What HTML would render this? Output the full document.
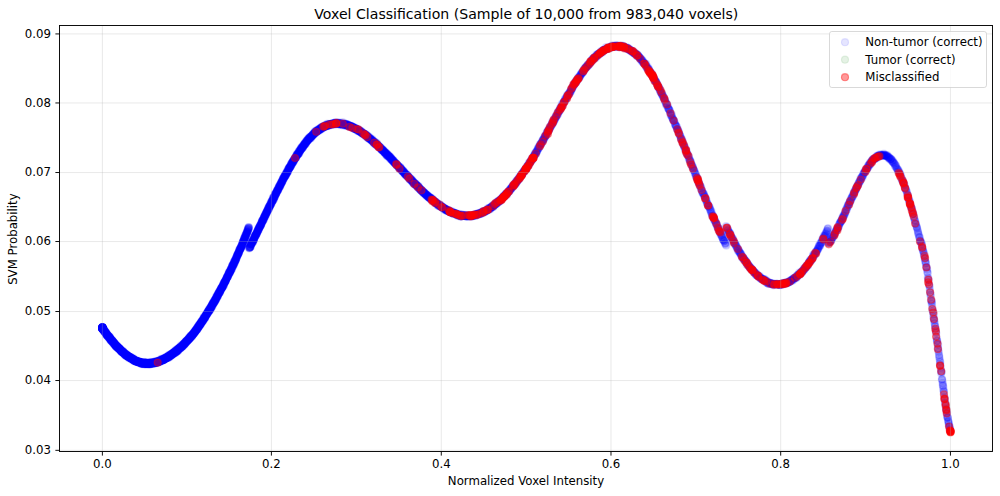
<!DOCTYPE html>
<html><head><meta charset="utf-8"><title>Voxel Classification</title><style>html,body{margin:0;padding:0;background:#fff}svg{display:block}</style></head><body>
<svg width="1000" height="496" viewBox="0 0 1000 496" font-family="'DejaVu Sans', 'Liberation Sans', sans-serif">
<rect width="1000" height="496" fill="#fff"/>
<defs><circle id="c" r="3.525"/></defs>
<g fill="#0000ff" fill-opacity="0.1" stroke="#0000ff" stroke-opacity="0.1" stroke-width="1.175"><use href="#c" x="350.9" y="126.4"/><use href="#c" x="940.3" y="365.6"/><use href="#c" x="353.1" y="127.7"/><use href="#c" x="858.8" y="183.3"/><use href="#c" x="223.6" y="284.7"/><use href="#c" x="680.5" y="136.4"/><use href="#c" x="107.2" y="335.5"/><use href="#c" x="581.9" y="73.3"/><use href="#c" x="173.1" y="353.2"/><use href="#c" x="706.4" y="200.0"/><use href="#c" x="189.3" y="337.6"/><use href="#c" x="268.2" y="208.3"/><use href="#c" x="114.0" y="342.3"/><use href="#c" x="779.5" y="285.0"/><use href="#c" x="714.8" y="220.7"/><use href="#c" x="388.5" y="156.0"/><use href="#c" x="614.1" y="46.1"/><use href="#c" x="693.2" y="168.8"/><use href="#c" x="883.1" y="155.0"/><use href="#c" x="151.1" y="363.5"/><use href="#c" x="561.3" y="107.5"/><use href="#c" x="252.2" y="242.6"/><use href="#c" x="136.3" y="361.8"/><use href="#c" x="102.4" y="328.1"/><use href="#c" x="328.8" y="125.5"/><use href="#c" x="102.4" y="328.0"/><use href="#c" x="757.3" y="275.6"/><use href="#c" x="457.9" y="214.5"/><use href="#c" x="258.8" y="228.5"/><use href="#c" x="472.8" y="215.4"/><use href="#c" x="749.3" y="266.9"/><use href="#c" x="416.0" y="183.9"/><use href="#c" x="168.3" y="355.3"/><use href="#c" x="186.7" y="341.3"/><use href="#c" x="308.4" y="139.7"/><use href="#c" x="817.7" y="249.6"/><use href="#c" x="856.7" y="186.5"/><use href="#c" x="749.8" y="267.8"/><use href="#c" x="402.2" y="171.2"/><use href="#c" x="210.2" y="308.8"/><use href="#c" x="220.2" y="290.4"/><use href="#c" x="265.7" y="214.4"/><use href="#c" x="471.5" y="216.5"/><use href="#c" x="287.2" y="170.5"/><use href="#c" x="700.5" y="186.6"/><use href="#c" x="146.3" y="364.0"/><use href="#c" x="708.3" y="205.5"/><use href="#c" x="933.0" y="312.5"/><use href="#c" x="476.1" y="214.5"/><use href="#c" x="629.6" y="50.0"/><use href="#c" x="110.8" y="339.9"/><use href="#c" x="386.6" y="155.0"/><use href="#c" x="924.6" y="258.8"/><use href="#c" x="104.9" y="331.8"/><use href="#c" x="163.5" y="359.2"/><use href="#c" x="128.9" y="358.2"/><use href="#c" x="199.2" y="324.7"/><use href="#c" x="146.5" y="363.7"/><use href="#c" x="191.3" y="336.1"/><use href="#c" x="284.7" y="176.7"/><use href="#c" x="508.6" y="191.0"/><use href="#c" x="434.1" y="201.2"/><use href="#c" x="117.8" y="347.4"/><use href="#c" x="794.5" y="278.0"/><use href="#c" x="763.4" y="279.2"/><use href="#c" x="467.9" y="216.6"/><use href="#c" x="593.9" y="58.3"/><use href="#c" x="557.8" y="112.7"/><use href="#c" x="803.2" y="270.0"/><use href="#c" x="164.7" y="359.3"/><use href="#c" x="278.4" y="189.8"/><use href="#c" x="307.6" y="141.0"/><use href="#c" x="934.4" y="321.0"/><use href="#c" x="486.1" y="210.8"/><use href="#c" x="179.6" y="348.0"/><use href="#c" x="161.4" y="359.6"/><use href="#c" x="340.9" y="123.1"/><use href="#c" x="300.6" y="149.9"/><use href="#c" x="407.2" y="175.8"/><use href="#c" x="878.4" y="157.4"/><use href="#c" x="518.3" y="179.2"/><use href="#c" x="888.3" y="158.2"/><use href="#c" x="892.7" y="162.0"/><use href="#c" x="573.2" y="85.8"/><use href="#c" x="155.3" y="362.2"/><use href="#c" x="176.6" y="350.0"/><use href="#c" x="786.6" y="282.9"/><use href="#c" x="438.8" y="205.1"/><use href="#c" x="862.5" y="177.8"/><use href="#c" x="254.3" y="237.4"/><use href="#c" x="481.3" y="212.8"/><use href="#c" x="285.0" y="175.6"/><use href="#c" x="307.3" y="140.3"/><use href="#c" x="319.6" y="130.6"/><use href="#c" x="102.4" y="327.8"/><use href="#c" x="479.0" y="213.3"/><use href="#c" x="114.5" y="343.4"/><use href="#c" x="356.1" y="129.4"/><use href="#c" x="337.3" y="123.1"/><use href="#c" x="230.5" y="271.2"/><use href="#c" x="190.4" y="337.1"/><use href="#c" x="193.4" y="333.9"/><use href="#c" x="140.5" y="362.3"/><use href="#c" x="128.3" y="357.6"/><use href="#c" x="316.7" y="131.9"/><use href="#c" x="161.6" y="358.8"/><use href="#c" x="193.8" y="333.7"/><use href="#c" x="936.1" y="332.9"/><use href="#c" x="239.4" y="250.7"/><use href="#c" x="783.1" y="282.8"/><use href="#c" x="266.9" y="211.7"/><use href="#c" x="277.7" y="190.6"/><use href="#c" x="397.9" y="166.1"/><use href="#c" x="282.3" y="181.0"/><use href="#c" x="194.2" y="332.8"/><use href="#c" x="570.9" y="89.7"/><use href="#c" x="787.7" y="283.0"/><use href="#c" x="287.8" y="171.3"/><use href="#c" x="135.6" y="361.3"/><use href="#c" x="571.2" y="89.6"/><use href="#c" x="825.5" y="235.8"/><use href="#c" x="873.7" y="159.0"/><use href="#c" x="367.9" y="137.2"/><use href="#c" x="252.0" y="242.4"/><use href="#c" x="336.2" y="123.2"/><use href="#c" x="196.4" y="329.5"/><use href="#c" x="310.3" y="138.7"/><use href="#c" x="270.5" y="204.2"/><use href="#c" x="717.6" y="227.5"/><use href="#c" x="302.5" y="147.3"/><use href="#c" x="280.7" y="184.4"/><use href="#c" x="896.3" y="166.7"/><use href="#c" x="519.0" y="178.6"/><use href="#c" x="238.2" y="253.8"/><use href="#c" x="520.3" y="176.6"/><use href="#c" x="213.7" y="303.6"/><use href="#c" x="153.1" y="363.0"/><use href="#c" x="102.4" y="327.1"/><use href="#c" x="210.7" y="307.2"/><use href="#c" x="669.2" y="109.5"/><use href="#c" x="200.5" y="324.6"/><use href="#c" x="414.5" y="183.2"/><use href="#c" x="194.7" y="331.9"/><use href="#c" x="395.7" y="164.1"/><use href="#c" x="163.6" y="359.4"/><use href="#c" x="728.3" y="230.9"/><use href="#c" x="308.5" y="139.1"/><use href="#c" x="301.4" y="149.0"/><use href="#c" x="416.1" y="184.4"/><use href="#c" x="783.8" y="283.6"/><use href="#c" x="338.5" y="124.3"/><use href="#c" x="128.5" y="356.6"/><use href="#c" x="190.4" y="336.5"/><use href="#c" x="362.9" y="133.3"/><use href="#c" x="365.2" y="134.0"/><use href="#c" x="677.7" y="130.0"/><use href="#c" x="564.5" y="101.7"/><use href="#c" x="694.7" y="173.4"/><use href="#c" x="357.1" y="129.3"/><use href="#c" x="930.5" y="294.7"/><use href="#c" x="404.0" y="172.3"/><use href="#c" x="427.4" y="196.2"/><use href="#c" x="247.2" y="232.3"/><use href="#c" x="175.5" y="352.5"/><use href="#c" x="751.6" y="269.6"/><use href="#c" x="221.5" y="287.8"/><use href="#c" x="272.1" y="201.8"/><use href="#c" x="102.6" y="327.9"/><use href="#c" x="848.1" y="204.9"/><use href="#c" x="113.3" y="341.7"/><use href="#c" x="115.6" y="345.2"/><use href="#c" x="849.7" y="202.5"/><use href="#c" x="147.2" y="364.1"/><use href="#c" x="550.1" y="128.0"/><use href="#c" x="132.3" y="359.6"/><use href="#c" x="102.4" y="327.6"/><use href="#c" x="465.3" y="215.9"/><use href="#c" x="920.8" y="242.4"/><use href="#c" x="871.5" y="161.1"/><use href="#c" x="805.4" y="267.9"/><use href="#c" x="619.7" y="46.5"/><use href="#c" x="569.4" y="92.6"/><use href="#c" x="250.8" y="244.4"/><use href="#c" x="224.0" y="284.4"/><use href="#c" x="357.4" y="129.3"/><use href="#c" x="348.5" y="125.7"/><use href="#c" x="272.6" y="200.6"/><use href="#c" x="123.2" y="352.6"/><use href="#c" x="303.3" y="146.1"/><use href="#c" x="837.0" y="229.0"/><use href="#c" x="256.2" y="233.6"/><use href="#c" x="539.6" y="146.6"/><use href="#c" x="466.8" y="215.9"/><use href="#c" x="285.3" y="176.2"/><use href="#c" x="348.8" y="125.9"/><use href="#c" x="150.4" y="363.3"/><use href="#c" x="877.8" y="156.6"/><use href="#c" x="431.7" y="199.4"/><use href="#c" x="370.6" y="139.5"/><use href="#c" x="471.7" y="215.7"/><use href="#c" x="350.0" y="126.9"/><use href="#c" x="107.8" y="335.0"/><use href="#c" x="163.1" y="360.5"/><use href="#c" x="281.8" y="181.1"/><use href="#c" x="222.0" y="288.0"/><use href="#c" x="753.7" y="272.6"/><use href="#c" x="234.0" y="262.9"/><use href="#c" x="897.3" y="169.6"/><use href="#c" x="174.5" y="352.4"/><use href="#c" x="580.8" y="74.6"/><use href="#c" x="239.0" y="251.4"/><use href="#c" x="149.2" y="363.2"/><use href="#c" x="213.0" y="303.4"/><use href="#c" x="339.7" y="123.5"/><use href="#c" x="390.5" y="157.5"/><use href="#c" x="231.4" y="269.9"/><use href="#c" x="328.3" y="124.4"/><use href="#c" x="201.8" y="321.3"/><use href="#c" x="367.3" y="136.0"/><use href="#c" x="276.9" y="191.6"/><use href="#c" x="424.2" y="193.1"/><use href="#c" x="907.9" y="195.8"/><use href="#c" x="241.2" y="247.2"/><use href="#c" x="261.4" y="222.7"/><use href="#c" x="229.8" y="272.8"/><use href="#c" x="250.7" y="247.2"/><use href="#c" x="202.3" y="321.7"/><use href="#c" x="796.9" y="275.3"/><use href="#c" x="297.9" y="153.7"/><use href="#c" x="721.5" y="234.6"/><use href="#c" x="240.0" y="249.5"/><use href="#c" x="209.3" y="309.2"/><use href="#c" x="222.9" y="285.4"/><use href="#c" x="124.0" y="353.2"/><use href="#c" x="199.4" y="326.3"/><use href="#c" x="116.1" y="345.4"/><use href="#c" x="563.7" y="102.1"/><use href="#c" x="175.0" y="351.9"/><use href="#c" x="167.4" y="357.7"/><use href="#c" x="377.3" y="145.3"/><use href="#c" x="491.2" y="208.0"/><use href="#c" x="347.2" y="125.3"/><use href="#c" x="281.5" y="182.1"/><use href="#c" x="301.9" y="147.1"/><use href="#c" x="273.7" y="197.3"/><use href="#c" x="329.5" y="124.6"/><use href="#c" x="295.6" y="157.7"/><use href="#c" x="284.0" y="178.6"/><use href="#c" x="463.4" y="215.5"/><use href="#c" x="757.9" y="275.6"/><use href="#c" x="274.3" y="197.2"/><use href="#c" x="359.4" y="131.0"/><use href="#c" x="269.0" y="207.1"/><use href="#c" x="140.9" y="363.7"/><use href="#c" x="490.9" y="208.0"/><use href="#c" x="942.3" y="380.7"/><use href="#c" x="738.4" y="251.3"/><use href="#c" x="116.6" y="346.5"/><use href="#c" x="646.9" y="68.3"/><use href="#c" x="265.9" y="214.8"/><use href="#c" x="801.2" y="272.4"/><use href="#c" x="915.9" y="224.1"/><use href="#c" x="463.2" y="215.9"/><use href="#c" x="682.4" y="140.4"/><use href="#c" x="169.0" y="357.4"/><use href="#c" x="210.8" y="307.2"/><use href="#c" x="520.4" y="176.6"/><use href="#c" x="418.7" y="187.9"/><use href="#c" x="218.9" y="292.9"/><use href="#c" x="161.8" y="359.8"/><use href="#c" x="371.8" y="140.5"/><use href="#c" x="138.3" y="361.4"/><use href="#c" x="401.2" y="168.4"/><use href="#c" x="339.1" y="123.5"/><use href="#c" x="137.6" y="361.8"/><use href="#c" x="834.6" y="233.8"/><use href="#c" x="268.7" y="209.0"/><use href="#c" x="242.0" y="244.9"/><use href="#c" x="115.5" y="345.2"/><use href="#c" x="176.6" y="351.5"/><use href="#c" x="329.2" y="124.6"/><use href="#c" x="470.9" y="216.2"/><use href="#c" x="416.6" y="185.4"/><use href="#c" x="178.3" y="350.4"/><use href="#c" x="499.2" y="201.1"/><use href="#c" x="834.1" y="235.3"/><use href="#c" x="232.1" y="266.7"/><use href="#c" x="948.9" y="423.9"/><use href="#c" x="237.9" y="253.9"/><use href="#c" x="257.6" y="231.7"/><use href="#c" x="376.4" y="144.8"/><use href="#c" x="641.4" y="59.7"/><use href="#c" x="828.8" y="243.3"/><use href="#c" x="622.0" y="47.3"/><use href="#c" x="240.5" y="248.9"/><use href="#c" x="262.4" y="220.3"/><use href="#c" x="112.5" y="341.2"/><use href="#c" x="290.4" y="166.8"/><use href="#c" x="881.0" y="154.8"/><use href="#c" x="132.1" y="358.5"/><use href="#c" x="630.3" y="50.1"/><use href="#c" x="380.5" y="147.7"/><use href="#c" x="337.4" y="122.5"/><use href="#c" x="866.8" y="168.2"/><use href="#c" x="330.5" y="124.4"/><use href="#c" x="890.3" y="158.6"/><use href="#c" x="162.3" y="359.3"/><use href="#c" x="489.0" y="209.1"/><use href="#c" x="565.1" y="98.7"/><use href="#c" x="173.3" y="353.2"/><use href="#c" x="251.5" y="242.7"/><use href="#c" x="157.5" y="362.6"/><use href="#c" x="159.8" y="361.2"/><use href="#c" x="505.0" y="196.3"/><use href="#c" x="374.8" y="143.3"/><use href="#c" x="527.6" y="165.5"/><use href="#c" x="485.3" y="211.0"/><use href="#c" x="731.4" y="237.4"/><use href="#c" x="187.2" y="341.5"/><use href="#c" x="838.3" y="227.2"/><use href="#c" x="469.1" y="216.1"/><use href="#c" x="804.9" y="268.1"/><use href="#c" x="428.9" y="196.3"/><use href="#c" x="185.6" y="342.8"/><use href="#c" x="242.2" y="245.2"/><use href="#c" x="948.5" y="422.2"/><use href="#c" x="932.8" y="311.4"/><use href="#c" x="102.4" y="328.0"/><use href="#c" x="608.7" y="47.6"/><use href="#c" x="102.7" y="328.3"/><use href="#c" x="187.9" y="340.5"/><use href="#c" x="418.2" y="186.8"/><use href="#c" x="263.0" y="219.5"/><use href="#c" x="277.2" y="190.0"/><use href="#c" x="250.5" y="246.5"/><use href="#c" x="287.5" y="171.2"/><use href="#c" x="451.0" y="212.2"/><use href="#c" x="880.0" y="155.4"/><use href="#c" x="350.5" y="126.1"/><use href="#c" x="294.6" y="159.4"/><use href="#c" x="249.7" y="247.5"/><use href="#c" x="438.6" y="206.0"/><use href="#c" x="501.4" y="199.8"/><use href="#c" x="691.1" y="162.5"/><use href="#c" x="642.4" y="60.6"/><use href="#c" x="203.7" y="319.0"/><use href="#c" x="211.8" y="305.0"/><use href="#c" x="578.1" y="77.4"/><use href="#c" x="298.4" y="152.2"/><use href="#c" x="436.1" y="202.9"/><use href="#c" x="131.5" y="358.8"/><use href="#c" x="875.4" y="159.0"/><use href="#c" x="291.5" y="163.8"/><use href="#c" x="513.0" y="186.1"/><use href="#c" x="360.6" y="131.2"/><use href="#c" x="807.0" y="265.7"/><use href="#c" x="140.5" y="362.3"/><use href="#c" x="666.2" y="105.3"/><use href="#c" x="512.3" y="186.9"/><use href="#c" x="252.9" y="240.5"/><use href="#c" x="365.4" y="134.8"/><use href="#c" x="198.1" y="326.2"/><use href="#c" x="534.8" y="155.0"/><use href="#c" x="129.9" y="356.9"/><use href="#c" x="298.3" y="154.0"/><use href="#c" x="398.6" y="166.0"/><use href="#c" x="195.9" y="330.4"/><use href="#c" x="490.0" y="207.8"/><use href="#c" x="431.0" y="197.6"/><use href="#c" x="707.6" y="203.5"/><use href="#c" x="628.3" y="49.5"/><use href="#c" x="447.7" y="209.8"/><use href="#c" x="113.3" y="342.4"/><use href="#c" x="479.3" y="213.0"/><use href="#c" x="445.5" y="209.2"/><use href="#c" x="936.6" y="338.6"/><use href="#c" x="162.5" y="360.5"/><use href="#c" x="626.8" y="48.1"/><use href="#c" x="423.9" y="192.9"/><use href="#c" x="234.5" y="263.5"/><use href="#c" x="786.9" y="283.2"/><use href="#c" x="286.2" y="173.8"/><use href="#c" x="102.4" y="328.1"/><use href="#c" x="553.3" y="122.7"/><use href="#c" x="712.4" y="216.7"/><use href="#c" x="190.5" y="337.9"/><use href="#c" x="928.3" y="278.0"/><use href="#c" x="606.1" y="49.3"/><use href="#c" x="507.9" y="192.4"/><use href="#c" x="915.3" y="221.7"/><use href="#c" x="870.2" y="163.2"/><use href="#c" x="480.7" y="213.4"/><use href="#c" x="920.0" y="240.1"/><use href="#c" x="165.5" y="358.2"/><use href="#c" x="242.9" y="242.1"/><use href="#c" x="155.7" y="363.2"/><use href="#c" x="267.8" y="209.8"/><use href="#c" x="945.8" y="407.4"/><use href="#c" x="346.9" y="124.0"/><use href="#c" x="131.9" y="358.3"/><use href="#c" x="117.3" y="346.4"/><use href="#c" x="103.3" y="330.9"/><use href="#c" x="644.4" y="63.8"/><use href="#c" x="106.1" y="333.6"/><use href="#c" x="143.8" y="363.9"/><use href="#c" x="692.1" y="165.5"/><use href="#c" x="293.4" y="160.6"/><use href="#c" x="639.5" y="57.1"/><use href="#c" x="537.6" y="149.8"/><use href="#c" x="387.7" y="155.1"/><use href="#c" x="356.7" y="129.3"/><use href="#c" x="195.4" y="331.3"/><use href="#c" x="207.2" y="314.0"/><use href="#c" x="195.0" y="332.0"/><use href="#c" x="567.9" y="95.6"/><use href="#c" x="223.5" y="285.5"/><use href="#c" x="280.5" y="185.8"/><use href="#c" x="248.5" y="227.4"/><use href="#c" x="367.1" y="136.0"/><use href="#c" x="909.2" y="201.3"/><use href="#c" x="144.6" y="363.4"/><use href="#c" x="557.5" y="113.0"/><use href="#c" x="536.8" y="151.9"/><use href="#c" x="579.5" y="76.8"/><use href="#c" x="431.1" y="199.2"/><use href="#c" x="194.7" y="331.2"/><use href="#c" x="565.2" y="100.7"/><use href="#c" x="213.1" y="302.7"/><use href="#c" x="573.3" y="86.2"/><use href="#c" x="216.0" y="297.3"/><use href="#c" x="180.4" y="348.8"/><use href="#c" x="343.7" y="123.9"/><use href="#c" x="304.5" y="144.2"/><use href="#c" x="636.2" y="54.5"/><use href="#c" x="145.4" y="363.6"/><use href="#c" x="373.0" y="142.3"/><use href="#c" x="134.0" y="360.7"/><use href="#c" x="408.2" y="175.6"/><use href="#c" x="102.4" y="327.7"/><use href="#c" x="320.8" y="128.9"/><use href="#c" x="198.4" y="326.9"/><use href="#c" x="199.0" y="326.4"/><use href="#c" x="304.4" y="144.7"/><use href="#c" x="268.5" y="209.8"/><use href="#c" x="604.8" y="49.3"/><use href="#c" x="102.4" y="327.4"/><use href="#c" x="867.3" y="169.1"/><use href="#c" x="343.2" y="124.0"/><use href="#c" x="796.5" y="276.9"/><use href="#c" x="729.3" y="234.0"/><use href="#c" x="558.4" y="111.8"/><use href="#c" x="823.8" y="235.7"/><use href="#c" x="717.8" y="227.9"/><use href="#c" x="110.9" y="339.3"/><use href="#c" x="354.2" y="129.1"/><use href="#c" x="526.9" y="168.2"/><use href="#c" x="170.1" y="357.1"/><use href="#c" x="940.7" y="368.0"/><use href="#c" x="376.6" y="144.0"/><use href="#c" x="152.5" y="363.4"/><use href="#c" x="414.4" y="183.7"/><use href="#c" x="902.9" y="181.6"/><use href="#c" x="739.7" y="252.4"/><use href="#c" x="192.7" y="334.3"/><use href="#c" x="180.8" y="346.7"/><use href="#c" x="366.7" y="135.8"/><use href="#c" x="264.1" y="217.4"/><use href="#c" x="907.0" y="192.4"/><use href="#c" x="878.6" y="155.9"/><use href="#c" x="102.4" y="328.6"/><use href="#c" x="547.3" y="132.9"/><use href="#c" x="243.3" y="241.8"/><use href="#c" x="846.9" y="209.7"/><use href="#c" x="404.6" y="173.3"/><use href="#c" x="517.8" y="180.4"/><use href="#c" x="746.8" y="262.9"/><use href="#c" x="118.7" y="348.3"/><use href="#c" x="740.0" y="252.3"/><use href="#c" x="137.9" y="362.6"/><use href="#c" x="313.6" y="134.4"/><use href="#c" x="275.1" y="196.2"/><use href="#c" x="750.9" y="267.9"/><use href="#c" x="205.8" y="315.4"/><use href="#c" x="433.3" y="200.8"/><use href="#c" x="332.1" y="124.3"/><use href="#c" x="146.0" y="362.7"/><use href="#c" x="164.9" y="359.3"/><use href="#c" x="130.8" y="358.2"/><use href="#c" x="430.1" y="198.7"/><use href="#c" x="824.8" y="235.6"/><use href="#c" x="896.4" y="168.0"/><use href="#c" x="437.1" y="203.8"/><use href="#c" x="104.8" y="331.9"/><use href="#c" x="391.6" y="159.8"/><use href="#c" x="119.2" y="347.9"/><use href="#c" x="227.6" y="276.7"/><use href="#c" x="231.0" y="269.1"/><use href="#c" x="417.4" y="186.3"/><use href="#c" x="808.6" y="262.7"/><use href="#c" x="204.9" y="318.5"/><use href="#c" x="250.2" y="246.6"/><use href="#c" x="809.9" y="261.7"/><use href="#c" x="375.3" y="143.4"/><use href="#c" x="861.5" y="177.5"/><use href="#c" x="187.9" y="340.1"/><use href="#c" x="855.7" y="189.5"/><use href="#c" x="638.6" y="56.7"/><use href="#c" x="569.1" y="94.2"/><use href="#c" x="267.4" y="210.4"/><use href="#c" x="943.8" y="391.6"/><use href="#c" x="186.6" y="341.5"/><use href="#c" x="227.9" y="276.7"/><use href="#c" x="130.9" y="358.2"/><use href="#c" x="157.3" y="362.0"/><use href="#c" x="347.6" y="124.9"/><use href="#c" x="197.8" y="327.9"/><use href="#c" x="267.3" y="211.1"/><use href="#c" x="818.9" y="246.1"/><use href="#c" x="800.0" y="273.5"/><use href="#c" x="162.8" y="360.2"/><use href="#c" x="160.3" y="360.7"/><use href="#c" x="909.2" y="200.8"/><use href="#c" x="147.5" y="364.3"/><use href="#c" x="752.0" y="270.2"/><use href="#c" x="227.1" y="277.2"/><use href="#c" x="787.4" y="283.2"/><use href="#c" x="230.4" y="269.7"/><use href="#c" x="264.5" y="217.2"/><use href="#c" x="841.5" y="220.7"/><use href="#c" x="290.7" y="166.0"/><use href="#c" x="555.1" y="117.9"/><use href="#c" x="106.5" y="334.7"/><use href="#c" x="225.9" y="280.9"/><use href="#c" x="931.4" y="300.9"/><use href="#c" x="457.0" y="215.2"/><use href="#c" x="456.4" y="213.9"/><use href="#c" x="114.3" y="343.1"/><use href="#c" x="380.8" y="148.8"/><use href="#c" x="472.5" y="216.3"/><use href="#c" x="119.7" y="348.8"/><use href="#c" x="232.4" y="266.8"/><use href="#c" x="816.2" y="252.4"/><use href="#c" x="118.3" y="348.4"/><use href="#c" x="508.4" y="191.9"/><use href="#c" x="112.9" y="341.4"/><use href="#c" x="739.0" y="250.5"/><use href="#c" x="106.7" y="333.0"/><use href="#c" x="212.9" y="303.7"/><use href="#c" x="287.7" y="171.2"/><use href="#c" x="174.1" y="352.0"/><use href="#c" x="147.0" y="363.9"/><use href="#c" x="341.5" y="124.0"/><use href="#c" x="430.6" y="197.9"/><use href="#c" x="561.7" y="103.9"/><use href="#c" x="789.5" y="281.5"/><use href="#c" x="678.7" y="132.4"/><use href="#c" x="102.4" y="328.0"/><use href="#c" x="369.0" y="137.8"/><use href="#c" x="166.2" y="357.3"/><use href="#c" x="211.6" y="306.4"/><use href="#c" x="658.1" y="86.6"/><use href="#c" x="940.3" y="361.7"/><use href="#c" x="762.0" y="279.6"/><use href="#c" x="225.0" y="281.9"/><use href="#c" x="413.9" y="184.1"/><use href="#c" x="398.4" y="165.8"/><use href="#c" x="180.7" y="347.7"/><use href="#c" x="484.7" y="210.9"/><use href="#c" x="116.2" y="346.3"/><use href="#c" x="219.9" y="290.7"/><use href="#c" x="503.0" y="197.4"/><use href="#c" x="517.4" y="180.7"/><use href="#c" x="113.1" y="343.7"/><use href="#c" x="736.6" y="247.4"/><use href="#c" x="680.6" y="138.0"/><use href="#c" x="215.9" y="298.3"/><use href="#c" x="102.4" y="328.6"/><use href="#c" x="725.6" y="243.2"/><use href="#c" x="512.7" y="186.2"/><use href="#c" x="245.7" y="234.8"/><use href="#c" x="761.4" y="278.6"/><use href="#c" x="614.4" y="46.9"/><use href="#c" x="258.6" y="228.8"/><use href="#c" x="286.8" y="172.3"/><use href="#c" x="916.7" y="227.1"/><use href="#c" x="166.8" y="358.0"/><use href="#c" x="403.3" y="171.0"/><use href="#c" x="199.3" y="325.0"/><use href="#c" x="370.5" y="138.7"/><use href="#c" x="114.4" y="343.8"/><use href="#c" x="667.0" y="104.6"/><use href="#c" x="510.2" y="189.0"/><use href="#c" x="270.6" y="204.6"/><use href="#c" x="386.9" y="154.2"/><use href="#c" x="186.5" y="341.2"/><use href="#c" x="248.3" y="229.2"/><use href="#c" x="673.4" y="119.8"/><use href="#c" x="140.1" y="361.6"/><use href="#c" x="377.6" y="145.1"/><use href="#c" x="218.9" y="292.9"/><use href="#c" x="367.4" y="135.6"/><use href="#c" x="785.9" y="283.4"/><use href="#c" x="784.3" y="283.5"/><use href="#c" x="530.2" y="162.7"/><use href="#c" x="388.7" y="156.0"/><use href="#c" x="144.0" y="362.9"/><use href="#c" x="235.0" y="260.0"/><use href="#c" x="317.7" y="130.9"/><use href="#c" x="459.7" y="213.8"/><use href="#c" x="301.4" y="149.6"/><use href="#c" x="103.6" y="329.4"/><use href="#c" x="813.4" y="256.3"/><use href="#c" x="659.5" y="89.7"/><use href="#c" x="440.3" y="204.9"/><use href="#c" x="559.4" y="110.8"/><use href="#c" x="193.8" y="332.8"/><use href="#c" x="772.8" y="283.7"/><use href="#c" x="935.7" y="328.5"/><use href="#c" x="252.3" y="241.3"/><use href="#c" x="619.4" y="47.4"/><use href="#c" x="623.4" y="46.6"/><use href="#c" x="152.6" y="363.1"/><use href="#c" x="766.8" y="280.6"/><use href="#c" x="158.5" y="362.6"/><use href="#c" x="199.1" y="326.1"/><use href="#c" x="714.3" y="220.4"/><use href="#c" x="643.6" y="63.0"/><use href="#c" x="228.8" y="274.0"/><use href="#c" x="328.4" y="125.5"/><use href="#c" x="158.8" y="360.8"/><use href="#c" x="125.6" y="355.2"/><use href="#c" x="370.2" y="138.6"/><use href="#c" x="737.8" y="248.6"/><use href="#c" x="162.2" y="360.5"/><use href="#c" x="215.8" y="300.6"/><use href="#c" x="271.8" y="200.8"/><use href="#c" x="422.8" y="191.2"/><use href="#c" x="209.3" y="310.9"/><use href="#c" x="336.3" y="123.6"/><use href="#c" x="468.8" y="215.9"/><use href="#c" x="301.6" y="148.7"/><use href="#c" x="343.1" y="124.0"/><use href="#c" x="465.0" y="216.2"/><use href="#c" x="482.2" y="213.6"/><use href="#c" x="141.7" y="362.9"/><use href="#c" x="938.7" y="352.6"/><use href="#c" x="200.7" y="323.4"/><use href="#c" x="276.3" y="193.6"/><use href="#c" x="143.3" y="363.7"/><use href="#c" x="354.7" y="128.8"/><use href="#c" x="437.5" y="203.4"/><use href="#c" x="679.9" y="135.3"/><use href="#c" x="125.3" y="355.0"/><use href="#c" x="502.2" y="198.7"/><use href="#c" x="109.7" y="338.1"/><use href="#c" x="555.6" y="117.9"/><use href="#c" x="227.4" y="277.1"/><use href="#c" x="104.6" y="331.5"/><use href="#c" x="296.3" y="156.7"/><use href="#c" x="488.6" y="208.2"/><use href="#c" x="699.1" y="183.3"/><use href="#c" x="396.0" y="164.3"/><use href="#c" x="296.9" y="154.6"/><use href="#c" x="684.4" y="146.6"/><use href="#c" x="359.9" y="131.6"/><use href="#c" x="204.0" y="318.8"/><use href="#c" x="201.9" y="322.1"/><use href="#c" x="828.4" y="242.8"/><use href="#c" x="209.6" y="308.9"/><use href="#c" x="364.1" y="133.6"/><use href="#c" x="443.1" y="208.3"/><use href="#c" x="240.3" y="248.9"/><use href="#c" x="109.8" y="339.2"/><use href="#c" x="881.4" y="154.9"/><use href="#c" x="170.3" y="355.9"/><use href="#c" x="384.7" y="152.4"/><use href="#c" x="562.0" y="106.5"/><use href="#c" x="699.4" y="184.2"/><use href="#c" x="108.0" y="335.4"/><use href="#c" x="534.3" y="154.7"/><use href="#c" x="342.7" y="122.1"/><use href="#c" x="707.1" y="203.2"/><use href="#c" x="606.4" y="49.0"/><use href="#c" x="850.9" y="199.2"/><use href="#c" x="307.2" y="140.5"/><use href="#c" x="211.1" y="308.5"/><use href="#c" x="830.4" y="241.6"/><use href="#c" x="517.6" y="179.8"/><use href="#c" x="429.5" y="197.8"/><use href="#c" x="861.2" y="178.2"/><use href="#c" x="181.0" y="347.0"/><use href="#c" x="917.7" y="230.5"/><use href="#c" x="146.1" y="362.8"/><use href="#c" x="382.4" y="149.5"/><use href="#c" x="106.2" y="333.1"/><use href="#c" x="753.0" y="270.9"/><use href="#c" x="255.4" y="235.3"/><use href="#c" x="175.2" y="351.7"/><use href="#c" x="258.4" y="229.9"/><use href="#c" x="799.3" y="274.3"/><use href="#c" x="365.9" y="134.6"/><use href="#c" x="178.8" y="349.2"/><use href="#c" x="220.6" y="290.3"/><use href="#c" x="778.7" y="284.9"/><use href="#c" x="232.8" y="265.3"/><use href="#c" x="106.3" y="333.9"/><use href="#c" x="157.2" y="361.4"/><use href="#c" x="108.0" y="336.4"/><use href="#c" x="228.3" y="275.5"/><use href="#c" x="148.3" y="363.2"/><use href="#c" x="164.5" y="358.8"/><use href="#c" x="218.6" y="292.8"/><use href="#c" x="240.8" y="248.5"/><use href="#c" x="636.1" y="54.9"/><use href="#c" x="459.3" y="214.8"/><use href="#c" x="593.5" y="58.1"/><use href="#c" x="212.7" y="303.0"/><use href="#c" x="723.0" y="240.0"/><use href="#c" x="398.9" y="167.0"/><use href="#c" x="497.4" y="201.5"/><use href="#c" x="239.2" y="251.2"/><use href="#c" x="415.6" y="184.6"/><use href="#c" x="259.5" y="227.5"/><use href="#c" x="433.1" y="201.1"/><use href="#c" x="237.6" y="255.2"/><use href="#c" x="461.3" y="215.6"/><use href="#c" x="158.5" y="361.3"/><use href="#c" x="472.3" y="215.5"/><use href="#c" x="319.3" y="128.9"/><use href="#c" x="222.4" y="287.1"/><use href="#c" x="189.0" y="339.3"/><use href="#c" x="309.9" y="137.9"/><use href="#c" x="123.2" y="352.1"/><use href="#c" x="110.7" y="339.7"/><use href="#c" x="136.7" y="361.1"/><use href="#c" x="419.6" y="188.8"/><use href="#c" x="750.1" y="266.8"/><use href="#c" x="209.7" y="310.7"/><use href="#c" x="371.2" y="140.5"/><use href="#c" x="941.6" y="372.0"/><use href="#c" x="530.4" y="161.6"/><use href="#c" x="171.5" y="355.3"/><use href="#c" x="921.4" y="242.4"/><use href="#c" x="284.8" y="175.7"/><use href="#c" x="230.0" y="271.9"/><use href="#c" x="612.7" y="47.0"/><use href="#c" x="625.4" y="47.7"/><use href="#c" x="665.3" y="101.5"/><use href="#c" x="233.0" y="264.9"/><use href="#c" x="132.8" y="358.9"/><use href="#c" x="737.2" y="248.0"/><use href="#c" x="741.2" y="254.5"/><use href="#c" x="858.5" y="183.0"/><use href="#c" x="239.7" y="250.4"/><use href="#c" x="447.4" y="210.7"/><use href="#c" x="321.1" y="128.6"/><use href="#c" x="487.5" y="208.7"/><use href="#c" x="193.0" y="335.1"/><use href="#c" x="161.0" y="360.8"/><use href="#c" x="434.5" y="201.6"/><use href="#c" x="343.3" y="123.6"/><use href="#c" x="127.1" y="355.6"/><use href="#c" x="311.7" y="135.8"/><use href="#c" x="270.2" y="205.4"/><use href="#c" x="708.0" y="205.1"/><use href="#c" x="541.0" y="143.5"/><use href="#c" x="110.8" y="340.3"/><use href="#c" x="139.6" y="361.9"/><use href="#c" x="153.9" y="363.0"/><use href="#c" x="372.6" y="140.5"/><use href="#c" x="327.7" y="124.9"/><use href="#c" x="222.2" y="287.6"/><use href="#c" x="102.4" y="328.3"/><use href="#c" x="112.8" y="342.1"/><use href="#c" x="887.1" y="156.2"/><use href="#c" x="143.6" y="362.7"/><use href="#c" x="608.3" y="48.1"/><use href="#c" x="904.6" y="185.4"/><use href="#c" x="302.7" y="146.6"/><use href="#c" x="936.9" y="341.4"/><use href="#c" x="320.2" y="129.9"/><use href="#c" x="299.2" y="153.4"/><use href="#c" x="666.5" y="103.6"/><use href="#c" x="648.4" y="69.9"/><use href="#c" x="266.7" y="212.6"/><use href="#c" x="306.6" y="141.7"/><use href="#c" x="747.7" y="264.6"/><use href="#c" x="335.9" y="122.6"/><use href="#c" x="105.9" y="332.1"/><use href="#c" x="344.8" y="124.9"/><use href="#c" x="102.4" y="327.9"/><use href="#c" x="139.4" y="362.2"/><use href="#c" x="102.4" y="328.4"/><use href="#c" x="352.3" y="126.5"/><use href="#c" x="209.9" y="309.1"/><use href="#c" x="296.0" y="156.9"/><use href="#c" x="697.7" y="179.4"/><use href="#c" x="653.7" y="78.7"/><use href="#c" x="135.9" y="361.7"/><use href="#c" x="823.0" y="238.0"/><use href="#c" x="746.6" y="264.7"/><use href="#c" x="404.2" y="172.0"/><use href="#c" x="395.9" y="164.0"/><use href="#c" x="261.9" y="222.6"/><use href="#c" x="924.8" y="257.8"/><use href="#c" x="511.1" y="188.7"/><use href="#c" x="203.2" y="319.9"/><use href="#c" x="610.8" y="47.3"/><use href="#c" x="455.1" y="213.7"/><use href="#c" x="760.0" y="277.4"/><use href="#c" x="582.8" y="72.6"/><use href="#c" x="709.8" y="207.4"/><use href="#c" x="330.7" y="123.8"/><use href="#c" x="370.7" y="139.5"/><use href="#c" x="399.3" y="168.8"/><use href="#c" x="206.1" y="314.0"/><use href="#c" x="147.2" y="363.9"/><use href="#c" x="151.8" y="363.1"/><use href="#c" x="129.8" y="357.6"/><use href="#c" x="292.6" y="162.2"/><use href="#c" x="273.7" y="198.2"/><use href="#c" x="191.4" y="336.8"/><use href="#c" x="198.2" y="326.9"/><use href="#c" x="510.8" y="188.5"/><use href="#c" x="450.3" y="212.3"/><use href="#c" x="424.3" y="193.3"/><use href="#c" x="631.6" y="52.1"/><use href="#c" x="151.1" y="363.9"/><use href="#c" x="484.3" y="211.5"/><use href="#c" x="148.3" y="363.2"/><use href="#c" x="132.6" y="358.8"/><use href="#c" x="342.5" y="123.9"/><use href="#c" x="482.8" y="212.3"/><use href="#c" x="198.9" y="325.3"/><use href="#c" x="258.0" y="230.4"/><use href="#c" x="165.0" y="358.3"/><use href="#c" x="493.6" y="206.4"/><use href="#c" x="831.6" y="238.9"/><use href="#c" x="536.6" y="151.8"/><use href="#c" x="289.5" y="167.9"/><use href="#c" x="271.8" y="201.7"/><use href="#c" x="144.5" y="363.3"/><use href="#c" x="170.3" y="356.0"/><use href="#c" x="331.3" y="124.6"/><use href="#c" x="279.3" y="187.4"/><use href="#c" x="493.7" y="205.4"/><use href="#c" x="654.7" y="80.1"/><use href="#c" x="150.3" y="363.0"/><use href="#c" x="718.9" y="228.5"/><use href="#c" x="687.7" y="154.0"/><use href="#c" x="154.9" y="362.4"/><use href="#c" x="793.7" y="278.7"/><use href="#c" x="782.7" y="284.2"/><use href="#c" x="102.4" y="327.8"/><use href="#c" x="112.0" y="340.7"/><use href="#c" x="525.2" y="169.6"/><use href="#c" x="776.2" y="283.7"/><use href="#c" x="860.0" y="181.3"/><use href="#c" x="618.7" y="46.3"/><use href="#c" x="183.8" y="343.8"/><use href="#c" x="109.1" y="336.9"/><use href="#c" x="329.3" y="125.1"/><use href="#c" x="257.9" y="230.1"/><use href="#c" x="102.4" y="328.5"/><use href="#c" x="762.4" y="279.3"/><use href="#c" x="482.0" y="212.3"/><use href="#c" x="318.3" y="129.8"/><use href="#c" x="936.3" y="333.0"/><use href="#c" x="831.8" y="238.0"/><use href="#c" x="102.4" y="327.2"/><use href="#c" x="352.0" y="127.0"/><use href="#c" x="702.1" y="191.2"/><use href="#c" x="576.4" y="80.7"/><use href="#c" x="181.5" y="346.9"/><use href="#c" x="279.4" y="187.2"/><use href="#c" x="295.0" y="158.6"/><use href="#c" x="164.8" y="358.6"/><use href="#c" x="294.1" y="160.3"/><use href="#c" x="823.4" y="238.3"/><use href="#c" x="368.6" y="138.1"/><use href="#c" x="189.5" y="338.1"/><use href="#c" x="433.7" y="201.8"/><use href="#c" x="357.7" y="131.1"/><use href="#c" x="238.4" y="253.3"/><use href="#c" x="318.8" y="129.8"/><use href="#c" x="151.4" y="362.8"/><use href="#c" x="795.8" y="278.1"/><use href="#c" x="723.1" y="239.4"/><use href="#c" x="682.9" y="142.9"/><use href="#c" x="115.0" y="344.8"/><use href="#c" x="139.1" y="362.1"/><use href="#c" x="528.6" y="165.6"/><use href="#c" x="102.4" y="328.3"/><use href="#c" x="201.6" y="321.0"/><use href="#c" x="201.5" y="322.6"/><use href="#c" x="549.7" y="128.7"/><use href="#c" x="701.1" y="188.4"/><use href="#c" x="327.0" y="125.2"/><use href="#c" x="102.4" y="327.5"/><use href="#c" x="496.7" y="203.4"/><use href="#c" x="336.8" y="123.5"/><use href="#c" x="860.8" y="180.1"/><use href="#c" x="203.3" y="318.9"/><use href="#c" x="267.3" y="211.1"/><use href="#c" x="105.2" y="332.6"/><use href="#c" x="206.6" y="314.2"/><use href="#c" x="944.5" y="399.7"/><use href="#c" x="917.0" y="227.9"/><use href="#c" x="126.1" y="355.4"/><use href="#c" x="102.4" y="328.0"/><use href="#c" x="220.6" y="290.3"/><use href="#c" x="117.6" y="347.5"/><use href="#c" x="428.9" y="197.3"/><use href="#c" x="868.3" y="165.6"/><use href="#c" x="235.7" y="260.2"/><use href="#c" x="941.8" y="379.5"/><use href="#c" x="604.6" y="49.8"/><use href="#c" x="149.3" y="363.1"/><use href="#c" x="360.1" y="131.8"/><use href="#c" x="237.2" y="256.1"/><use href="#c" x="102.4" y="329.1"/><use href="#c" x="402.0" y="169.8"/><use href="#c" x="644.1" y="63.1"/><use href="#c" x="429.2" y="197.7"/><use href="#c" x="826.1" y="233.4"/><use href="#c" x="942.8" y="383.7"/><use href="#c" x="592.6" y="58.8"/><use href="#c" x="473.6" y="215.1"/><use href="#c" x="394.7" y="162.3"/><use href="#c" x="623.9" y="46.6"/><use href="#c" x="647.5" y="68.2"/><use href="#c" x="821.6" y="242.3"/><use href="#c" x="931.2" y="301.2"/><use href="#c" x="828.6" y="243.5"/><use href="#c" x="521.6" y="174.2"/><use href="#c" x="405.4" y="173.3"/><use href="#c" x="663.1" y="96.3"/><use href="#c" x="880.7" y="155.8"/><use href="#c" x="287.0" y="173.1"/><use href="#c" x="788.5" y="282.5"/><use href="#c" x="254.8" y="236.4"/><use href="#c" x="347.2" y="124.5"/><use href="#c" x="176.9" y="350.8"/><use href="#c" x="227.3" y="276.9"/><use href="#c" x="314.8" y="131.8"/><use href="#c" x="223.7" y="283.4"/><use href="#c" x="943.1" y="389.4"/><use href="#c" x="635.1" y="53.9"/><use href="#c" x="840.3" y="222.0"/><use href="#c" x="339.6" y="123.6"/><use href="#c" x="121.3" y="351.1"/><use href="#c" x="205.0" y="317.4"/><use href="#c" x="341.0" y="123.5"/><use href="#c" x="267.5" y="210.7"/><use href="#c" x="684.6" y="146.4"/><use href="#c" x="336.0" y="123.2"/><use href="#c" x="198.3" y="327.2"/><use href="#c" x="661.8" y="93.7"/><use href="#c" x="226.4" y="278.8"/><use href="#c" x="720.3" y="234.2"/><use href="#c" x="323.4" y="127.2"/><use href="#c" x="809.6" y="261.6"/><use href="#c" x="621.9" y="47.0"/><use href="#c" x="102.4" y="329.0"/><use href="#c" x="363.8" y="133.3"/><use href="#c" x="448.7" y="211.6"/><use href="#c" x="102.4" y="328.7"/><use href="#c" x="276.2" y="193.4"/><use href="#c" x="665.0" y="100.6"/><use href="#c" x="152.8" y="363.3"/><use href="#c" x="752.6" y="270.0"/><use href="#c" x="460.1" y="215.5"/><use href="#c" x="849.4" y="202.6"/><use href="#c" x="185.0" y="342.7"/><use href="#c" x="821.2" y="242.9"/><use href="#c" x="174.1" y="352.6"/><use href="#c" x="257.1" y="231.6"/><use href="#c" x="324.9" y="126.8"/><use href="#c" x="348.0" y="125.8"/><use href="#c" x="395.3" y="162.8"/><use href="#c" x="692.7" y="167.2"/><use href="#c" x="500.0" y="201.1"/><use href="#c" x="845.5" y="211.6"/><use href="#c" x="258.3" y="229.5"/><use href="#c" x="397.7" y="165.3"/><use href="#c" x="685.8" y="150.6"/><use href="#c" x="478.8" y="213.4"/><use href="#c" x="616.8" y="45.3"/><use href="#c" x="852.8" y="196.0"/><use href="#c" x="627.3" y="48.2"/><use href="#c" x="278.4" y="189.4"/><use href="#c" x="140.1" y="362.7"/><use href="#c" x="372.0" y="140.9"/><use href="#c" x="263.3" y="219.0"/><use href="#c" x="830.0" y="241.6"/><use href="#c" x="213.3" y="304.0"/><use href="#c" x="397.1" y="164.2"/><use href="#c" x="424.7" y="193.0"/><use href="#c" x="867.6" y="167.9"/><use href="#c" x="742.0" y="257.8"/><use href="#c" x="152.3" y="363.1"/><use href="#c" x="315.4" y="132.7"/><use href="#c" x="652.8" y="77.2"/><use href="#c" x="162.4" y="360.0"/><use href="#c" x="338.6" y="122.5"/><use href="#c" x="311.1" y="136.6"/><use href="#c" x="442.7" y="207.3"/><use href="#c" x="228.2" y="274.3"/><use href="#c" x="796.1" y="277.2"/><use href="#c" x="354.8" y="128.1"/><use href="#c" x="515.7" y="182.7"/><use href="#c" x="855.0" y="190.8"/><use href="#c" x="215.3" y="299.6"/><use href="#c" x="401.7" y="170.0"/><use href="#c" x="189.2" y="337.9"/><use href="#c" x="345.2" y="124.2"/><use href="#c" x="575.0" y="82.1"/><use href="#c" x="842.5" y="218.4"/><use href="#c" x="814.9" y="253.8"/><use href="#c" x="942.6" y="382.7"/><use href="#c" x="818.3" y="249.2"/><use href="#c" x="833.4" y="235.2"/><use href="#c" x="406.1" y="174.3"/><use href="#c" x="358.3" y="129.9"/><use href="#c" x="948.1" y="420.2"/><use href="#c" x="105.4" y="333.5"/><use href="#c" x="770.2" y="282.8"/><use href="#c" x="800.9" y="272.9"/><use href="#c" x="879.5" y="155.8"/><use href="#c" x="730.8" y="234.7"/><use href="#c" x="574.0" y="83.7"/><use href="#c" x="223.3" y="286.3"/><use href="#c" x="541.8" y="142.9"/><use href="#c" x="159.5" y="361.0"/><use href="#c" x="146.8" y="363.3"/><use href="#c" x="881.5" y="155.8"/><use href="#c" x="482.6" y="212.1"/><use href="#c" x="158.6" y="361.7"/><use href="#c" x="667.3" y="104.9"/><use href="#c" x="677.0" y="129.0"/><use href="#c" x="188.8" y="338.7"/><use href="#c" x="732.7" y="238.3"/><use href="#c" x="119.6" y="348.7"/><use href="#c" x="146.9" y="363.4"/><use href="#c" x="810.6" y="259.3"/><use href="#c" x="263.5" y="219.5"/><use href="#c" x="215.0" y="301.4"/><use href="#c" x="656.2" y="82.1"/><use href="#c" x="420.3" y="189.5"/><use href="#c" x="274.5" y="197.4"/><use href="#c" x="929.3" y="285.1"/><use href="#c" x="537.4" y="150.7"/><use href="#c" x="102.4" y="328.4"/><use href="#c" x="160.7" y="360.2"/><use href="#c" x="701.6" y="190.1"/><use href="#c" x="833.0" y="237.2"/><use href="#c" x="177.7" y="349.9"/><use href="#c" x="652.4" y="75.3"/><use href="#c" x="280.5" y="184.1"/><use href="#c" x="689.3" y="159.5"/><use href="#c" x="408.0" y="176.0"/><use href="#c" x="718.6" y="229.1"/><use href="#c" x="624.5" y="47.4"/><use href="#c" x="329.8" y="124.0"/><use href="#c" x="529.6" y="163.0"/><use href="#c" x="917.0" y="227.6"/><use href="#c" x="297.7" y="154.7"/><use href="#c" x="161.4" y="360.5"/><use href="#c" x="120.4" y="349.2"/><use href="#c" x="245.0" y="239.1"/><use href="#c" x="498.4" y="201.2"/><use href="#c" x="795.3" y="277.7"/><use href="#c" x="684.0" y="146.6"/><use href="#c" x="552.2" y="124.8"/><use href="#c" x="503.9" y="196.5"/><use href="#c" x="453.0" y="213.0"/><use href="#c" x="548.0" y="130.7"/><use href="#c" x="140.7" y="363.5"/><use href="#c" x="132.2" y="358.9"/><use href="#c" x="745.7" y="261.9"/><use href="#c" x="277.9" y="189.7"/><use href="#c" x="576.9" y="80.5"/><use href="#c" x="180.7" y="346.2"/><use href="#c" x="300.3" y="149.6"/><use href="#c" x="826.4" y="232.0"/><use href="#c" x="107.4" y="335.0"/><use href="#c" x="207.9" y="311.8"/><use href="#c" x="673.0" y="119.3"/><use href="#c" x="196.1" y="329.4"/><use href="#c" x="149.2" y="364.4"/><use href="#c" x="509.7" y="190.6"/><use href="#c" x="773.5" y="283.6"/><use href="#c" x="753.2" y="270.6"/><use href="#c" x="140.3" y="363.1"/><use href="#c" x="596.6" y="55.8"/><use href="#c" x="169.7" y="356.1"/><use href="#c" x="252.1" y="241.7"/><use href="#c" x="533.0" y="157.7"/><use href="#c" x="254.6" y="236.8"/><use href="#c" x="140.6" y="362.6"/><use href="#c" x="784.9" y="283.3"/><use href="#c" x="403.5" y="172.6"/><use href="#c" x="160.8" y="360.3"/><use href="#c" x="421.5" y="189.7"/><use href="#c" x="279.9" y="185.6"/><use href="#c" x="266.0" y="213.5"/><use href="#c" x="883.2" y="154.7"/><use href="#c" x="313.2" y="134.2"/><use href="#c" x="711.1" y="212.7"/><use href="#c" x="407.4" y="176.1"/><use href="#c" x="457.7" y="214.6"/><use href="#c" x="421.9" y="190.6"/><use href="#c" x="802.5" y="270.8"/><use href="#c" x="807.9" y="264.7"/><use href="#c" x="103.0" y="329.0"/><use href="#c" x="926.8" y="267.6"/><use href="#c" x="360.4" y="131.0"/><use href="#c" x="637.5" y="56.4"/><use href="#c" x="203.9" y="320.0"/><use href="#c" x="307.8" y="140.5"/><use href="#c" x="231.9" y="266.3"/><use href="#c" x="730.6" y="235.9"/><use href="#c" x="704.4" y="196.0"/><use href="#c" x="904.4" y="184.8"/><use href="#c" x="110.0" y="336.9"/><use href="#c" x="102.4" y="327.7"/><use href="#c" x="147.9" y="363.6"/><use href="#c" x="423.4" y="193.3"/><use href="#c" x="189.8" y="338.4"/><use href="#c" x="583.7" y="70.0"/><use href="#c" x="267.7" y="209.8"/><use href="#c" x="247.6" y="231.1"/><use href="#c" x="745.9" y="261.4"/><use href="#c" x="239.4" y="249.1"/><use href="#c" x="298.5" y="154.0"/><use href="#c" x="197.3" y="327.3"/><use href="#c" x="402.8" y="170.8"/><use href="#c" x="233.8" y="262.3"/><use href="#c" x="691.3" y="164.0"/><use href="#c" x="837.7" y="228.4"/><use href="#c" x="102.6" y="328.1"/><use href="#c" x="207.4" y="313.3"/><use href="#c" x="477.1" y="213.6"/><use href="#c" x="564.9" y="99.4"/><use href="#c" x="384.1" y="152.3"/><use href="#c" x="866.2" y="169.7"/><use href="#c" x="102.4" y="328.3"/><use href="#c" x="848.5" y="204.2"/><use href="#c" x="942.1" y="379.0"/><use href="#c" x="380.4" y="147.7"/><use href="#c" x="117.9" y="347.6"/><use href="#c" x="948.6" y="424.4"/><use href="#c" x="274.7" y="196.8"/><use href="#c" x="217.2" y="296.5"/><use href="#c" x="191.3" y="336.1"/><use href="#c" x="191.8" y="335.7"/><use href="#c" x="762.2" y="278.3"/><use href="#c" x="829.4" y="242.6"/><use href="#c" x="613.4" y="46.9"/><use href="#c" x="339.5" y="123.4"/><use href="#c" x="233.5" y="264.5"/><use href="#c" x="360.9" y="132.4"/><use href="#c" x="386.7" y="153.6"/><use href="#c" x="893.4" y="162.8"/><use href="#c" x="241.0" y="247.3"/><use href="#c" x="446.0" y="209.2"/><use href="#c" x="430.3" y="198.1"/><use href="#c" x="172.3" y="354.5"/><use href="#c" x="884.3" y="154.8"/><use href="#c" x="391.9" y="159.8"/><use href="#c" x="124.5" y="353.9"/><use href="#c" x="234.9" y="261.3"/><use href="#c" x="163.3" y="358.6"/><use href="#c" x="835.1" y="233.0"/><use href="#c" x="522.0" y="173.5"/><use href="#c" x="168.4" y="356.5"/><use href="#c" x="191.2" y="335.5"/><use href="#c" x="851.2" y="198.3"/><use href="#c" x="185.2" y="343.1"/><use href="#c" x="113.5" y="342.2"/><use href="#c" x="507.2" y="193.1"/><use href="#c" x="150.6" y="361.9"/><use href="#c" x="400.7" y="168.3"/><use href="#c" x="167.8" y="356.9"/><use href="#c" x="441.6" y="207.5"/><use href="#c" x="197.4" y="327.9"/><use href="#c" x="661.4" y="93.7"/><use href="#c" x="416.9" y="185.9"/><use href="#c" x="748.9" y="265.5"/><use href="#c" x="475.1" y="215.3"/><use href="#c" x="929.3" y="285.6"/><use href="#c" x="752.5" y="270.3"/><use href="#c" x="552.6" y="122.8"/><use href="#c" x="409.7" y="177.8"/><use href="#c" x="566.3" y="97.5"/><use href="#c" x="361.3" y="131.4"/><use href="#c" x="609.8" y="48.5"/><use href="#c" x="108.8" y="338.0"/><use href="#c" x="178.3" y="350.0"/><use href="#c" x="426.2" y="195.2"/><use href="#c" x="250.0" y="245.5"/><use href="#c" x="154.5" y="363.0"/><use href="#c" x="392.3" y="160.0"/><use href="#c" x="340.5" y="125.0"/><use href="#c" x="787.0" y="282.3"/><use href="#c" x="221.2" y="288.4"/><use href="#c" x="179.5" y="348.8"/><use href="#c" x="102.4" y="327.7"/><use href="#c" x="392.5" y="160.8"/><use href="#c" x="111.6" y="341.2"/><use href="#c" x="900.4" y="174.6"/><use href="#c" x="427.2" y="195.0"/><use href="#c" x="172.5" y="354.0"/><use href="#c" x="639.7" y="57.6"/><use href="#c" x="294.4" y="159.7"/><use href="#c" x="175.1" y="352.9"/><use href="#c" x="438.1" y="204.4"/><use href="#c" x="942.7" y="385.4"/><use href="#c" x="632.8" y="51.5"/><use href="#c" x="807.7" y="264.9"/><use href="#c" x="118.9" y="348.1"/><use href="#c" x="551.0" y="126.6"/><use href="#c" x="395.5" y="164.0"/><use href="#c" x="497.0" y="202.8"/><use href="#c" x="327.8" y="124.5"/><use href="#c" x="738.9" y="251.1"/><use href="#c" x="128.2" y="356.2"/><use href="#c" x="539.3" y="146.7"/><use href="#c" x="364.0" y="134.1"/><use href="#c" x="170.7" y="354.4"/><use href="#c" x="180.5" y="348.0"/><use href="#c" x="492.1" y="206.1"/><use href="#c" x="714.5" y="219.3"/><use href="#c" x="299.3" y="152.1"/><use href="#c" x="110.4" y="338.1"/><use href="#c" x="242.5" y="244.5"/><use href="#c" x="145.6" y="364.3"/><use href="#c" x="360.2" y="131.9"/><use href="#c" x="509.4" y="190.5"/><use href="#c" x="863.9" y="172.8"/><use href="#c" x="283.6" y="179.1"/><use href="#c" x="238.1" y="254.0"/><use href="#c" x="820.6" y="242.6"/><use href="#c" x="459.0" y="215.2"/><use href="#c" x="264.0" y="219.3"/><use href="#c" x="664.9" y="100.1"/><use href="#c" x="877.0" y="156.4"/><use href="#c" x="495.6" y="203.4"/><use href="#c" x="311.9" y="136.0"/><use href="#c" x="388.1" y="154.9"/><use href="#c" x="330.8" y="124.9"/><use href="#c" x="919.4" y="237.8"/><use href="#c" x="237.6" y="255.7"/><use href="#c" x="496.2" y="203.7"/><use href="#c" x="469.9" y="216.2"/><use href="#c" x="340.6" y="124.7"/><use href="#c" x="932.9" y="310.8"/><use href="#c" x="290.3" y="166.7"/><use href="#c" x="142.9" y="363.6"/><use href="#c" x="220.5" y="290.7"/><use href="#c" x="940.1" y="362.3"/><use href="#c" x="215.3" y="300.3"/><use href="#c" x="399.5" y="168.4"/><use href="#c" x="264.6" y="216.6"/><use href="#c" x="641.1" y="58.7"/><use href="#c" x="671.1" y="114.5"/><use href="#c" x="194.4" y="332.5"/><use href="#c" x="548.7" y="130.2"/><use href="#c" x="553.5" y="120.4"/><use href="#c" x="165.1" y="358.8"/><use href="#c" x="102.4" y="328.6"/><use href="#c" x="508.8" y="191.0"/><use href="#c" x="330.1" y="124.2"/><use href="#c" x="564.1" y="102.1"/><use href="#c" x="170.2" y="355.7"/><use href="#c" x="151.7" y="363.4"/><use href="#c" x="729.9" y="232.8"/><use href="#c" x="339.2" y="122.6"/><use href="#c" x="781.5" y="283.3"/><use href="#c" x="735.1" y="244.7"/><use href="#c" x="817.2" y="250.5"/><use href="#c" x="501.8" y="198.8"/><use href="#c" x="458.2" y="216.1"/><use href="#c" x="193.6" y="332.8"/><use href="#c" x="141.2" y="362.4"/><use href="#c" x="124.8" y="353.9"/><use href="#c" x="157.8" y="362.4"/><use href="#c" x="246.8" y="231.5"/><use href="#c" x="945.1" y="402.8"/><use href="#c" x="102.4" y="328.0"/><use href="#c" x="166.7" y="358.3"/><use href="#c" x="130.6" y="357.2"/><use href="#c" x="228.1" y="275.8"/><use href="#c" x="775.9" y="284.4"/><use href="#c" x="390.4" y="156.9"/><use href="#c" x="475.9" y="214.6"/><use href="#c" x="309.2" y="138.5"/><use href="#c" x="231.5" y="269.6"/><use href="#c" x="250.1" y="246.9"/><use href="#c" x="435.0" y="201.6"/><use href="#c" x="137.2" y="360.8"/><use href="#c" x="310.7" y="137.5"/><use href="#c" x="350.4" y="125.8"/><use href="#c" x="267.2" y="210.4"/><use href="#c" x="433.8" y="201.6"/><use href="#c" x="912.8" y="214.0"/><use href="#c" x="143.0" y="363.4"/><use href="#c" x="554.6" y="120.6"/><use href="#c" x="212.1" y="305.0"/><use href="#c" x="482.4" y="211.5"/><use href="#c" x="232.2" y="267.5"/><use href="#c" x="693.1" y="168.3"/><use href="#c" x="577.3" y="79.7"/><use href="#c" x="253.5" y="240.0"/><use href="#c" x="876.0" y="157.4"/><use href="#c" x="925.5" y="263.2"/><use href="#c" x="233.3" y="264.7"/><use href="#c" x="193.2" y="334.2"/><use href="#c" x="368.2" y="137.0"/><use href="#c" x="402.2" y="170.3"/><use href="#c" x="842.0" y="219.3"/><use href="#c" x="760.9" y="278.9"/><use href="#c" x="207.7" y="311.7"/><use href="#c" x="116.7" y="346.7"/><use href="#c" x="224.7" y="282.5"/><use href="#c" x="283.2" y="178.8"/><use href="#c" x="834.0" y="234.9"/><use href="#c" x="397.4" y="165.6"/><use href="#c" x="866.6" y="169.4"/><use href="#c" x="412.3" y="180.7"/><use href="#c" x="406.0" y="174.8"/><use href="#c" x="384.6" y="152.6"/><use href="#c" x="253.9" y="240.0"/><use href="#c" x="222.4" y="286.0"/><use href="#c" x="905.8" y="189.2"/><use href="#c" x="249.0" y="228.0"/><use href="#c" x="442.5" y="207.5"/><use href="#c" x="335.2" y="123.8"/><use href="#c" x="549.3" y="128.2"/><use href="#c" x="180.5" y="347.1"/><use href="#c" x="127.6" y="356.4"/><use href="#c" x="253.0" y="241.2"/><use href="#c" x="357.8" y="129.2"/><use href="#c" x="134.7" y="360.6"/><use href="#c" x="472.5" y="216.4"/><use href="#c" x="245.3" y="237.8"/><use href="#c" x="267.9" y="210.1"/><use href="#c" x="548.6" y="131.1"/><use href="#c" x="261.8" y="223.2"/><use href="#c" x="240.9" y="248.0"/><use href="#c" x="893.9" y="162.3"/><use href="#c" x="104.2" y="330.7"/><use href="#c" x="394.1" y="162.5"/><use href="#c" x="495.9" y="204.3"/><use href="#c" x="102.4" y="327.7"/><use href="#c" x="166.1" y="358.2"/><use href="#c" x="600.3" y="53.0"/><use href="#c" x="716.2" y="223.6"/><use href="#c" x="221.6" y="287.9"/><use href="#c" x="271.4" y="201.4"/><use href="#c" x="227.0" y="277.4"/><use href="#c" x="410.3" y="178.8"/><use href="#c" x="295.8" y="156.0"/><use href="#c" x="626.5" y="48.8"/><use href="#c" x="181.3" y="346.9"/><use href="#c" x="431.5" y="198.6"/><use href="#c" x="322.5" y="128.5"/><use href="#c" x="155.0" y="362.8"/><use href="#c" x="104.1" y="331.3"/><use href="#c" x="405.3" y="174.6"/><use href="#c" x="428.0" y="196.9"/><use href="#c" x="834.9" y="234.2"/><use href="#c" x="544.2" y="137.4"/><use href="#c" x="364.3" y="134.1"/><use href="#c" x="225.3" y="280.7"/><use href="#c" x="340.0" y="123.3"/><use href="#c" x="278.1" y="190.3"/><use href="#c" x="377.9" y="145.2"/><use href="#c" x="616.5" y="46.6"/><use href="#c" x="107.6" y="335.1"/><use href="#c" x="284.1" y="176.5"/><use href="#c" x="220.4" y="290.7"/><use href="#c" x="313.6" y="134.8"/><use href="#c" x="352.1" y="126.3"/><use href="#c" x="305.0" y="143.5"/><use href="#c" x="640.7" y="59.9"/><use href="#c" x="865.6" y="170.4"/><use href="#c" x="572.0" y="88.6"/><use href="#c" x="110.5" y="338.6"/><use href="#c" x="102.4" y="327.6"/><use href="#c" x="154.6" y="362.2"/><use href="#c" x="574.4" y="84.3"/><use href="#c" x="309.2" y="139.1"/><use href="#c" x="781.0" y="283.9"/><use href="#c" x="208.8" y="311.2"/><use href="#c" x="275.4" y="194.8"/><use href="#c" x="601.7" y="51.7"/><use href="#c" x="353.3" y="126.8"/><use href="#c" x="156.4" y="361.9"/><use href="#c" x="262.6" y="220.3"/><use href="#c" x="555.4" y="117.8"/><use href="#c" x="363.2" y="133.7"/><use href="#c" x="142.7" y="363.2"/><use href="#c" x="283.0" y="179.7"/><use href="#c" x="468.5" y="215.6"/><use href="#c" x="111.2" y="340.5"/><use href="#c" x="121.7" y="351.3"/><use href="#c" x="522.5" y="174.2"/><use href="#c" x="221.1" y="289.4"/><use href="#c" x="229.7" y="272.2"/><use href="#c" x="127.9" y="356.5"/><use href="#c" x="774.6" y="284.3"/><use href="#c" x="382.7" y="150.6"/><use href="#c" x="105.5" y="332.5"/><use href="#c" x="323.2" y="127.0"/><use href="#c" x="585.5" y="68.2"/><use href="#c" x="654.0" y="78.3"/><use href="#c" x="652.6" y="76.6"/><use href="#c" x="135.0" y="361.1"/><use href="#c" x="193.0" y="334.1"/><use href="#c" x="263.7" y="218.1"/><use href="#c" x="744.4" y="259.6"/><use href="#c" x="434.6" y="201.6"/><use href="#c" x="734.3" y="242.8"/><use href="#c" x="250.4" y="244.7"/><use href="#c" x="117.1" y="346.2"/><use href="#c" x="330.4" y="124.2"/><use href="#c" x="718.0" y="228.4"/><use href="#c" x="265.4" y="214.8"/><use href="#c" x="919.3" y="236.6"/><use href="#c" x="443.8" y="208.2"/><use href="#c" x="691.6" y="164.6"/><use href="#c" x="163.9" y="359.9"/><use href="#c" x="251.5" y="243.8"/><use href="#c" x="270.8" y="203.1"/><use href="#c" x="102.4" y="328.9"/><use href="#c" x="121.8" y="351.4"/><use href="#c" x="486.4" y="211.0"/><use href="#c" x="470.0" y="215.9"/><use href="#c" x="452.1" y="211.9"/><use href="#c" x="884.1" y="155.7"/><use href="#c" x="145.9" y="364.3"/><use href="#c" x="106.6" y="333.8"/><use href="#c" x="172.8" y="353.6"/><use href="#c" x="651.3" y="73.4"/><use href="#c" x="457.6" y="215.5"/><use href="#c" x="578.5" y="78.8"/><use href="#c" x="245.3" y="236.5"/><use href="#c" x="789.9" y="281.5"/><use href="#c" x="864.3" y="171.9"/><use href="#c" x="454.9" y="213.0"/><use href="#c" x="294.7" y="158.7"/><use href="#c" x="369.3" y="138.5"/><use href="#c" x="267.1" y="212.8"/><use href="#c" x="386.5" y="154.8"/><use href="#c" x="468.2" y="215.2"/><use href="#c" x="114.5" y="343.2"/><use href="#c" x="228.4" y="274.5"/><use href="#c" x="654.4" y="80.4"/><use href="#c" x="331.1" y="124.0"/><use href="#c" x="448.9" y="210.3"/><use href="#c" x="771.4" y="284.1"/><use href="#c" x="596.1" y="56.0"/><use href="#c" x="253.4" y="239.3"/><use href="#c" x="159.6" y="361.6"/><use href="#c" x="345.5" y="123.9"/><use href="#c" x="426.5" y="195.8"/><use href="#c" x="455.4" y="213.8"/><use href="#c" x="163.8" y="359.1"/><use href="#c" x="174.0" y="353.3"/><use href="#c" x="368.8" y="137.6"/><use href="#c" x="772.0" y="283.9"/><use href="#c" x="274.3" y="197.7"/><use href="#c" x="859.7" y="181.1"/><use href="#c" x="389.7" y="158.5"/><use href="#c" x="204.4" y="317.9"/><use href="#c" x="676.8" y="126.7"/><use href="#c" x="711.6" y="211.4"/><use href="#c" x="612.8" y="46.5"/><use href="#c" x="617.9" y="45.6"/><use href="#c" x="150.2" y="363.8"/><use href="#c" x="889.4" y="157.6"/><use href="#c" x="685.1" y="147.6"/><use href="#c" x="915.5" y="223.3"/><use href="#c" x="147.4" y="363.9"/><use href="#c" x="234.6" y="262.8"/><use href="#c" x="801.7" y="273.1"/><use href="#c" x="258.0" y="229.8"/><use href="#c" x="169.3" y="356.4"/><use href="#c" x="533.8" y="156.5"/><use href="#c" x="250.5" y="246.7"/><use href="#c" x="326.2" y="124.7"/><use href="#c" x="446.5" y="209.8"/><use href="#c" x="262.1" y="221.7"/><use href="#c" x="267.0" y="212.0"/><use href="#c" x="864.5" y="172.3"/><use href="#c" x="182.6" y="345.6"/><use href="#c" x="374.0" y="142.9"/><use href="#c" x="559.3" y="110.9"/><use href="#c" x="296.1" y="155.7"/><use href="#c" x="469.8" y="215.9"/><use href="#c" x="527.1" y="166.6"/><use href="#c" x="505.3" y="194.8"/><use href="#c" x="273.5" y="197.3"/><use href="#c" x="837.9" y="228.7"/><use href="#c" x="349.6" y="125.9"/><use href="#c" x="753.4" y="271.0"/><use href="#c" x="728.0" y="229.0"/><use href="#c" x="684.2" y="147.1"/><use href="#c" x="105.3" y="332.6"/><use href="#c" x="926.3" y="267.3"/><use href="#c" x="145.5" y="363.2"/><use href="#c" x="226.2" y="279.3"/><use href="#c" x="847.4" y="206.9"/><use href="#c" x="841.3" y="220.9"/><use href="#c" x="605.5" y="49.1"/><use href="#c" x="789.1" y="282.2"/><use href="#c" x="153.7" y="361.9"/><use href="#c" x="163.3" y="360.1"/><use href="#c" x="279.6" y="185.2"/><use href="#c" x="716.8" y="225.1"/><use href="#c" x="177.6" y="349.8"/><use href="#c" x="102.4" y="328.5"/><use href="#c" x="346.2" y="123.9"/><use href="#c" x="368.2" y="137.1"/><use href="#c" x="136.2" y="362.0"/><use href="#c" x="634.5" y="53.8"/><use href="#c" x="454.7" y="213.1"/><use href="#c" x="624.0" y="47.1"/><use href="#c" x="357.0" y="129.5"/><use href="#c" x="310.9" y="136.7"/><use href="#c" x="297.1" y="154.7"/><use href="#c" x="450.6" y="211.7"/><use href="#c" x="270.4" y="205.1"/><use href="#c" x="609.3" y="47.8"/><use href="#c" x="345.9" y="124.5"/><use href="#c" x="385.2" y="152.6"/><use href="#c" x="610.0" y="47.4"/><use href="#c" x="220.1" y="292.5"/><use href="#c" x="201.5" y="321.9"/><use href="#c" x="362.4" y="133.1"/><use href="#c" x="135.8" y="360.8"/><use href="#c" x="546.2" y="135.2"/><use href="#c" x="245.8" y="235.4"/><use href="#c" x="133.1" y="359.6"/><use href="#c" x="316.2" y="130.9"/><use href="#c" x="449.7" y="210.8"/><use href="#c" x="348.3" y="125.1"/><use href="#c" x="120.3" y="350.1"/><use href="#c" x="844.7" y="214.8"/><use href="#c" x="405.9" y="174.2"/><use href="#c" x="167.3" y="358.1"/><use href="#c" x="471.9" y="216.2"/><use href="#c" x="548.1" y="130.6"/><use href="#c" x="347.0" y="125.5"/><use href="#c" x="214.7" y="300.3"/><use href="#c" x="323.0" y="127.5"/><use href="#c" x="119.0" y="349.2"/><use href="#c" x="389.3" y="156.5"/><use href="#c" x="286.8" y="172.3"/><use href="#c" x="208.4" y="310.8"/><use href="#c" x="744.2" y="259.4"/><use href="#c" x="671.7" y="115.6"/><use href="#c" x="239.6" y="249.5"/><use href="#c" x="189.6" y="338.6"/><use href="#c" x="136.8" y="361.4"/><use href="#c" x="467.4" y="216.0"/><use href="#c" x="130.1" y="357.9"/><use href="#c" x="947.5" y="417.3"/><use href="#c" x="499.6" y="200.7"/><use href="#c" x="127.6" y="355.7"/><use href="#c" x="168.2" y="355.6"/><use href="#c" x="181.7" y="347.6"/><use href="#c" x="655.4" y="80.8"/><use href="#c" x="486.0" y="210.1"/><use href="#c" x="233.6" y="263.8"/><use href="#c" x="665.8" y="103.7"/><use href="#c" x="363.4" y="133.8"/><use href="#c" x="173.0" y="353.2"/><use href="#c" x="594.7" y="57.4"/><use href="#c" x="466.2" y="216.3"/><use href="#c" x="713.7" y="219.2"/><use href="#c" x="242.7" y="244.1"/><use href="#c" x="601.4" y="50.9"/><use href="#c" x="102.4" y="327.5"/><use href="#c" x="509.1" y="191.2"/><use href="#c" x="819.0" y="246.7"/><use href="#c" x="857.6" y="185.6"/><use href="#c" x="746.3" y="261.3"/><use href="#c" x="432.6" y="198.9"/><use href="#c" x="555.3" y="117.9"/><use href="#c" x="412.9" y="181.4"/><use href="#c" x="127.2" y="356.0"/><use href="#c" x="346.6" y="125.2"/><use href="#c" x="238.8" y="252.6"/><use href="#c" x="946.8" y="413.3"/><use href="#c" x="208.2" y="312.1"/><use href="#c" x="510.7" y="189.4"/><use href="#c" x="175.0" y="350.9"/><use href="#c" x="369.7" y="138.8"/><use href="#c" x="512.1" y="187.1"/><use href="#c" x="275.0" y="195.7"/><use href="#c" x="165.9" y="357.3"/><use href="#c" x="604.1" y="50.3"/><use href="#c" x="183.3" y="344.3"/><use href="#c" x="620.6" y="45.7"/><use href="#c" x="257.8" y="231.0"/><use href="#c" x="926.0" y="263.6"/><use href="#c" x="197.1" y="329.5"/><use href="#c" x="389.0" y="156.6"/><use href="#c" x="293.6" y="161.9"/><use href="#c" x="203.4" y="318.1"/><use href="#c" x="803.1" y="270.3"/><use href="#c" x="147.3" y="363.6"/><use href="#c" x="281.7" y="181.2"/><use href="#c" x="511.5" y="188.6"/><use href="#c" x="560.9" y="108.1"/><use href="#c" x="541.1" y="144.2"/><use href="#c" x="796.6" y="278.0"/><use href="#c" x="166.5" y="357.3"/><use href="#c" x="456.0" y="213.6"/><use href="#c" x="167.1" y="357.5"/><use href="#c" x="483.8" y="212.7"/><use href="#c" x="126.7" y="355.1"/><use href="#c" x="935.0" y="326.0"/><use href="#c" x="331.8" y="123.6"/><use href="#c" x="594.5" y="57.0"/><use href="#c" x="116.0" y="345.2"/><use href="#c" x="852.6" y="195.6"/><use href="#c" x="522.3" y="174.2"/><use href="#c" x="704.9" y="196.8"/><use href="#c" x="402.1" y="170.8"/><use href="#c" x="135.3" y="360.0"/><use href="#c" x="357.9" y="128.9"/><use href="#c" x="126.3" y="354.6"/><use href="#c" x="775.8" y="284.6"/><use href="#c" x="172.2" y="354.0"/><use href="#c" x="281.3" y="182.7"/><use href="#c" x="686.5" y="153.2"/><use href="#c" x="322.2" y="127.5"/><use href="#c" x="599.8" y="54.2"/><use href="#c" x="123.8" y="353.0"/><use href="#c" x="366.5" y="135.6"/><use href="#c" x="873.4" y="159.7"/><use href="#c" x="255.2" y="235.4"/><use href="#c" x="237.9" y="254.4"/><use href="#c" x="585.4" y="68.7"/><use href="#c" x="647.1" y="67.6"/><use href="#c" x="127.4" y="356.1"/><use href="#c" x="724.3" y="240.4"/><use href="#c" x="642.1" y="62.0"/><use href="#c" x="264.6" y="217.5"/><use href="#c" x="131.4" y="358.6"/><use href="#c" x="515.8" y="182.4"/><use href="#c" x="130.5" y="357.9"/><use href="#c" x="134.9" y="360.7"/><use href="#c" x="458.3" y="214.6"/><use href="#c" x="572.8" y="87.0"/><use href="#c" x="160.5" y="361.4"/><use href="#c" x="236.5" y="257.5"/><use href="#c" x="417.3" y="185.8"/><use href="#c" x="403.9" y="172.2"/><use href="#c" x="644.9" y="64.7"/><use href="#c" x="675.5" y="125.6"/><use href="#c" x="285.6" y="175.5"/><use href="#c" x="315.8" y="132.9"/><use href="#c" x="370.8" y="139.5"/><use href="#c" x="112.3" y="340.3"/><use href="#c" x="901.3" y="178.9"/><use href="#c" x="178.5" y="349.6"/><use href="#c" x="889.6" y="158.7"/><use href="#c" x="113.8" y="342.4"/><use href="#c" x="141.6" y="362.9"/><use href="#c" x="690.6" y="161.9"/><use href="#c" x="880.1" y="154.2"/><use href="#c" x="277.4" y="190.5"/><use href="#c" x="102.4" y="327.1"/><use href="#c" x="840.5" y="222.1"/><use href="#c" x="424.9" y="194.0"/><use href="#c" x="657.7" y="84.9"/><use href="#c" x="591.7" y="60.3"/><use href="#c" x="310.9" y="136.5"/><use href="#c" x="481.6" y="212.7"/><use href="#c" x="702.6" y="193.5"/><use href="#c" x="512.0" y="187.3"/><use href="#c" x="312.0" y="136.1"/><use href="#c" x="475.7" y="215.1"/><use href="#c" x="885.7" y="155.9"/><use href="#c" x="371.5" y="140.2"/><use href="#c" x="180.9" y="346.8"/><use href="#c" x="943.2" y="386.2"/><use href="#c" x="408.3" y="176.5"/><use href="#c" x="302.2" y="147.9"/><use href="#c" x="116.8" y="346.1"/><use href="#c" x="462.4" y="216.0"/><use href="#c" x="926.1" y="266.5"/><use href="#c" x="331.6" y="124.4"/><use href="#c" x="383.1" y="150.3"/><use href="#c" x="781.9" y="283.5"/><use href="#c" x="133.9" y="360.2"/><use href="#c" x="591.4" y="60.7"/><use href="#c" x="158.2" y="361.2"/><use href="#c" x="943.7" y="391.4"/><use href="#c" x="810.1" y="260.4"/><use href="#c" x="145.2" y="363.6"/><use href="#c" x="179.4" y="347.8"/><use href="#c" x="883.3" y="155.4"/><use href="#c" x="250.7" y="244.4"/><use href="#c" x="320.5" y="128.4"/><use href="#c" x="758.0" y="275.9"/><use href="#c" x="157.8" y="361.5"/><use href="#c" x="658.3" y="87.0"/><use href="#c" x="621.5" y="46.3"/><use href="#c" x="112.2" y="341.8"/><use href="#c" x="410.8" y="180.0"/><use href="#c" x="102.4" y="327.3"/><use href="#c" x="148.7" y="364.2"/><use href="#c" x="670.0" y="112.1"/><use href="#c" x="102.4" y="328.1"/><use href="#c" x="304.9" y="144.3"/><use href="#c" x="352.7" y="127.2"/><use href="#c" x="659.9" y="89.3"/><use href="#c" x="331.9" y="123.9"/><use href="#c" x="731.7" y="237.8"/><use href="#c" x="211.9" y="305.9"/><use href="#c" x="256.7" y="234.2"/><use href="#c" x="299.1" y="151.2"/><use href="#c" x="818.0" y="248.5"/><use href="#c" x="510.3" y="188.8"/><use href="#c" x="113.4" y="342.3"/><use href="#c" x="220.7" y="289.6"/><use href="#c" x="129.3" y="357.3"/><use href="#c" x="595.7" y="58.3"/><use href="#c" x="120.0" y="349.0"/><use href="#c" x="236.2" y="258.9"/><use href="#c" x="227.8" y="277.1"/><use href="#c" x="711.1" y="211.9"/><use href="#c" x="706.2" y="199.9"/><use href="#c" x="107.6" y="335.0"/><use href="#c" x="210.4" y="307.3"/><use href="#c" x="322.2" y="127.0"/><use href="#c" x="122.7" y="352.5"/><use href="#c" x="133.8" y="359.4"/><use href="#c" x="261.0" y="224.9"/><use href="#c" x="283.9" y="178.3"/><use href="#c" x="827.8" y="228.8"/><use href="#c" x="316.6" y="131.4"/><use href="#c" x="584.7" y="68.7"/><use href="#c" x="243.6" y="241.7"/><use href="#c" x="346.0" y="124.1"/><use href="#c" x="598.4" y="53.6"/><use href="#c" x="167.6" y="357.0"/><use href="#c" x="162.6" y="360.3"/><use href="#c" x="818.8" y="247.7"/><use href="#c" x="102.4" y="328.5"/><use href="#c" x="317.6" y="130.2"/><use href="#c" x="239.8" y="250.0"/><use href="#c" x="425.9" y="194.7"/><use href="#c" x="626.9" y="47.7"/><use href="#c" x="342.2" y="124.6"/><use href="#c" x="768.4" y="283.8"/><use href="#c" x="288.0" y="171.1"/><use href="#c" x="293.9" y="159.3"/><use href="#c" x="129.5" y="356.9"/><use href="#c" x="132.0" y="359.3"/><use href="#c" x="412.6" y="182.5"/><use href="#c" x="466.6" y="215.4"/><use href="#c" x="272.7" y="200.4"/><use href="#c" x="550.7" y="126.0"/><use href="#c" x="380.8" y="148.5"/><use href="#c" x="178.9" y="348.6"/><use href="#c" x="813.2" y="255.8"/><use href="#c" x="237.4" y="256.0"/><use href="#c" x="907.6" y="194.6"/><use href="#c" x="176.1" y="352.1"/><use href="#c" x="435.4" y="202.0"/><use href="#c" x="213.6" y="302.9"/><use href="#c" x="186.7" y="341.0"/><use href="#c" x="227.2" y="277.2"/><use href="#c" x="660.6" y="91.1"/><use href="#c" x="256.8" y="233.6"/><use href="#c" x="937.5" y="343.2"/><use href="#c" x="279.9" y="185.1"/><use href="#c" x="107.0" y="335.5"/><use href="#c" x="303.0" y="145.8"/><use href="#c" x="121.0" y="350.6"/><use href="#c" x="122.7" y="351.4"/><use href="#c" x="322.0" y="128.4"/><use href="#c" x="921.9" y="247.4"/><use href="#c" x="689.6" y="160.7"/><use href="#c" x="155.4" y="363.4"/><use href="#c" x="337.1" y="123.7"/><use href="#c" x="449.4" y="211.7"/><use href="#c" x="451.1" y="212.0"/><use href="#c" x="682.9" y="144.0"/><use href="#c" x="129.0" y="357.0"/><use href="#c" x="865.0" y="170.6"/><use href="#c" x="308.9" y="138.4"/><use href="#c" x="479.5" y="214.0"/><use href="#c" x="755.6" y="274.2"/><use href="#c" x="485.0" y="211.9"/><use href="#c" x="404.9" y="173.9"/><use href="#c" x="263.1" y="220.2"/><use href="#c" x="146.7" y="363.5"/><use href="#c" x="442.6" y="207.0"/><use href="#c" x="519.3" y="178.9"/><use href="#c" x="640.2" y="58.4"/><use href="#c" x="634.7" y="53.8"/><use href="#c" x="102.4" y="328.4"/><use href="#c" x="444.9" y="208.6"/><use href="#c" x="825.1" y="235.2"/><use href="#c" x="618.4" y="46.6"/><use href="#c" x="242.1" y="245.1"/><use href="#c" x="879.3" y="155.3"/><use href="#c" x="493.3" y="204.7"/><use href="#c" x="187.7" y="340.4"/><use href="#c" x="105.2" y="332.7"/><use href="#c" x="411.0" y="180.0"/><use href="#c" x="234.7" y="262.0"/><use href="#c" x="393.3" y="160.3"/><use href="#c" x="448.4" y="210.6"/><use href="#c" x="580.7" y="74.9"/><use href="#c" x="356.1" y="129.2"/><use href="#c" x="428.8" y="197.7"/><use href="#c" x="291.0" y="164.1"/><use href="#c" x="173.5" y="353.0"/><use href="#c" x="195.5" y="330.9"/><use href="#c" x="326.3" y="126.1"/><use href="#c" x="559.7" y="110.4"/><use href="#c" x="322.8" y="126.7"/><use href="#c" x="310.6" y="137.2"/><use href="#c" x="193.4" y="334.0"/><use href="#c" x="225.1" y="281.5"/><use href="#c" x="248.4" y="228.6"/><use href="#c" x="529.0" y="164.4"/><use href="#c" x="139.6" y="361.7"/><use href="#c" x="403.7" y="172.0"/><use href="#c" x="389.6" y="157.3"/><use href="#c" x="901.7" y="178.2"/><use href="#c" x="373.7" y="142.1"/><use href="#c" x="730.3" y="233.6"/><use href="#c" x="838.7" y="226.1"/><use href="#c" x="187.4" y="340.6"/><use href="#c" x="804.4" y="269.5"/><use href="#c" x="405.6" y="174.5"/><use href="#c" x="175.9" y="351.3"/><use href="#c" x="881.0" y="155.1"/><use href="#c" x="379.3" y="146.5"/><use href="#c" x="146.9" y="363.4"/><use href="#c" x="321.2" y="128.3"/><use href="#c" x="172.8" y="353.2"/><use href="#c" x="646.8" y="67.5"/><use href="#c" x="192.8" y="334.4"/><use href="#c" x="104.5" y="330.8"/><use href="#c" x="495.2" y="204.6"/><use href="#c" x="207.3" y="313.4"/><use href="#c" x="909.7" y="201.7"/><use href="#c" x="863.2" y="173.8"/><use href="#c" x="163.6" y="359.2"/><use href="#c" x="614.2" y="45.7"/><use href="#c" x="269.5" y="208.0"/><use href="#c" x="641.8" y="59.6"/><use href="#c" x="903.9" y="184.7"/><use href="#c" x="226.6" y="278.6"/><use href="#c" x="629.8" y="49.8"/><use href="#c" x="184.7" y="344.0"/><use href="#c" x="173.3" y="352.6"/><use href="#c" x="199.8" y="325.0"/><use href="#c" x="703.0" y="193.0"/><use href="#c" x="777.8" y="284.5"/><use href="#c" x="920.5" y="240.6"/><use href="#c" x="210.7" y="307.4"/><use href="#c" x="728.9" y="231.8"/><use href="#c" x="111.7" y="340.0"/><use href="#c" x="840.1" y="223.1"/><use href="#c" x="663.9" y="98.1"/><use href="#c" x="620.2" y="46.9"/><use href="#c" x="469.4" y="215.9"/><use href="#c" x="409.1" y="177.3"/><use href="#c" x="365.8" y="135.6"/><use href="#c" x="519.8" y="177.6"/><use href="#c" x="384.2" y="151.4"/><use href="#c" x="447.1" y="211.1"/><use href="#c" x="706.8" y="202.2"/><use href="#c" x="288.2" y="169.7"/><use href="#c" x="156.8" y="362.4"/><use href="#c" x="222.0" y="288.2"/><use href="#c" x="716.7" y="224.6"/><use href="#c" x="472.7" y="215.9"/><use href="#c" x="113.0" y="341.7"/><use href="#c" x="674.9" y="123.8"/><use href="#c" x="300.5" y="150.3"/><use href="#c" x="230.7" y="269.8"/><use href="#c" x="266.7" y="211.9"/><use href="#c" x="137.7" y="360.8"/><use href="#c" x="197.6" y="327.0"/><use href="#c" x="283.3" y="178.4"/><use href="#c" x="583.9" y="70.6"/><use href="#c" x="171.1" y="354.1"/><use href="#c" x="142.9" y="362.9"/><use href="#c" x="902.7" y="180.3"/><use href="#c" x="634.1" y="53.2"/><use href="#c" x="515.1" y="184.5"/><use href="#c" x="552.0" y="122.2"/><use href="#c" x="276.6" y="192.2"/><use href="#c" x="650.0" y="72.1"/><use href="#c" x="402.7" y="170.7"/><use href="#c" x="200.4" y="324.2"/><use href="#c" x="111.9" y="340.3"/><use href="#c" x="122.2" y="352.0"/><use href="#c" x="259.5" y="227.2"/><use href="#c" x="162.7" y="360.0"/><use href="#c" x="412.5" y="181.9"/><use href="#c" x="670.6" y="115.4"/><use href="#c" x="132.1" y="358.6"/><use href="#c" x="136.5" y="360.6"/><use href="#c" x="131.0" y="358.3"/><use href="#c" x="673.7" y="120.4"/><use href="#c" x="801.9" y="271.0"/><use href="#c" x="523.5" y="172.1"/><use href="#c" x="132.4" y="359.5"/><use href="#c" x="402.4" y="171.6"/><use href="#c" x="281.0" y="183.8"/><use href="#c" x="174.3" y="352.8"/><use href="#c" x="350.1" y="125.8"/><use href="#c" x="224.5" y="282.9"/><use href="#c" x="266.3" y="212.5"/><use href="#c" x="498.8" y="201.9"/><use href="#c" x="129.3" y="356.4"/><use href="#c" x="396.4" y="165.3"/><use href="#c" x="156.6" y="361.7"/><use href="#c" x="537.2" y="150.7"/><use href="#c" x="223.0" y="286.0"/><use href="#c" x="829.0" y="242.7"/><use href="#c" x="586.1" y="66.7"/><use href="#c" x="462.9" y="216.0"/><use href="#c" x="898.5" y="171.5"/><use href="#c" x="314.5" y="132.9"/><use href="#c" x="823.2" y="238.7"/><use href="#c" x="260.7" y="224.0"/><use href="#c" x="126.5" y="356.3"/><use href="#c" x="215.2" y="301.0"/><use href="#c" x="231.1" y="269.6"/><use href="#c" x="487.1" y="209.9"/><use href="#c" x="151.2" y="363.4"/><use href="#c" x="320.9" y="127.6"/><use href="#c" x="220.2" y="290.9"/><use href="#c" x="102.4" y="327.9"/><use href="#c" x="400.6" y="168.7"/><use href="#c" x="117.5" y="347.0"/><use href="#c" x="934.5" y="323.4"/><use href="#c" x="453.6" y="213.1"/><use href="#c" x="443.5" y="208.2"/><use href="#c" x="266.1" y="214.4"/><use href="#c" x="450.1" y="212.1"/><use href="#c" x="411.8" y="180.4"/><use href="#c" x="161.2" y="360.2"/><use href="#c" x="927.3" y="269.9"/><use href="#c" x="119.1" y="349.0"/><use href="#c" x="354.0" y="128.1"/><use href="#c" x="369.4" y="139.3"/><use href="#c" x="756.0" y="275.1"/><use href="#c" x="170.6" y="355.7"/><use href="#c" x="127.3" y="355.7"/><use href="#c" x="874.6" y="158.9"/><use href="#c" x="392.5" y="161.0"/><use href="#c" x="819.8" y="245.9"/><use href="#c" x="656.8" y="83.5"/><use href="#c" x="245.5" y="237.3"/><use href="#c" x="133.2" y="358.8"/><use href="#c" x="285.7" y="175.0"/><use href="#c" x="116.2" y="346.2"/><use href="#c" x="232.9" y="264.3"/><use href="#c" x="185.1" y="342.1"/><use href="#c" x="529.5" y="162.6"/><use href="#c" x="290.5" y="165.8"/><use href="#c" x="133.9" y="359.5"/><use href="#c" x="241.9" y="244.6"/><use href="#c" x="322.9" y="127.4"/><use href="#c" x="217.7" y="294.9"/><use href="#c" x="277.5" y="190.1"/><use href="#c" x="558.1" y="114.0"/><use href="#c" x="901.5" y="177.8"/><use href="#c" x="108.9" y="336.3"/><use href="#c" x="353.0" y="127.4"/><use href="#c" x="192.3" y="335.2"/><use href="#c" x="159.7" y="362.1"/><use href="#c" x="615.9" y="47.0"/><use href="#c" x="149.9" y="362.9"/><use href="#c" x="923.9" y="255.2"/><use href="#c" x="145.7" y="363.9"/><use href="#c" x="678.0" y="129.2"/><use href="#c" x="386.0" y="154.9"/><use href="#c" x="440.5" y="205.2"/><use href="#c" x="667.6" y="105.6"/><use href="#c" x="527.8" y="166.7"/><use href="#c" x="614.9" y="46.1"/><use href="#c" x="337.5" y="124.5"/><use href="#c" x="944.3" y="396.6"/><use href="#c" x="118.7" y="348.1"/><use href="#c" x="434.2" y="201.7"/><use href="#c" x="269.7" y="206.3"/><use href="#c" x="474.7" y="214.7"/><use href="#c" x="256.4" y="234.0"/><use href="#c" x="733.0" y="239.2"/><use href="#c" x="371.3" y="139.8"/><use href="#c" x="864.1" y="173.3"/><use href="#c" x="280.3" y="185.3"/><use href="#c" x="196.9" y="328.0"/><use href="#c" x="561.0" y="108.5"/><use href="#c" x="271.3" y="202.8"/><use href="#c" x="464.5" y="214.8"/><use href="#c" x="487.9" y="210.0"/><use href="#c" x="689.0" y="157.7"/><use href="#c" x="896.8" y="168.1"/><use href="#c" x="640.6" y="59.6"/><use href="#c" x="262.5" y="221.5"/><use href="#c" x="239.1" y="250.6"/><use href="#c" x="695.7" y="176.4"/><use href="#c" x="287.6" y="171.6"/><use href="#c" x="688.3" y="156.0"/><use href="#c" x="387.7" y="155.6"/><use href="#c" x="603.7" y="50.8"/><use href="#c" x="226.9" y="277.2"/><use href="#c" x="483.4" y="211.2"/><use href="#c" x="625.2" y="48.2"/><use href="#c" x="175.3" y="351.8"/><use href="#c" x="460.4" y="215.9"/><use href="#c" x="107.3" y="335.4"/><use href="#c" x="869.6" y="164.4"/><use href="#c" x="437.9" y="203.8"/><use href="#c" x="119.3" y="349.2"/><use href="#c" x="288.7" y="168.3"/><use href="#c" x="286.5" y="173.2"/><use href="#c" x="155.8" y="362.8"/><use href="#c" x="199.5" y="324.8"/><use href="#c" x="106.0" y="332.9"/><use href="#c" x="639.9" y="58.2"/><use href="#c" x="682.4" y="141.9"/><use href="#c" x="571.0" y="91.1"/><use href="#c" x="156.1" y="361.7"/><use href="#c" x="590.9" y="62.3"/><use href="#c" x="597.7" y="54.5"/><use href="#c" x="118.0" y="347.7"/><use href="#c" x="168.6" y="356.6"/><use href="#c" x="419.8" y="188.5"/><use href="#c" x="325.2" y="126.3"/><use href="#c" x="411.3" y="179.7"/><use href="#c" x="773.6" y="285.3"/><use href="#c" x="128.2" y="355.8"/><use href="#c" x="816.0" y="251.6"/><use href="#c" x="134.1" y="360.1"/><use href="#c" x="494.7" y="204.2"/><use href="#c" x="171.2" y="354.9"/><use href="#c" x="447.9" y="210.5"/><use href="#c" x="444.1" y="208.1"/><use href="#c" x="138.8" y="362.4"/><use href="#c" x="280.7" y="183.3"/><use href="#c" x="148.9" y="363.2"/><use href="#c" x="576.5" y="82.0"/><use href="#c" x="399.4" y="168.5"/><use href="#c" x="505.7" y="194.5"/><use href="#c" x="425.4" y="194.3"/><use href="#c" x="482.7" y="211.6"/><use href="#c" x="379.8" y="147.8"/><use href="#c" x="515.4" y="183.4"/><use href="#c" x="374.6" y="143.4"/><use href="#c" x="577.0" y="80.6"/><use href="#c" x="237.3" y="255.3"/><use href="#c" x="767.5" y="283.3"/><use href="#c" x="292.0" y="163.4"/><use href="#c" x="437.3" y="204.0"/><use href="#c" x="244.0" y="240.4"/><use href="#c" x="436.7" y="203.5"/><use href="#c" x="119.7" y="349.6"/><use href="#c" x="786.4" y="282.1"/><use href="#c" x="623.7" y="47.0"/><use href="#c" x="179.1" y="349.1"/><use href="#c" x="490.4" y="207.7"/><use href="#c" x="813.0" y="254.9"/><use href="#c" x="627.5" y="48.7"/><use href="#c" x="178.7" y="348.0"/><use href="#c" x="349.0" y="125.9"/><use href="#c" x="259.1" y="227.9"/><use href="#c" x="628.1" y="48.2"/><use href="#c" x="910.6" y="205.5"/><use href="#c" x="108.7" y="336.6"/><use href="#c" x="788.8" y="282.2"/><use href="#c" x="246.4" y="234.1"/><use href="#c" x="242.7" y="241.8"/><use href="#c" x="484.4" y="212.1"/><use href="#c" x="895.9" y="165.4"/><use href="#c" x="208.7" y="311.0"/><use href="#c" x="104.6" y="331.4"/><use href="#c" x="187.3" y="341.3"/><use href="#c" x="261.2" y="223.7"/><use href="#c" x="342.5" y="123.9"/><use href="#c" x="671.7" y="114.0"/><use href="#c" x="373.2" y="141.4"/><use href="#c" x="382.8" y="150.8"/><use href="#c" x="354.4" y="127.7"/><use href="#c" x="199.5" y="325.6"/><use href="#c" x="316.5" y="131.7"/><use href="#c" x="313.4" y="134.3"/><use href="#c" x="320.1" y="129.2"/><use href="#c" x="130.4" y="358.2"/><use href="#c" x="141.1" y="363.6"/><use href="#c" x="269.2" y="206.6"/><use href="#c" x="197.8" y="327.4"/><use href="#c" x="130.3" y="358.0"/><use href="#c" x="396.5" y="164.2"/><use href="#c" x="391.3" y="158.9"/><use href="#c" x="128.7" y="356.7"/><use href="#c" x="434.5" y="202.0"/><use href="#c" x="476.9" y="214.6"/><use href="#c" x="121.8" y="351.0"/><use href="#c" x="215.7" y="299.3"/><use href="#c" x="170.9" y="355.2"/><use href="#c" x="232.4" y="265.8"/><use href="#c" x="427.5" y="195.2"/><use href="#c" x="891.5" y="159.4"/><use href="#c" x="628.8" y="49.6"/><use href="#c" x="289.8" y="167.3"/><use href="#c" x="420.9" y="190.5"/><use href="#c" x="566.2" y="98.2"/><use href="#c" x="136.4" y="361.2"/><use href="#c" x="245.8" y="236.5"/><use href="#c" x="363.1" y="133.0"/><use href="#c" x="217.9" y="295.1"/><use href="#c" x="914.0" y="217.5"/><use href="#c" x="142.6" y="363.3"/><use href="#c" x="214.3" y="301.4"/><use href="#c" x="138.2" y="362.2"/><use href="#c" x="162.9" y="359.0"/><use href="#c" x="141.5" y="362.3"/><use href="#c" x="267.9" y="210.8"/><use href="#c" x="669.8" y="110.6"/><use href="#c" x="169.2" y="356.1"/><use href="#c" x="212.8" y="304.0"/><use href="#c" x="728.7" y="232.3"/><use href="#c" x="176.0" y="350.6"/><use href="#c" x="791.6" y="280.0"/><use href="#c" x="160.7" y="360.7"/><use href="#c" x="764.6" y="280.8"/><use href="#c" x="923.2" y="251.6"/><use href="#c" x="947.9" y="417.6"/><use href="#c" x="143.9" y="362.2"/><use href="#c" x="913.3" y="213.7"/><use href="#c" x="381.3" y="149.8"/><use href="#c" x="366.8" y="137.2"/><use href="#c" x="247.4" y="230.9"/><use href="#c" x="856.4" y="188.0"/><use href="#c" x="416.8" y="185.1"/><use href="#c" x="214.4" y="301.2"/><use href="#c" x="346.4" y="125.5"/><use href="#c" x="252.8" y="241.1"/><use href="#c" x="341.7" y="123.5"/><use href="#c" x="919.8" y="237.2"/><use href="#c" x="142.1" y="362.8"/><use href="#c" x="932.6" y="310.3"/><use href="#c" x="191.0" y="336.7"/><use href="#c" x="183.0" y="344.7"/><use href="#c" x="483.3" y="212.2"/><use href="#c" x="144.7" y="363.2"/><use href="#c" x="568.7" y="94.7"/><use href="#c" x="333.1" y="123.2"/><use href="#c" x="443.9" y="208.8"/><use href="#c" x="351.7" y="127.1"/><use href="#c" x="322.4" y="127.0"/><use href="#c" x="138.9" y="362.2"/><use href="#c" x="586.8" y="66.5"/><use href="#c" x="102.4" y="328.2"/><use href="#c" x="214.6" y="301.5"/><use href="#c" x="733.5" y="241.4"/><use href="#c" x="229.4" y="272.2"/><use href="#c" x="567.3" y="97.8"/><use href="#c" x="222.8" y="285.6"/><use href="#c" x="688.9" y="156.6"/><use href="#c" x="327.9" y="125.5"/><use href="#c" x="649.1" y="69.5"/><use href="#c" x="397.1" y="165.3"/><use href="#c" x="478.3" y="213.6"/><use href="#c" x="149.8" y="364.8"/><use href="#c" x="241.4" y="246.3"/><use href="#c" x="879.6" y="155.3"/><use href="#c" x="192.4" y="334.5"/><use href="#c" x="540.3" y="144.4"/><use href="#c" x="190.6" y="335.8"/><use href="#c" x="135.1" y="360.1"/><use href="#c" x="691.5" y="164.9"/><use href="#c" x="115.4" y="344.7"/><use href="#c" x="394.9" y="163.0"/><use href="#c" x="236.4" y="258.2"/><use href="#c" x="115.5" y="344.9"/><use href="#c" x="262.3" y="220.5"/><use href="#c" x="137.3" y="361.5"/><use href="#c" x="616.1" y="46.7"/><use href="#c" x="337.8" y="123.3"/><use href="#c" x="712.1" y="215.5"/><use href="#c" x="331.4" y="124.1"/><use href="#c" x="466.9" y="216.4"/><use href="#c" x="165.2" y="358.6"/><use href="#c" x="300.9" y="149.1"/><use href="#c" x="319.1" y="129.9"/><use href="#c" x="502.3" y="198.0"/><use href="#c" x="584.3" y="69.4"/><use href="#c" x="365.6" y="136.1"/><use href="#c" x="945.5" y="403.7"/><use href="#c" x="213.0" y="303.1"/><use href="#c" x="123.1" y="352.2"/><use href="#c" x="734.0" y="242.4"/><use href="#c" x="329.0" y="125.2"/><use href="#c" x="248.4" y="227.4"/><use href="#c" x="937.2" y="340.9"/><use href="#c" x="102.4" y="328.2"/><use href="#c" x="293.3" y="161.9"/><use href="#c" x="130.7" y="358.3"/><use href="#c" x="294.9" y="158.2"/><use href="#c" x="495.8" y="203.7"/><use href="#c" x="339.8" y="123.6"/><use href="#c" x="305.3" y="142.8"/><use href="#c" x="513.8" y="185.5"/><use href="#c" x="251.3" y="244.0"/><use href="#c" x="305.4" y="142.4"/><use href="#c" x="152.5" y="362.5"/><use href="#c" x="637.0" y="54.7"/><use href="#c" x="301.0" y="148.9"/><use href="#c" x="280.1" y="185.8"/><use href="#c" x="273.3" y="200.2"/><use href="#c" x="649.3" y="70.9"/><use href="#c" x="460.5" y="215.1"/><use href="#c" x="855.9" y="188.9"/><use href="#c" x="477.6" y="215.1"/><use href="#c" x="667.1" y="105.9"/><use href="#c" x="410.6" y="178.6"/><use href="#c" x="186.0" y="342.1"/><use href="#c" x="265.1" y="215.3"/><use href="#c" x="835.5" y="231.6"/><use href="#c" x="874.3" y="158.5"/><use href="#c" x="574.8" y="83.6"/><use href="#c" x="271.0" y="204.1"/><use href="#c" x="247.1" y="233.0"/><use href="#c" x="784.5" y="283.0"/><use href="#c" x="554.3" y="119.3"/><use href="#c" x="192.9" y="333.5"/><use href="#c" x="223.1" y="285.1"/><use href="#c" x="703.5" y="193.3"/><use href="#c" x="342.9" y="124.2"/><use href="#c" x="497.7" y="201.6"/><use href="#c" x="882.0" y="155.1"/><use href="#c" x="236.4" y="258.6"/><use href="#c" x="538.7" y="146.9"/><use href="#c" x="295.2" y="158.2"/><use href="#c" x="793.2" y="279.0"/><use href="#c" x="791.1" y="280.4"/><use href="#c" x="393.7" y="161.2"/><use href="#c" x="731.0" y="235.7"/><use href="#c" x="932.3" y="308.5"/><use href="#c" x="591.3" y="62.1"/><use href="#c" x="534.4" y="155.4"/><use href="#c" x="390.8" y="158.4"/><use href="#c" x="244.0" y="238.7"/><use href="#c" x="344.7" y="124.2"/><use href="#c" x="307.7" y="140.8"/><use href="#c" x="712.8" y="215.3"/><use href="#c" x="583.1" y="72.0"/><use href="#c" x="311.4" y="136.1"/><use href="#c" x="433.6" y="200.3"/><use href="#c" x="498.9" y="200.6"/><use href="#c" x="102.4" y="328.0"/><use href="#c" x="834.5" y="233.7"/><use href="#c" x="124.0" y="354.2"/><use href="#c" x="733.0" y="239.8"/><use href="#c" x="780.6" y="284.7"/><use href="#c" x="126.8" y="356.0"/><use href="#c" x="543.1" y="139.9"/><use href="#c" x="121.1" y="350.7"/><use href="#c" x="768.2" y="283.7"/><use href="#c" x="207.9" y="312.3"/><use href="#c" x="346.2" y="124.9"/><use href="#c" x="697.0" y="177.9"/><use href="#c" x="550.2" y="126.5"/><use href="#c" x="487.3" y="210.6"/><use href="#c" x="219.2" y="293.3"/><use href="#c" x="453.7" y="213.0"/><use href="#c" x="272.1" y="201.6"/><use href="#c" x="516.7" y="181.3"/><use href="#c" x="486.9" y="210.5"/><use href="#c" x="147.6" y="363.8"/><use href="#c" x="372.3" y="139.2"/><use href="#c" x="115.2" y="345.5"/><use href="#c" x="332.3" y="123.5"/><use href="#c" x="409.0" y="177.5"/><use href="#c" x="352.7" y="127.8"/><use href="#c" x="692.4" y="166.5"/><use href="#c" x="143.7" y="362.9"/><use href="#c" x="630.9" y="50.5"/><use href="#c" x="371.9" y="140.0"/><use href="#c" x="272.3" y="201.0"/><use href="#c" x="564.7" y="100.8"/><use href="#c" x="251.0" y="245.4"/><use href="#c" x="276.5" y="192.3"/><use href="#c" x="226.0" y="279.5"/><use href="#c" x="657.5" y="85.8"/><use href="#c" x="895.4" y="166.2"/><use href="#c" x="825.9" y="234.1"/><use href="#c" x="290.0" y="166.9"/><use href="#c" x="537.1" y="150.4"/><use href="#c" x="862.1" y="176.6"/><use href="#c" x="196.6" y="329.2"/><use href="#c" x="496.1" y="202.7"/><use href="#c" x="884.6" y="155.4"/><use href="#c" x="231.6" y="268.3"/><use href="#c" x="120.2" y="348.8"/><use href="#c" x="454.3" y="213.3"/><use href="#c" x="414.7" y="184.4"/><use href="#c" x="268.1" y="208.1"/><use href="#c" x="845.7" y="211.9"/><use href="#c" x="190.2" y="337.7"/><use href="#c" x="253.2" y="240.6"/><use href="#c" x="939.9" y="364.1"/><use href="#c" x="154.9" y="362.6"/><use href="#c" x="764.8" y="279.1"/><use href="#c" x="723.9" y="240.9"/><use href="#c" x="353.7" y="128.1"/><use href="#c" x="292.7" y="162.5"/><use href="#c" x="492.7" y="206.7"/><use href="#c" x="259.4" y="228.1"/><use href="#c" x="582.6" y="72.8"/><use href="#c" x="123.6" y="351.7"/><use href="#c" x="741.7" y="256.2"/><use href="#c" x="668.5" y="109.1"/><use href="#c" x="607.0" y="48.9"/><use href="#c" x="102.4" y="326.9"/><use href="#c" x="460.7" y="216.8"/><use href="#c" x="708.8" y="206.3"/><use href="#c" x="168.8" y="356.5"/><use href="#c" x="270.2" y="205.3"/><use href="#c" x="409.8" y="179.0"/><use href="#c" x="489.3" y="208.1"/><use href="#c" x="142.5" y="363.5"/><use href="#c" x="393.2" y="160.3"/><use href="#c" x="242.8" y="242.3"/><use href="#c" x="293.2" y="161.8"/><use href="#c" x="278.3" y="188.2"/><use href="#c" x="297.4" y="154.2"/><use href="#c" x="924.2" y="256.5"/><use href="#c" x="682.2" y="141.1"/><use href="#c" x="200.0" y="323.9"/><use href="#c" x="364.7" y="134.1"/><use href="#c" x="862.7" y="175.9"/><use href="#c" x="612.0" y="47.1"/><use href="#c" x="143.1" y="363.7"/><use href="#c" x="159.9" y="361.8"/><use href="#c" x="262.2" y="221.4"/><use href="#c" x="229.3" y="273.3"/><use href="#c" x="423.7" y="192.0"/><use href="#c" x="589.3" y="64.2"/><use href="#c" x="534.5" y="155.0"/><use href="#c" x="880.5" y="155.4"/><use href="#c" x="182.4" y="345.6"/><use href="#c" x="341.1" y="123.6"/><use href="#c" x="237.7" y="254.0"/><use href="#c" x="307.0" y="141.1"/><use href="#c" x="854.0" y="191.7"/><use href="#c" x="303.2" y="147.2"/><use href="#c" x="326.7" y="125.2"/><use href="#c" x="138.9" y="361.9"/><use href="#c" x="760.8" y="277.7"/><use href="#c" x="698.5" y="182.5"/><use href="#c" x="949.4" y="426.4"/><use href="#c" x="554.5" y="119.6"/><use href="#c" x="186.4" y="342.0"/><use href="#c" x="919.1" y="237.3"/><use href="#c" x="341.3" y="124.2"/><use href="#c" x="184.0" y="343.6"/><use href="#c" x="801.4" y="272.7"/><use href="#c" x="201.0" y="322.2"/><use href="#c" x="269.7" y="205.6"/><use href="#c" x="139.5" y="362.3"/><use href="#c" x="931.5" y="303.8"/><use href="#c" x="369.5" y="139.0"/><use href="#c" x="788.3" y="282.0"/><use href="#c" x="409.3" y="178.1"/><use href="#c" x="111.0" y="339.3"/><use href="#c" x="794.8" y="278.1"/><use href="#c" x="844.6" y="213.6"/><use href="#c" x="853.6" y="194.1"/><use href="#c" x="102.4" y="329.1"/><use href="#c" x="941.0" y="371.8"/><use href="#c" x="415.3" y="184.4"/><use href="#c" x="166.9" y="357.7"/><use href="#c" x="911.0" y="207.1"/><use href="#c" x="429.5" y="197.3"/><use href="#c" x="218.7" y="294.1"/><use href="#c" x="163.9" y="359.4"/><use href="#c" x="443.0" y="208.1"/><use href="#c" x="570.1" y="93.2"/><use href="#c" x="503.6" y="196.7"/><use href="#c" x="446.9" y="209.9"/><use href="#c" x="201.7" y="321.5"/><use href="#c" x="115.3" y="346.0"/><use href="#c" x="160.9" y="360.3"/><use href="#c" x="222.6" y="286.9"/><use href="#c" x="441.4" y="206.3"/><use href="#c" x="581.2" y="73.4"/><use href="#c" x="556.9" y="115.8"/><use href="#c" x="184.5" y="343.7"/><use href="#c" x="303.4" y="146.6"/><use href="#c" x="484.8" y="211.0"/><use href="#c" x="704.6" y="196.6"/><use href="#c" x="770.3" y="282.9"/><use href="#c" x="151.6" y="363.6"/><use href="#c" x="320.3" y="129.1"/><use href="#c" x="165.0" y="359.0"/><use href="#c" x="923.6" y="252.0"/><use href="#c" x="226.8" y="278.0"/><use href="#c" x="749.1" y="266.2"/><use href="#c" x="176.9" y="351.4"/><use href="#c" x="145.2" y="363.1"/><use href="#c" x="258.9" y="227.5"/><use href="#c" x="306.8" y="141.3"/><use href="#c" x="230.0" y="271.7"/><use href="#c" x="102.4" y="328.4"/><use href="#c" x="115.8" y="344.7"/><use href="#c" x="211.8" y="305.2"/><use href="#c" x="114.8" y="344.0"/><use href="#c" x="328.2" y="125.3"/><use href="#c" x="441.0" y="207.1"/><use href="#c" x="560.6" y="107.6"/><use href="#c" x="383.9" y="152.2"/><use href="#c" x="181.8" y="346.5"/><use href="#c" x="288.1" y="171.7"/><use href="#c" x="385.4" y="152.2"/><use href="#c" x="271.9" y="201.8"/><use href="#c" x="790.8" y="280.4"/><use href="#c" x="456.5" y="215.0"/><use href="#c" x="134.9" y="361.3"/><use href="#c" x="216.3" y="296.6"/><use href="#c" x="429.7" y="197.3"/><use href="#c" x="114.1" y="344.2"/><use href="#c" x="205.6" y="316.1"/><use href="#c" x="648.9" y="68.8"/><use href="#c" x="671.4" y="115.9"/><use href="#c" x="475.2" y="215.9"/><use href="#c" x="882.2" y="156.0"/><use href="#c" x="684.9" y="149.4"/><use href="#c" x="814.3" y="255.4"/><use href="#c" x="154.4" y="362.2"/><use href="#c" x="531.8" y="158.6"/><use href="#c" x="394.4" y="163.1"/><use href="#c" x="156.0" y="362.2"/><use href="#c" x="628.0" y="47.8"/><use href="#c" x="183.5" y="344.2"/><use href="#c" x="845.9" y="209.8"/><use href="#c" x="521.4" y="175.7"/><use href="#c" x="110.3" y="338.2"/><use href="#c" x="124.4" y="353.6"/><use href="#c" x="139.3" y="362.7"/><use href="#c" x="471.7" y="215.9"/><use href="#c" x="279.2" y="187.5"/><use href="#c" x="318.4" y="130.5"/><use href="#c" x="413.7" y="182.0"/><use href="#c" x="917.3" y="229.0"/><use href="#c" x="660.9" y="92.5"/><use href="#c" x="246.6" y="234.2"/><use href="#c" x="430.9" y="199.6"/><use href="#c" x="228.7" y="274.0"/><use href="#c" x="356.8" y="129.7"/><use href="#c" x="542.7" y="141.8"/><use href="#c" x="403.7" y="171.4"/><use href="#c" x="167.2" y="357.4"/><use href="#c" x="224.3" y="283.1"/><use href="#c" x="848.8" y="204.7"/><use href="#c" x="197.3" y="328.9"/><use href="#c" x="240.7" y="247.5"/><use href="#c" x="386.2" y="153.5"/><use href="#c" x="265.0" y="214.8"/><use href="#c" x="912.2" y="209.7"/><use href="#c" x="118.4" y="348.1"/><use href="#c" x="208.5" y="310.9"/><use href="#c" x="867.9" y="167.3"/><use href="#c" x="756.6" y="275.2"/><use href="#c" x="150.1" y="362.4"/><use href="#c" x="473.8" y="215.4"/><use href="#c" x="262.8" y="220.2"/><use href="#c" x="656.3" y="82.1"/><use href="#c" x="807.2" y="265.7"/><use href="#c" x="688.6" y="158.3"/><use href="#c" x="125.1" y="354.3"/><use href="#c" x="426.4" y="194.7"/><use href="#c" x="874.0" y="159.3"/><use href="#c" x="156.0" y="362.9"/><use href="#c" x="317.4" y="131.1"/><use href="#c" x="304.8" y="144.4"/><use href="#c" x="345.0" y="124.1"/><use href="#c" x="202.5" y="320.3"/><use href="#c" x="177.9" y="349.9"/><use href="#c" x="713.6" y="216.7"/><use href="#c" x="314.3" y="134.0"/><use href="#c" x="102.4" y="328.5"/><use href="#c" x="183.4" y="345.7"/><use href="#c" x="418.0" y="187.4"/><use href="#c" x="859.1" y="182.6"/><use href="#c" x="414.1" y="183.7"/><use href="#c" x="244.3" y="238.8"/><use href="#c" x="388.3" y="156.0"/><use href="#c" x="184.9" y="344.4"/><use href="#c" x="761.3" y="278.1"/><use href="#c" x="917.9" y="232.4"/><use href="#c" x="464.9" y="215.6"/><use href="#c" x="418.3" y="186.3"/><use href="#c" x="689.7" y="160.2"/><use href="#c" x="208.5" y="311.0"/><use href="#c" x="167.0" y="357.9"/><use href="#c" x="877.2" y="156.7"/><use href="#c" x="840.8" y="221.6"/><use href="#c" x="836.2" y="230.6"/><use href="#c" x="291.1" y="165.7"/><use href="#c" x="219.5" y="290.9"/><use href="#c" x="937.2" y="340.3"/><use href="#c" x="657.3" y="84.5"/><use href="#c" x="228.8" y="274.2"/><use href="#c" x="209.0" y="309.7"/><use href="#c" x="671.0" y="114.9"/><use href="#c" x="461.5" y="214.3"/><use href="#c" x="338.8" y="124.0"/><use href="#c" x="471.0" y="216.3"/><use href="#c" x="236.1" y="257.6"/><use href="#c" x="216.6" y="297.8"/><use href="#c" x="200.8" y="323.5"/><use href="#c" x="103.1" y="329.8"/><use href="#c" x="421.3" y="190.3"/><use href="#c" x="602.1" y="51.9"/><use href="#c" x="619.8" y="46.4"/><use href="#c" x="153.8" y="362.9"/><use href="#c" x="137.4" y="361.4"/><use href="#c" x="491.2" y="207.4"/><use href="#c" x="154.1" y="363.1"/><use href="#c" x="427.8" y="196.5"/><use href="#c" x="868.1" y="165.6"/><use href="#c" x="141.0" y="363.6"/><use href="#c" x="198.1" y="327.2"/><use href="#c" x="359.6" y="131.4"/><use href="#c" x="242.0" y="246.3"/><use href="#c" x="292.2" y="163.8"/><use href="#c" x="484.7" y="211.7"/><use href="#c" x="855.4" y="189.7"/><use href="#c" x="177.2" y="350.4"/><use href="#c" x="150.5" y="363.9"/><use href="#c" x="188.1" y="339.4"/><use href="#c" x="210.5" y="308.4"/><use href="#c" x="743.5" y="258.4"/><use href="#c" x="420.4" y="189.9"/><use href="#c" x="946.4" y="410.9"/><use href="#c" x="304.1" y="144.9"/><use href="#c" x="268.4" y="209.2"/><use href="#c" x="410.3" y="180.1"/><use href="#c" x="693.9" y="170.6"/><use href="#c" x="650.3" y="72.3"/><use href="#c" x="333.6" y="124.3"/><use href="#c" x="704.0" y="194.0"/><use href="#c" x="545.1" y="136.3"/><use href="#c" x="470.7" y="215.6"/><use href="#c" x="413.0" y="181.9"/><use href="#c" x="525.6" y="169.4"/><use href="#c" x="838.4" y="227.6"/><use href="#c" x="532.3" y="159.3"/><use href="#c" x="444.7" y="208.4"/><use href="#c" x="138.1" y="362.5"/><use href="#c" x="391.5" y="159.4"/><use href="#c" x="892.8" y="160.6"/><use href="#c" x="122.1" y="352.1"/><use href="#c" x="811.5" y="259.9"/><use href="#c" x="255.7" y="234.7"/><use href="#c" x="272.8" y="197.6"/><use href="#c" x="945.4" y="405.8"/><use href="#c" x="108.8" y="337.8"/><use href="#c" x="800.6" y="273.5"/><use href="#c" x="179.9" y="347.2"/><use href="#c" x="857.2" y="186.1"/><use href="#c" x="771.4" y="283.4"/><use href="#c" x="610.6" y="47.4"/><use href="#c" x="447.3" y="210.7"/><use href="#c" x="423.1" y="191.3"/><use href="#c" x="377.7" y="145.1"/><use href="#c" x="849.5" y="202.4"/><use href="#c" x="114.8" y="343.8"/><use href="#c" x="177.4" y="348.9"/><use href="#c" x="923.8" y="254.3"/><use href="#c" x="699.6" y="184.2"/><use href="#c" x="216.5" y="297.6"/><use href="#c" x="391.6" y="159.9"/><use href="#c" x="858.2" y="185.3"/><use href="#c" x="236.9" y="256.3"/><use href="#c" x="275.2" y="194.0"/><use href="#c" x="129.1" y="356.6"/><use href="#c" x="208.6" y="311.5"/><use href="#c" x="235.5" y="260.6"/><use href="#c" x="170.4" y="355.3"/><use href="#c" x="102.4" y="328.8"/><use href="#c" x="288.3" y="168.9"/><use href="#c" x="928.7" y="281.5"/><use href="#c" x="815.9" y="253.1"/><use href="#c" x="196.0" y="329.4"/><use href="#c" x="677.3" y="129.7"/><use href="#c" x="251.9" y="243.3"/><use href="#c" x="181.5" y="347.0"/><use href="#c" x="407.8" y="176.9"/><use href="#c" x="112.4" y="341.9"/><use href="#c" x="246.2" y="235.4"/><use href="#c" x="186.2" y="341.9"/><use href="#c" x="483.6" y="211.5"/><use href="#c" x="162.0" y="359.3"/><use href="#c" x="102.4" y="327.8"/><use href="#c" x="884.8" y="155.5"/><use href="#c" x="252.5" y="241.5"/><use href="#c" x="619.3" y="46.7"/><use href="#c" x="797.4" y="275.7"/><use href="#c" x="162.9" y="358.9"/><use href="#c" x="815.7" y="252.0"/><use href="#c" x="102.4" y="327.8"/><use href="#c" x="341.2" y="123.5"/><use href="#c" x="264.2" y="217.6"/><use href="#c" x="906.1" y="189.8"/><use href="#c" x="398.5" y="166.3"/><use href="#c" x="705.2" y="197.5"/><use href="#c" x="306.7" y="141.4"/><use href="#c" x="206.3" y="315.0"/><use href="#c" x="430.2" y="197.6"/><use href="#c" x="326.3" y="126.3"/><use href="#c" x="736.0" y="246.1"/><use href="#c" x="759.2" y="276.7"/><use href="#c" x="544.7" y="138.0"/><use href="#c" x="457.8" y="214.2"/><use href="#c" x="456.6" y="213.7"/><use href="#c" x="221.8" y="287.8"/><use href="#c" x="109.5" y="336.6"/><use href="#c" x="186.1" y="342.8"/><use href="#c" x="245.1" y="237.7"/><use href="#c" x="946.7" y="412.6"/><use href="#c" x="230.2" y="271.3"/><use href="#c" x="195.2" y="331.8"/><use href="#c" x="330.6" y="123.8"/><use href="#c" x="192.7" y="334.4"/><use href="#c" x="155.6" y="362.5"/><use href="#c" x="469.2" y="216.1"/><use href="#c" x="263.8" y="218.3"/><use href="#c" x="449.8" y="211.8"/><use href="#c" x="151.9" y="363.2"/><use href="#c" x="545.5" y="136.6"/><use href="#c" x="176.2" y="351.4"/><use href="#c" x="169.8" y="355.0"/><use href="#c" x="769.6" y="283.6"/><use href="#c" x="211.1" y="307.4"/><use href="#c" x="933.6" y="318.0"/><use href="#c" x="531.2" y="161.2"/><use href="#c" x="383.4" y="150.7"/><use href="#c" x="182.0" y="345.9"/><use href="#c" x="428.6" y="197.2"/><use href="#c" x="287.3" y="173.0"/><use href="#c" x="659.3" y="87.7"/><use href="#c" x="731.9" y="238.2"/><use href="#c" x="122.3" y="351.1"/><use href="#c" x="920.4" y="241.5"/><use href="#c" x="125.1" y="354.1"/><use href="#c" x="226.8" y="277.6"/><use href="#c" x="878.4" y="155.5"/><use href="#c" x="128.7" y="357.1"/><use href="#c" x="939.6" y="359.2"/><use href="#c" x="617.2" y="45.8"/><use href="#c" x="140.0" y="362.0"/><use href="#c" x="225.2" y="280.7"/><use href="#c" x="277.1" y="190.8"/><use href="#c" x="575.9" y="81.4"/><use href="#c" x="131.7" y="358.4"/><use href="#c" x="479.9" y="213.5"/><use href="#c" x="219.8" y="292.3"/><use href="#c" x="444.2" y="208.8"/><use href="#c" x="777.1" y="283.6"/><use href="#c" x="334.8" y="124.8"/><use href="#c" x="272.4" y="200.6"/><use href="#c" x="724.5" y="241.1"/><use href="#c" x="363.5" y="133.9"/><use href="#c" x="244.6" y="238.4"/><use href="#c" x="232.6" y="266.6"/><use href="#c" x="166.0" y="358.2"/><use href="#c" x="668.4" y="108.8"/><use href="#c" x="537.8" y="148.2"/><use href="#c" x="807.0" y="265.4"/><use href="#c" x="250.9" y="244.6"/><use href="#c" x="633.0" y="51.8"/><use href="#c" x="327.4" y="124.5"/><use href="#c" x="226.1" y="279.1"/><use href="#c" x="188.5" y="338.8"/><use href="#c" x="247.0" y="232.3"/><use href="#c" x="863.4" y="174.8"/><use href="#c" x="137.5" y="360.7"/><use href="#c" x="466.1" y="216.5"/><use href="#c" x="173.2" y="353.7"/><use href="#c" x="393.4" y="161.7"/><use href="#c" x="601.1" y="52.3"/><use href="#c" x="601.5" y="51.9"/><use href="#c" x="225.6" y="281.2"/><use href="#c" x="413.6" y="182.1"/><use href="#c" x="274.1" y="197.3"/><use href="#c" x="295.3" y="158.1"/><use href="#c" x="183.8" y="344.3"/><use href="#c" x="240.5" y="248.2"/><use href="#c" x="714.9" y="220.6"/><use href="#c" x="514.1" y="184.5"/><use href="#c" x="136.0" y="361.6"/><use href="#c" x="130.9" y="357.7"/><use href="#c" x="572.3" y="88.4"/><use href="#c" x="571.8" y="89.5"/><use href="#c" x="468.7" y="215.7"/><use href="#c" x="315.3" y="132.6"/><use href="#c" x="868.9" y="164.6"/><use href="#c" x="540.2" y="143.8"/><use href="#c" x="201.3" y="321.5"/><use href="#c" x="726.9" y="227.0"/><use href="#c" x="675.8" y="125.3"/><use href="#c" x="544.5" y="137.4"/><use href="#c" x="437.0" y="204.0"/><use href="#c" x="216.7" y="298.5"/><use href="#c" x="549.2" y="129.6"/><use href="#c" x="122.0" y="351.5"/><use href="#c" x="314.6" y="132.9"/><use href="#c" x="238.9" y="252.5"/><use href="#c" x="108.5" y="336.3"/><use href="#c" x="261.6" y="223.0"/><use href="#c" x="405.3" y="174.0"/><use href="#c" x="813.9" y="254.2"/><use href="#c" x="371.2" y="138.9"/><use href="#c" x="385.7" y="154.1"/><use href="#c" x="318.6" y="129.5"/><use href="#c" x="698.8" y="182.4"/><use href="#c" x="753.8" y="271.7"/><use href="#c" x="179.7" y="348.4"/><use href="#c" x="116.4" y="346.5"/><use href="#c" x="314.7" y="133.2"/><use href="#c" x="754.6" y="272.6"/><use href="#c" x="163.0" y="360.6"/><use href="#c" x="754.9" y="272.5"/><use href="#c" x="914.3" y="217.7"/><use href="#c" x="282.9" y="179.0"/><use href="#c" x="298.0" y="154.1"/><use href="#c" x="194.2" y="333.4"/><use href="#c" x="908.4" y="197.1"/><use href="#c" x="308.8" y="139.0"/><use href="#c" x="161.6" y="360.5"/><use href="#c" x="214.9" y="299.4"/><use href="#c" x="467.2" y="215.0"/><use href="#c" x="604.4" y="50.2"/><use href="#c" x="736.5" y="245.9"/><use href="#c" x="609.6" y="47.6"/><use href="#c" x="319.4" y="129.6"/><use href="#c" x="592.1" y="60.7"/><use href="#c" x="125.6" y="354.0"/><use href="#c" x="848.3" y="205.2"/><use href="#c" x="676.5" y="126.5"/><use href="#c" x="247.7" y="230.3"/><use href="#c" x="352.6" y="127.5"/><use href="#c" x="358.1" y="129.8"/><use href="#c" x="638.8" y="56.7"/><use href="#c" x="650.2" y="72.8"/><use href="#c" x="334.1" y="122.8"/><use href="#c" x="182.8" y="346.4"/><use href="#c" x="372.2" y="140.3"/><use href="#c" x="407.5" y="176.1"/><use href="#c" x="683.7" y="144.9"/><use href="#c" x="845.2" y="212.8"/><use href="#c" x="142.5" y="363.4"/><use href="#c" x="888.8" y="157.6"/><use href="#c" x="125.7" y="354.9"/><use href="#c" x="519.8" y="177.2"/><use href="#c" x="765.1" y="281.1"/><use href="#c" x="192.1" y="336.8"/><use href="#c" x="316.9" y="130.5"/><use href="#c" x="387.5" y="155.2"/><use href="#c" x="598.9" y="54.0"/><use href="#c" x="772.6" y="284.6"/><use href="#c" x="209.5" y="309.4"/><use href="#c" x="188.9" y="339.1"/><use href="#c" x="578.8" y="78.3"/><use href="#c" x="824.3" y="236.0"/><use href="#c" x="107.9" y="335.2"/><use href="#c" x="930.2" y="292.9"/><use href="#c" x="428.3" y="196.8"/><use href="#c" x="922.5" y="248.6"/><use href="#c" x="381.8" y="150.1"/><use href="#c" x="309.0" y="138.8"/><use href="#c" x="439.9" y="206.1"/><use href="#c" x="438.2" y="205.8"/><use href="#c" x="912.9" y="213.9"/><use href="#c" x="298.9" y="152.9"/><use href="#c" x="892.3" y="161.3"/><use href="#c" x="702.7" y="193.1"/><use href="#c" x="918.1" y="231.5"/><use href="#c" x="611.7" y="46.7"/><use href="#c" x="392.8" y="160.1"/><use href="#c" x="747.0" y="263.4"/><use href="#c" x="633.3" y="52.9"/><use href="#c" x="321.7" y="128.9"/><use href="#c" x="771.0" y="283.6"/><use href="#c" x="289.3" y="167.1"/><use href="#c" x="611.5" y="46.2"/><use href="#c" x="460.2" y="215.1"/><use href="#c" x="239.2" y="252.2"/><use href="#c" x="383.2" y="150.1"/><use href="#c" x="366.2" y="136.1"/><use href="#c" x="505.5" y="194.3"/><use href="#c" x="847.8" y="206.9"/><use href="#c" x="234.2" y="261.9"/><use href="#c" x="103.5" y="329.6"/><use href="#c" x="208.2" y="313.1"/><use href="#c" x="324.3" y="125.9"/><use href="#c" x="296.2" y="158.1"/><use href="#c" x="137.1" y="361.2"/><use href="#c" x="545.2" y="135.3"/><use href="#c" x="832.9" y="235.8"/><use href="#c" x="334.0" y="123.4"/><use href="#c" x="129.9" y="357.1"/><use href="#c" x="613.6" y="46.6"/><use href="#c" x="422.9" y="191.7"/><use href="#c" x="895.1" y="166.5"/><use href="#c" x="695.9" y="175.2"/><use href="#c" x="437.9" y="203.7"/><use href="#c" x="145.0" y="363.9"/><use href="#c" x="291.4" y="164.4"/><use href="#c" x="166.2" y="357.9"/><use href="#c" x="124.2" y="352.9"/><use href="#c" x="243.8" y="240.3"/><use href="#c" x="557.4" y="113.5"/><use href="#c" x="739.5" y="252.0"/><use href="#c" x="124.7" y="354.3"/><use href="#c" x="454.8" y="213.3"/><use href="#c" x="191.7" y="335.8"/><use href="#c" x="329.1" y="124.4"/><use href="#c" x="649.6" y="71.6"/><use href="#c" x="406.9" y="175.0"/><use href="#c" x="245.6" y="234.6"/><use href="#c" x="304.2" y="145.1"/><use href="#c" x="306.6" y="141.9"/><use href="#c" x="204.2" y="317.9"/><use href="#c" x="191.5" y="336.3"/><use href="#c" x="156.3" y="362.2"/><use href="#c" x="522.9" y="172.2"/><use href="#c" x="395.1" y="163.5"/><use href="#c" x="476.3" y="213.9"/><use href="#c" x="102.4" y="328.9"/><use href="#c" x="253.3" y="239.0"/><use href="#c" x="312.2" y="136.0"/><use href="#c" x="599.5" y="53.3"/><use href="#c" x="410.9" y="178.5"/><use href="#c" x="804.8" y="267.8"/><use href="#c" x="291.6" y="165.1"/><use href="#c" x="701.8" y="190.8"/><use href="#c" x="244.7" y="237.9"/><use href="#c" x="906.6" y="191.6"/><use href="#c" x="760.2" y="278.4"/><use href="#c" x="129.5" y="356.6"/><use href="#c" x="742.7" y="257.3"/><use href="#c" x="364.9" y="134.5"/><use href="#c" x="721.8" y="236.7"/><use href="#c" x="419.3" y="188.0"/><use href="#c" x="406.5" y="175.8"/><use href="#c" x="497.3" y="202.5"/><use href="#c" x="446.8" y="210.7"/><use href="#c" x="225.3" y="281.4"/><use href="#c" x="177.1" y="350.7"/><use href="#c" x="202.2" y="322.1"/><use href="#c" x="843.8" y="215.6"/><use href="#c" x="167.9" y="357.2"/><use href="#c" x="809.5" y="261.9"/><use href="#c" x="588.6" y="64.2"/><use href="#c" x="126.4" y="355.2"/><use href="#c" x="285.2" y="175.0"/><use href="#c" x="861.1" y="178.8"/><use href="#c" x="117.9" y="346.9"/><use href="#c" x="501.9" y="198.7"/><use href="#c" x="179.2" y="348.3"/><use href="#c" x="205.2" y="316.9"/><use href="#c" x="212.1" y="306.4"/><use href="#c" x="338.9" y="123.9"/><use href="#c" x="735.1" y="244.2"/><use href="#c" x="256.1" y="234.3"/><use href="#c" x="647.8" y="68.3"/><use href="#c" x="235.6" y="260.0"/><use href="#c" x="670.3" y="113.4"/><use href="#c" x="582.3" y="73.2"/><use href="#c" x="351.2" y="126.4"/><use href="#c" x="511.7" y="187.8"/><use href="#c" x="151.3" y="363.4"/><use href="#c" x="213.9" y="300.8"/><use href="#c" x="360.8" y="132.1"/><use href="#c" x="466.4" y="216.2"/><use href="#c" x="331.4" y="124.6"/><use href="#c" x="335.6" y="123.4"/><use href="#c" x="273.2" y="200.5"/><use href="#c" x="819.3" y="245.4"/><use href="#c" x="607.5" y="48.1"/><use href="#c" x="593.6" y="59.1"/><use href="#c" x="303.7" y="145.8"/><use href="#c" x="186.9" y="340.5"/><use href="#c" x="111.5" y="339.8"/><use href="#c" x="511.3" y="188.9"/><use href="#c" x="451.9" y="212.5"/><use href="#c" x="134.5" y="361.0"/><use href="#c" x="297.5" y="154.8"/><use href="#c" x="138.4" y="361.8"/><use href="#c" x="171.7" y="354.1"/><use href="#c" x="637.9" y="54.8"/><use href="#c" x="221.2" y="288.7"/><use href="#c" x="243.0" y="241.6"/><use href="#c" x="230.2" y="271.1"/><use href="#c" x="366.3" y="135.0"/><use href="#c" x="747.5" y="263.3"/><use href="#c" x="300.8" y="148.0"/><use href="#c" x="102.4" y="328.7"/><use href="#c" x="674.6" y="122.7"/><use href="#c" x="186.9" y="340.8"/><use href="#c" x="351.6" y="127.1"/><use href="#c" x="157.1" y="361.8"/><use href="#c" x="316.9" y="131.1"/><use href="#c" x="153.3" y="363.5"/><use href="#c" x="332.5" y="124.3"/><use href="#c" x="217.7" y="296.4"/><use href="#c" x="241.0" y="247.4"/><use href="#c" x="210.1" y="310.1"/><use href="#c" x="513.5" y="185.8"/><use href="#c" x="300.0" y="151.1"/><use href="#c" x="228.9" y="273.3"/><use href="#c" x="307.8" y="139.7"/><use href="#c" x="827.0" y="231.8"/><use href="#c" x="354.9" y="128.5"/><use href="#c" x="789.8" y="281.8"/><use href="#c" x="152.9" y="363.7"/><use href="#c" x="476.8" y="214.0"/><use href="#c" x="195.6" y="330.5"/><use href="#c" x="347.5" y="126.1"/><use href="#c" x="147.8" y="363.7"/><use href="#c" x="822.3" y="239.2"/><use href="#c" x="854.7" y="192.1"/><use href="#c" x="165.6" y="357.7"/><use href="#c" x="497.9" y="201.8"/><use href="#c" x="528.0" y="165.8"/><use href="#c" x="404.4" y="173.0"/><use href="#c" x="844.0" y="216.2"/><use href="#c" x="827.6" y="228.8"/><use href="#c" x="558.0" y="114.2"/><use href="#c" x="449.3" y="210.5"/><use href="#c" x="222.7" y="285.9"/><use href="#c" x="355.6" y="128.0"/><use href="#c" x="478.6" y="214.8"/><use href="#c" x="255.8" y="235.4"/><use href="#c" x="891.7" y="160.7"/><use href="#c" x="579.0" y="77.5"/><use href="#c" x="158.3" y="362.0"/><use href="#c" x="119.9" y="349.8"/><use href="#c" x="927.5" y="272.5"/><use href="#c" x="369.8" y="138.6"/><use href="#c" x="237.2" y="255.0"/><use href="#c" x="609.0" y="47.7"/><use href="#c" x="406.8" y="175.4"/><use href="#c" x="199.9" y="323.9"/><use href="#c" x="672.8" y="118.9"/><use href="#c" x="155.3" y="362.5"/><use href="#c" x="350.6" y="125.6"/><use href="#c" x="247.3" y="232.1"/><use href="#c" x="302.1" y="148.6"/><use href="#c" x="190.8" y="335.7"/><use href="#c" x="112.6" y="342.6"/><use href="#c" x="163.4" y="359.9"/><use href="#c" x="422.3" y="191.3"/><use href="#c" x="488.4" y="210.1"/><use href="#c" x="335.4" y="124.0"/><use href="#c" x="534.0" y="156.1"/><use href="#c" x="279.7" y="186.0"/><use href="#c" x="165.5" y="358.4"/><use href="#c" x="247.5" y="231.8"/><use href="#c" x="344.6" y="125.2"/><use href="#c" x="110.3" y="339.7"/><use href="#c" x="663.6" y="97.7"/><use href="#c" x="798.7" y="274.5"/><use href="#c" x="425.2" y="193.3"/><use href="#c" x="181.2" y="346.9"/><use href="#c" x="570.5" y="91.7"/><use href="#c" x="435.7" y="203.5"/><use href="#c" x="518.6" y="179.0"/><use href="#c" x="598.2" y="54.4"/><use href="#c" x="672.3" y="117.9"/><use href="#c" x="540.8" y="144.3"/><use href="#c" x="271.5" y="203.5"/><use href="#c" x="355.3" y="128.2"/><use href="#c" x="108.6" y="337.3"/><use href="#c" x="608.3" y="48.2"/><use href="#c" x="719.7" y="232.4"/><use href="#c" x="327.4" y="126.0"/><use href="#c" x="396.3" y="164.3"/><use href="#c" x="176.4" y="350.3"/><use href="#c" x="135.5" y="360.9"/><use href="#c" x="203.5" y="319.7"/><use href="#c" x="114.8" y="344.5"/><use href="#c" x="334.5" y="123.7"/><use href="#c" x="380.0" y="148.3"/><use href="#c" x="333.5" y="123.8"/><use href="#c" x="235.1" y="262.0"/><use href="#c" x="153.6" y="363.0"/><use href="#c" x="103.9" y="331.5"/><use href="#c" x="147.8" y="363.8"/><use href="#c" x="202.3" y="321.6"/><use href="#c" x="104.3" y="330.8"/><use href="#c" x="545.8" y="135.3"/><use href="#c" x="936.0" y="332.1"/><use href="#c" x="696.6" y="177.9"/><use href="#c" x="189.3" y="338.8"/><use href="#c" x="400.4" y="168.6"/><use href="#c" x="200.5" y="323.9"/><use href="#c" x="260.4" y="225.9"/><use href="#c" x="367.0" y="136.0"/><use href="#c" x="220.3" y="291.0"/><use href="#c" x="210.2" y="308.0"/><use href="#c" x="314.1" y="134.0"/><use href="#c" x="740.7" y="253.6"/><use href="#c" x="626.0" y="47.8"/><use href="#c" x="125.3" y="353.7"/><use href="#c" x="436.5" y="203.8"/><use href="#c" x="217.6" y="296.6"/><use href="#c" x="516.2" y="181.1"/><use href="#c" x="538.3" y="148.6"/><use href="#c" x="177.9" y="349.4"/><use href="#c" x="120.3" y="350.6"/><use href="#c" x="607.3" y="48.6"/><use href="#c" x="585.8" y="67.5"/><use href="#c" x="247.2" y="231.8"/><use href="#c" x="396.9" y="164.7"/><use href="#c" x="247.9" y="229.4"/><use href="#c" x="473.1" y="214.9"/><use href="#c" x="675.9" y="126.7"/><use href="#c" x="679.8" y="135.0"/><use href="#c" x="144.8" y="362.6"/><use href="#c" x="734.7" y="243.2"/><use href="#c" x="782.3" y="284.4"/><use href="#c" x="711.8" y="214.4"/><use href="#c" x="105.9" y="334.9"/><use href="#c" x="759.5" y="277.0"/><use href="#c" x="250.0" y="247.1"/><use href="#c" x="125.8" y="354.8"/><use href="#c" x="113.9" y="343.7"/><use href="#c" x="544.8" y="136.5"/><use href="#c" x="586.5" y="67.2"/><use href="#c" x="415.0" y="184.0"/><use href="#c" x="410.1" y="179.0"/><use href="#c" x="603.9" y="49.8"/><use href="#c" x="160.4" y="361.4"/><use href="#c" x="209.6" y="310.1"/><use href="#c" x="153.5" y="363.1"/><use href="#c" x="606.0" y="47.1"/><use href="#c" x="349.1" y="125.7"/><use href="#c" x="947.5" y="418.2"/><use href="#c" x="488.2" y="209.6"/><use href="#c" x="727.6" y="230.1"/><use href="#c" x="730.1" y="234.3"/><use href="#c" x="687.3" y="153.8"/><use href="#c" x="827.2" y="230.9"/><use href="#c" x="373.6" y="141.6"/><use href="#c" x="886.4" y="155.1"/><use href="#c" x="121.6" y="351.5"/><use href="#c" x="243.2" y="241.7"/><use href="#c" x="690.7" y="161.5"/><use href="#c" x="635.5" y="53.3"/><use href="#c" x="116.5" y="347.3"/><use href="#c" x="398.8" y="167.5"/><use href="#c" x="802.5" y="271.8"/><use href="#c" x="368.4" y="137.5"/><use href="#c" x="188.0" y="340.0"/><use href="#c" x="243.9" y="240.2"/><use href="#c" x="301.8" y="147.5"/><use href="#c" x="709.3" y="207.3"/><use href="#c" x="487.7" y="209.3"/><use href="#c" x="805.9" y="267.3"/><use href="#c" x="278.7" y="187.4"/><use href="#c" x="408.5" y="177.5"/><use href="#c" x="438.4" y="204.4"/><use href="#c" x="416.2" y="185.9"/><use href="#c" x="815.3" y="253.7"/><use href="#c" x="461.7" y="215.8"/><use href="#c" x="560.5" y="107.3"/><use href="#c" x="149.5" y="363.7"/><use href="#c" x="195.7" y="330.4"/><use href="#c" x="118.2" y="348.2"/><use href="#c" x="288.7" y="169.2"/><use href="#c" x="376.0" y="145.0"/><use href="#c" x="374.5" y="141.7"/><use href="#c" x="301.5" y="147.4"/><use href="#c" x="445.1" y="210.0"/><use href="#c" x="614.7" y="46.8"/><use href="#c" x="902.2" y="180.4"/><use href="#c" x="727.6" y="229.9"/><use href="#c" x="949.5" y="426.2"/><use href="#c" x="103.1" y="328.5"/><use href="#c" x="852.0" y="197.2"/><use href="#c" x="120.6" y="350.3"/><use href="#c" x="299.7" y="151.2"/><use href="#c" x="419.8" y="188.9"/><use href="#c" x="136.8" y="361.2"/><use href="#c" x="192.4" y="334.8"/><use href="#c" x="333.3" y="123.8"/><use href="#c" x="545.7" y="135.7"/><use href="#c" x="121.5" y="352.0"/><use href="#c" x="542.5" y="141.0"/><use href="#c" x="214.0" y="302.7"/><use href="#c" x="372.7" y="140.2"/><use href="#c" x="231.9" y="269.2"/><use href="#c" x="553.1" y="122.8"/><use href="#c" x="664.6" y="98.8"/><use href="#c" x="111.6" y="341.1"/><use href="#c" x="273.5" y="199.4"/><use href="#c" x="778.2" y="284.0"/><use href="#c" x="454.4" y="213.1"/><use href="#c" x="165.3" y="357.3"/><use href="#c" x="133.6" y="360.8"/><use href="#c" x="351.4" y="126.8"/><use href="#c" x="314.9" y="132.4"/><use href="#c" x="203.4" y="319.6"/><use href="#c" x="853.3" y="193.8"/><use href="#c" x="245.9" y="234.9"/><use href="#c" x="474.2" y="214.8"/><use href="#c" x="445.7" y="209.3"/><use href="#c" x="659.1" y="88.3"/><use href="#c" x="260.9" y="225.4"/><use href="#c" x="433.4" y="200.2"/><use href="#c" x="109.0" y="336.7"/><use href="#c" x="144.9" y="363.2"/><use href="#c" x="375.1" y="144.0"/><use href="#c" x="351.3" y="126.4"/><use href="#c" x="145.5" y="363.1"/><use href="#c" x="408.6" y="177.2"/><use href="#c" x="401.8" y="170.3"/><use href="#c" x="362.2" y="133.1"/><use href="#c" x="339.0" y="123.4"/><use href="#c" x="466.0" y="215.7"/><use href="#c" x="830.2" y="239.7"/><use href="#c" x="349.5" y="125.5"/><use href="#c" x="169.5" y="356.0"/><use href="#c" x="949.2" y="427.0"/><use href="#c" x="174.4" y="352.5"/><use href="#c" x="829.2" y="242.3"/><use href="#c" x="481.9" y="213.1"/><use href="#c" x="135.9" y="360.8"/><use href="#c" x="910.0" y="204.1"/><use href="#c" x="486.7" y="210.3"/><use href="#c" x="929.6" y="286.6"/><use href="#c" x="134.3" y="359.7"/><use href="#c" x="105.8" y="333.3"/><use href="#c" x="167.5" y="357.2"/><use href="#c" x="562.4" y="106.2"/><use href="#c" x="567.1" y="96.3"/><use href="#c" x="188.4" y="339.5"/><use href="#c" x="424.6" y="192.8"/><use href="#c" x="434.1" y="200.9"/><use href="#c" x="107.5" y="334.8"/><use href="#c" x="257.4" y="231.5"/><use href="#c" x="373.0" y="141.2"/><use href="#c" x="928.1" y="278.6"/><use href="#c" x="184.3" y="343.8"/><use href="#c" x="313.1" y="134.0"/><use href="#c" x="323.1" y="127.3"/><use href="#c" x="197.5" y="329.1"/><use href="#c" x="158.3" y="361.5"/><use href="#c" x="452.0" y="213.0"/><use href="#c" x="188.4" y="338.8"/><use href="#c" x="108.1" y="336.6"/><use href="#c" x="579.8" y="77.4"/><use href="#c" x="142.7" y="363.5"/><use href="#c" x="891.1" y="159.0"/><use href="#c" x="586.2" y="66.7"/><use href="#c" x="275.5" y="193.9"/><use href="#c" x="867.4" y="168.0"/><use href="#c" x="354.5" y="129.1"/><use href="#c" x="839.7" y="224.1"/><use href="#c" x="918.5" y="234.3"/><use href="#c" x="367.6" y="135.7"/><use href="#c" x="180.3" y="347.9"/><use href="#c" x="578.3" y="77.8"/><use href="#c" x="871.7" y="160.9"/><use href="#c" x="637.3" y="54.6"/><use href="#c" x="211.0" y="308.2"/><use href="#c" x="631.7" y="50.7"/><use href="#c" x="463.7" y="215.2"/><use href="#c" x="184.1" y="343.6"/><use href="#c" x="911.2" y="207.7"/><use href="#c" x="486.2" y="210.1"/><use href="#c" x="115.9" y="345.4"/><use href="#c" x="356.0" y="128.4"/><use href="#c" x="600.0" y="52.6"/><use href="#c" x="341.6" y="124.0"/><use href="#c" x="332.4" y="123.7"/><use href="#c" x="323.9" y="126.9"/><use href="#c" x="661.5" y="92.8"/><use href="#c" x="340.7" y="123.9"/><use href="#c" x="325.9" y="126.4"/><use href="#c" x="199.2" y="325.2"/><use href="#c" x="129.2" y="357.2"/><use href="#c" x="184.3" y="343.9"/><use href="#c" x="318.0" y="131.2"/><use href="#c" x="927.7" y="277.3"/><use href="#c" x="581.5" y="73.3"/><use href="#c" x="246.0" y="235.4"/><use href="#c" x="358.8" y="131.5"/><use href="#c" x="484.0" y="212.0"/><use href="#c" x="804.0" y="268.3"/><use href="#c" x="612.2" y="45.3"/><use href="#c" x="135.7" y="360.5"/><use href="#c" x="814.2" y="254.3"/><use href="#c" x="835.9" y="230.5"/><use href="#c" x="391.8" y="158.8"/><use href="#c" x="113.7" y="342.5"/><use href="#c" x="171.7" y="354.5"/><use href="#c" x="129.7" y="357.4"/><use href="#c" x="692.9" y="166.9"/><use href="#c" x="449.6" y="210.9"/><use href="#c" x="236.8" y="256.2"/><use href="#c" x="357.5" y="130.6"/><use href="#c" x="603.0" y="50.6"/><use href="#c" x="941.4" y="372.1"/><use href="#c" x="148.9" y="363.8"/><use href="#c" x="386.4" y="154.5"/><use href="#c" x="301.8" y="148.4"/><use href="#c" x="261.3" y="224.1"/><use href="#c" x="258.1" y="230.1"/><use href="#c" x="242.4" y="244.9"/><use href="#c" x="312.5" y="134.4"/><use href="#c" x="145.1" y="362.4"/><use href="#c" x="419.1" y="187.9"/><use href="#c" x="235.3" y="260.1"/><use href="#c" x="780.3" y="285.1"/><use href="#c" x="751.0" y="268.5"/><use href="#c" x="282.4" y="181.2"/><use href="#c" x="385.3" y="152.8"/><use href="#c" x="516.1" y="183.4"/><use href="#c" x="662.5" y="96.1"/><use href="#c" x="617.7" y="46.6"/><use href="#c" x="705.6" y="199.5"/><use href="#c" x="258.2" y="229.4"/><use href="#c" x="494.2" y="204.9"/><use href="#c" x="180.1" y="348.3"/><use href="#c" x="353.7" y="127.0"/><use href="#c" x="387.3" y="156.3"/><use href="#c" x="429.1" y="197.9"/><use href="#c" x="506.6" y="193.9"/><use href="#c" x="474.3" y="214.5"/><use href="#c" x="209.8" y="310.3"/><use href="#c" x="546.9" y="132.7"/><use href="#c" x="630.0" y="50.8"/><use href="#c" x="134.4" y="361.2"/><use href="#c" x="818.1" y="247.9"/><use href="#c" x="547.1" y="133.7"/><use href="#c" x="179.2" y="348.5"/><use href="#c" x="563.1" y="103.7"/><use href="#c" x="269.5" y="206.9"/><use href="#c" x="602.8" y="50.3"/><use href="#c" x="159.6" y="361.3"/><use href="#c" x="193.9" y="333.7"/><use href="#c" x="298.6" y="154.1"/><use href="#c" x="131.2" y="358.0"/><use href="#c" x="156.5" y="362.8"/><use href="#c" x="504.2" y="196.7"/><use href="#c" x="607.8" y="48.1"/><use href="#c" x="835.3" y="232.4"/><use href="#c" x="117.4" y="347.0"/><use href="#c" x="184.8" y="343.7"/><use href="#c" x="348.1" y="124.5"/><use href="#c" x="551.6" y="124.4"/><use href="#c" x="175.6" y="352.9"/><use href="#c" x="900.1" y="173.6"/><use href="#c" x="475.5" y="214.5"/><use href="#c" x="112.1" y="341.5"/><use href="#c" x="251.2" y="243.9"/><use href="#c" x="779.3" y="285.2"/><use href="#c" x="451.7" y="212.5"/><use href="#c" x="705.8" y="200.8"/><use href="#c" x="189.6" y="338.5"/><use href="#c" x="920.9" y="242.0"/><use href="#c" x="308.7" y="138.8"/><use href="#c" x="264.3" y="216.5"/><use href="#c" x="257.3" y="231.9"/><use href="#c" x="376.1" y="143.8"/><use href="#c" x="183.0" y="345.0"/><use href="#c" x="870.9" y="163.1"/><use href="#c" x="621.3" y="46.7"/><use href="#c" x="758.2" y="276.2"/><use href="#c" x="902.3" y="181.1"/><use href="#c" x="594.3" y="57.7"/><use href="#c" x="473.4" y="215.2"/><use href="#c" x="121.4" y="351.0"/><use href="#c" x="319.6" y="129.7"/><use href="#c" x="260.8" y="224.7"/><use href="#c" x="680.2" y="136.1"/><use href="#c" x="265.3" y="215.0"/><use href="#c" x="144.2" y="363.4"/><use href="#c" x="120.0" y="350.0"/><use href="#c" x="883.9" y="153.5"/><use href="#c" x="132.7" y="359.9"/><use href="#c" x="589.0" y="65.1"/><use href="#c" x="374.0" y="143.3"/><use href="#c" x="185.6" y="341.4"/><use href="#c" x="732.3" y="239.5"/><use href="#c" x="196.8" y="330.3"/><use href="#c" x="814.7" y="254.5"/><use href="#c" x="238.7" y="251.7"/><use href="#c" x="715.4" y="222.1"/><use href="#c" x="382.0" y="149.1"/><use href="#c" x="364.8" y="134.1"/><use href="#c" x="355.7" y="129.2"/><use href="#c" x="900.5" y="175.8"/><use href="#c" x="139.3" y="362.2"/><use href="#c" x="133.3" y="358.2"/><use href="#c" x="423.6" y="193.1"/><use href="#c" x="276.8" y="191.0"/><use href="#c" x="717.2" y="226.1"/><use href="#c" x="681.1" y="138.7"/><use href="#c" x="180.1" y="348.3"/><use href="#c" x="779.7" y="284.5"/><use href="#c" x="236.7" y="257.7"/><use href="#c" x="464.0" y="215.6"/><use href="#c" x="440.4" y="205.7"/><use href="#c" x="124.6" y="353.8"/><use href="#c" x="927.0" y="269.1"/><use href="#c" x="532.1" y="160.0"/><use href="#c" x="775.1" y="284.5"/><use href="#c" x="150.3" y="363.9"/><use href="#c" x="220.8" y="288.7"/><use href="#c" x="490.3" y="207.8"/><use href="#c" x="514.6" y="183.9"/><use href="#c" x="409.6" y="178.8"/><use href="#c" x="187.8" y="339.8"/><use href="#c" x="157.9" y="362.1"/><use href="#c" x="563.8" y="101.9"/><use href="#c" x="686.9" y="153.7"/><use href="#c" x="102.9" y="329.1"/><use href="#c" x="893.0" y="162.1"/><use href="#c" x="593.0" y="59.4"/><use href="#c" x="306.1" y="142.3"/><use href="#c" x="302.8" y="145.9"/><use href="#c" x="548.4" y="129.6"/><use href="#c" x="255.2" y="236.2"/><use href="#c" x="222.5" y="287.4"/><use href="#c" x="851.9" y="198.0"/><use href="#c" x="767.0" y="281.6"/><use href="#c" x="238.4" y="252.6"/><use href="#c" x="523.4" y="172.1"/><use href="#c" x="283.5" y="178.9"/><use href="#c" x="159.1" y="361.3"/><use href="#c" x="102.4" y="327.8"/><use href="#c" x="513.3" y="185.8"/><use href="#c" x="647.8" y="66.8"/><use href="#c" x="107.9" y="335.5"/><use href="#c" x="157.6" y="362.3"/><use href="#c" x="495.4" y="203.6"/><use href="#c" x="233.3" y="266.4"/><use href="#c" x="560.2" y="108.9"/><use href="#c" x="204.5" y="316.8"/><use href="#c" x="625.6" y="47.9"/><use href="#c" x="755.0" y="273.4"/><use href="#c" x="402.6" y="171.6"/><use href="#c" x="198.5" y="327.3"/><use href="#c" x="229.4" y="271.9"/><use href="#c" x="110.0" y="338.1"/><use href="#c" x="250.2" y="246.7"/><use href="#c" x="162.0" y="360.6"/><use href="#c" x="278.8" y="188.1"/><use href="#c" x="651.7" y="75.2"/><use href="#c" x="668.8" y="108.6"/><use href="#c" x="285.9" y="173.2"/><use href="#c" x="624.3" y="47.5"/><use href="#c" x="533.3" y="157.3"/><use href="#c" x="825.7" y="232.9"/><use href="#c" x="121.2" y="351.6"/><use href="#c" x="712.7" y="215.6"/><use href="#c" x="296.8" y="153.8"/><use href="#c" x="624.9" y="48.3"/><use href="#c" x="207.6" y="313.2"/><use href="#c" x="279.7" y="186.3"/><use href="#c" x="323.9" y="126.0"/><use href="#c" x="134.4" y="360.2"/><use href="#c" x="816.4" y="251.2"/><use href="#c" x="113.0" y="342.1"/><use href="#c" x="158.0" y="361.1"/><use href="#c" x="885.9" y="155.7"/><use href="#c" x="326.7" y="126.1"/><use href="#c" x="184.4" y="344.5"/><use href="#c" x="938.5" y="351.6"/><use href="#c" x="783.3" y="284.7"/><use href="#c" x="407.0" y="174.9"/><use href="#c" x="157.6" y="361.7"/><use href="#c" x="941.2" y="373.7"/><use href="#c" x="708.1" y="206.4"/><use href="#c" x="490.8" y="207.5"/><use href="#c" x="839.0" y="224.3"/><use href="#c" x="154.0" y="362.3"/><use href="#c" x="690.2" y="160.5"/><use href="#c" x="189.0" y="339.3"/><use href="#c" x="268.9" y="208.9"/><use href="#c" x="765.4" y="280.9"/><use href="#c" x="102.4" y="327.9"/><use href="#c" x="833.3" y="236.8"/><use href="#c" x="685.3" y="148.6"/><use href="#c" x="812.6" y="258.5"/><use href="#c" x="748.0" y="264.5"/><use href="#c" x="425.6" y="194.2"/><use href="#c" x="126.8" y="355.2"/><use href="#c" x="648.6" y="69.6"/><use href="#c" x="775.4" y="284.2"/><use href="#c" x="190.6" y="337.1"/><use href="#c" x="242.3" y="243.4"/><use href="#c" x="738.5" y="249.9"/><use href="#c" x="249.6" y="247.9"/><use href="#c" x="757.4" y="275.1"/><use href="#c" x="450.1" y="212.5"/><use href="#c" x="378.1" y="146.2"/><use href="#c" x="177.5" y="349.7"/><use href="#c" x="798.7" y="274.7"/><use href="#c" x="264.9" y="216.0"/><use href="#c" x="286.3" y="173.8"/><use href="#c" x="295.1" y="158.6"/><use href="#c" x="411.5" y="180.0"/><use href="#c" x="273.1" y="198.9"/><use href="#c" x="166.3" y="357.6"/><use href="#c" x="899.3" y="172.1"/><use href="#c" x="234.8" y="260.8"/><use href="#c" x="931.7" y="301.0"/><use href="#c" x="947.2" y="417.1"/><use href="#c" x="407.3" y="175.0"/><use href="#c" x="525.0" y="169.5"/><use href="#c" x="681.0" y="139.6"/><use href="#c" x="282.5" y="181.6"/><use href="#c" x="824.2" y="236.8"/><use href="#c" x="605.1" y="50.1"/><use href="#c" x="171.0" y="354.8"/><use href="#c" x="254.2" y="238.9"/><use href="#c" x="160.3" y="360.3"/><use href="#c" x="874.9" y="158.4"/><use href="#c" x="556.7" y="116.2"/><use href="#c" x="190.0" y="337.8"/><use href="#c" x="914.8" y="220.4"/><use href="#c" x="109.0" y="337.2"/><use href="#c" x="897.1" y="168.9"/><use href="#c" x="153.1" y="363.2"/><use href="#c" x="164.6" y="358.8"/><use href="#c" x="142.2" y="362.8"/><use href="#c" x="223.2" y="284.1"/><use href="#c" x="289.4" y="168.1"/><use href="#c" x="226.5" y="279.2"/><use href="#c" x="887.7" y="156.8"/><use href="#c" x="577.8" y="79.6"/><use href="#c" x="886.1" y="156.1"/><use href="#c" x="781.1" y="284.7"/><use href="#c" x="462.7" y="216.1"/><use href="#c" x="197.2" y="328.2"/><use href="#c" x="453.9" y="213.9"/><use href="#c" x="369.2" y="136.9"/><use href="#c" x="254.5" y="236.5"/><use href="#c" x="711.9" y="213.5"/><use href="#c" x="729.0" y="232.3"/><use href="#c" x="143.1" y="363.1"/><use href="#c" x="871.1" y="162.7"/><use href="#c" x="229.0" y="272.7"/><use href="#c" x="590.3" y="62.1"/><use href="#c" x="621.3" y="45.8"/><use href="#c" x="836.0" y="231.5"/><use href="#c" x="492.0" y="207.4"/><use href="#c" x="333.4" y="123.6"/><use href="#c" x="431.5" y="199.2"/><use href="#c" x="169.1" y="356.0"/><use href="#c" x="283.7" y="178.3"/><use href="#c" x="113.6" y="342.4"/><use href="#c" x="262.0" y="221.1"/><use href="#c" x="663.3" y="96.6"/><use href="#c" x="382.5" y="149.5"/><use href="#c" x="212.3" y="304.2"/><use href="#c" x="208.3" y="311.2"/><use href="#c" x="744.0" y="258.5"/><use href="#c" x="943.4" y="387.7"/><use href="#c" x="248.9" y="227.1"/><use href="#c" x="939.2" y="357.3"/><use href="#c" x="263.1" y="220.9"/><use href="#c" x="850.6" y="200.6"/><use href="#c" x="255.0" y="236.9"/><use href="#c" x="286.1" y="173.4"/><use href="#c" x="332.8" y="124.3"/><use href="#c" x="326.0" y="125.2"/><use href="#c" x="415.1" y="184.3"/><use href="#c" x="489.7" y="208.9"/><use href="#c" x="353.4" y="127.6"/><use href="#c" x="435.1" y="202.2"/><use href="#c" x="546.0" y="135.8"/><use href="#c" x="133.4" y="360.1"/><use href="#c" x="298.1" y="153.8"/><use href="#c" x="257.0" y="232.6"/><use href="#c" x="357.6" y="131.1"/><use href="#c" x="453.4" y="212.8"/><use href="#c" x="810.8" y="260.5"/><use href="#c" x="161.1" y="360.0"/><use href="#c" x="165.8" y="357.3"/><use href="#c" x="495.1" y="204.6"/><use href="#c" x="184.6" y="344.1"/><use href="#c" x="323.7" y="125.8"/><use href="#c" x="364.1" y="133.9"/><use href="#c" x="393.7" y="161.7"/><use href="#c" x="805.3" y="267.5"/><use href="#c" x="633.8" y="52.6"/><use href="#c" x="474.9" y="215.2"/><use href="#c" x="306.4" y="140.6"/><use href="#c" x="513.9" y="185.6"/><use href="#c" x="226.1" y="279.5"/><use href="#c" x="853.1" y="196.2"/><use href="#c" x="207.6" y="312.7"/><use href="#c" x="804.3" y="269.7"/><use href="#c" x="140.8" y="362.2"/><use href="#c" x="551.6" y="124.9"/><use href="#c" x="411.6" y="180.5"/><use href="#c" x="698.2" y="182.2"/><use href="#c" x="831.2" y="240.3"/><use href="#c" x="143.5" y="363.9"/><use href="#c" x="875.5" y="157.8"/><use href="#c" x="361.5" y="131.9"/><use href="#c" x="315.9" y="131.3"/><use href="#c" x="521.9" y="174.4"/><use href="#c" x="284.5" y="177.0"/><use href="#c" x="107.2" y="335.6"/><use href="#c" x="282.2" y="182.1"/><use href="#c" x="426.7" y="195.9"/><use href="#c" x="284.4" y="177.0"/><use href="#c" x="302.6" y="146.9"/><use href="#c" x="856.6" y="188.4"/><use href="#c" x="235.7" y="259.4"/><use href="#c" x="364.5" y="134.5"/><use href="#c" x="703.3" y="193.3"/><use href="#c" x="237.0" y="255.2"/><use href="#c" x="102.4" y="327.8"/><use href="#c" x="525.8" y="169.5"/><use href="#c" x="156.2" y="362.2"/><use href="#c" x="242.6" y="244.2"/><use href="#c" x="203.1" y="319.1"/><use href="#c" x="579.3" y="77.1"/><use href="#c" x="949.8" y="429.5"/><use href="#c" x="547.7" y="131.7"/><use href="#c" x="282.6" y="180.3"/><use href="#c" x="354.3" y="128.0"/><use href="#c" x="945.2" y="402.4"/><use href="#c" x="563.5" y="102.6"/><use href="#c" x="441.1" y="206.3"/><use href="#c" x="277.0" y="191.7"/><use href="#c" x="207.0" y="313.6"/><use href="#c" x="510.4" y="189.2"/><use href="#c" x="500.9" y="199.7"/><use href="#c" x="106.5" y="334.8"/><use href="#c" x="821.9" y="242.3"/><use href="#c" x="287.1" y="171.9"/><use href="#c" x="341.8" y="125.2"/><use href="#c" x="269.3" y="207.0"/><use href="#c" x="140.4" y="362.0"/><use href="#c" x="908.9" y="199.8"/><use href="#c" x="171.0" y="355.0"/><use href="#c" x="539.2" y="146.1"/><use href="#c" x="277.3" y="191.4"/><use href="#c" x="397.3" y="166.1"/><use href="#c" x="104.4" y="330.3"/><use href="#c" x="244.2" y="239.2"/><use href="#c" x="573.9" y="85.1"/><use href="#c" x="575.3" y="83.3"/><use href="#c" x="448.7" y="211.1"/><use href="#c" x="139.7" y="362.3"/><use href="#c" x="595.9" y="57.2"/><use href="#c" x="675.1" y="124.7"/><use href="#c" x="690.0" y="159.9"/><use href="#c" x="728.2" y="230.5"/><use href="#c" x="565.9" y="99.0"/><use href="#c" x="103.4" y="328.4"/><use href="#c" x="575.5" y="83.2"/><use href="#c" x="204.6" y="318.0"/><use href="#c" x="144.9" y="364.2"/><use href="#c" x="109.6" y="337.2"/><use href="#c" x="318.5" y="130.4"/><use href="#c" x="940.9" y="369.9"/><use href="#c" x="264.9" y="216.1"/><use href="#c" x="476.6" y="213.8"/><use href="#c" x="110.1" y="338.8"/><use href="#c" x="651.0" y="74.2"/><use href="#c" x="371.0" y="140.0"/><use href="#c" x="215.1" y="300.0"/><use href="#c" x="437.6" y="204.3"/><use href="#c" x="798.4" y="275.2"/><use href="#c" x="197.6" y="329.0"/><use href="#c" x="907.8" y="195.7"/><use href="#c" x="117.7" y="348.0"/><use href="#c" x="458.5" y="214.5"/><use href="#c" x="611.0" y="46.6"/><use href="#c" x="533.6" y="156.0"/><use href="#c" x="382.2" y="150.6"/><use href="#c" x="128.3" y="356.4"/><use href="#c" x="235.9" y="258.4"/><use href="#c" x="435.9" y="203.5"/><use href="#c" x="622.2" y="45.7"/><use href="#c" x="245.5" y="235.1"/><use href="#c" x="491.7" y="207.0"/><use href="#c" x="878.0" y="155.9"/><use href="#c" x="167.4" y="356.9"/><use href="#c" x="212.4" y="305.1"/><use href="#c" x="685.7" y="150.6"/><use href="#c" x="650.7" y="72.5"/><use href="#c" x="516.5" y="182.5"/><use href="#c" x="166.6" y="357.3"/><use href="#c" x="102.4" y="328.5"/><use href="#c" x="710.1" y="209.7"/><use href="#c" x="330.0" y="124.7"/><use href="#c" x="868.5" y="166.7"/><use href="#c" x="726.5" y="227.4"/><use href="#c" x="938.2" y="344.8"/><use href="#c" x="708.5" y="205.9"/><use href="#c" x="167.7" y="356.5"/><use href="#c" x="892.0" y="160.9"/><use href="#c" x="175.7" y="352.1"/><use href="#c" x="654.3" y="79.5"/><use href="#c" x="597.2" y="54.5"/><use href="#c" x="474.5" y="214.7"/><use href="#c" x="800.5" y="272.8"/><use href="#c" x="636.7" y="54.2"/><use href="#c" x="718.2" y="227.9"/><use href="#c" x="194.9" y="330.9"/><use href="#c" x="776.9" y="283.8"/><use href="#c" x="332.7" y="123.6"/><use href="#c" x="277.8" y="190.3"/><use href="#c" x="368.7" y="138.4"/><use href="#c" x="162.2" y="359.8"/><use href="#c" x="928.4" y="280.1"/><use href="#c" x="535.9" y="152.3"/><use href="#c" x="134.2" y="360.3"/><use href="#c" x="362.7" y="133.8"/><use href="#c" x="598.0" y="55.7"/><use href="#c" x="557.1" y="115.1"/><use href="#c" x="370.1" y="137.7"/><use href="#c" x="112.6" y="341.2"/><use href="#c" x="501.3" y="199.2"/><use href="#c" x="301.3" y="149.1"/><use href="#c" x="777.4" y="284.2"/><use href="#c" x="304.6" y="143.2"/><use href="#c" x="230.3" y="270.7"/><use href="#c" x="147.9" y="363.0"/><use href="#c" x="618.3" y="46.4"/><use href="#c" x="464.3" y="215.3"/><use href="#c" x="110.1" y="337.9"/><use href="#c" x="839.4" y="224.4"/><use href="#c" x="439.6" y="206.4"/><use href="#c" x="122.1" y="351.6"/><use href="#c" x="727.3" y="228.8"/><use href="#c" x="109.4" y="337.6"/><use href="#c" x="432.4" y="200.2"/><use href="#c" x="281.4" y="182.0"/><use href="#c" x="851.3" y="199.6"/><use href="#c" x="102.4" y="327.8"/><use href="#c" x="518.7" y="179.5"/><use href="#c" x="395.7" y="163.2"/><use href="#c" x="587.7" y="64.7"/><use href="#c" x="258.8" y="230.3"/><use href="#c" x="899.7" y="173.5"/><use href="#c" x="228.5" y="272.7"/><use href="#c" x="303.6" y="146.2"/><use href="#c" x="510.0" y="189.8"/><use href="#c" x="507.4" y="193.1"/><use href="#c" x="664.5" y="99.0"/><use href="#c" x="248.7" y="228.0"/><use href="#c" x="743.6" y="259.2"/><use href="#c" x="353.5" y="128.6"/><use href="#c" x="124.9" y="353.4"/><use href="#c" x="854.2" y="192.8"/><use href="#c" x="897.8" y="169.4"/><use href="#c" x="657.0" y="84.7"/><use href="#c" x="479.7" y="213.7"/><use href="#c" x="209.0" y="311.5"/><use href="#c" x="870.0" y="162.5"/><use href="#c" x="217.4" y="295.2"/><use href="#c" x="209.1" y="309.1"/><use href="#c" x="168.5" y="355.8"/><use href="#c" x="898.3" y="169.8"/><use href="#c" x="292.8" y="161.5"/><use href="#c" x="524.4" y="171.1"/><use href="#c" x="776.5" y="284.2"/><use href="#c" x="496.3" y="202.7"/><use href="#c" x="206.9" y="313.8"/><use href="#c" x="218.4" y="293.9"/><use href="#c" x="252.6" y="242.3"/><use href="#c" x="666.0" y="103.2"/><use href="#c" x="458.4" y="215.2"/><use href="#c" x="678.4" y="131.4"/><use href="#c" x="233.7" y="264.5"/><use href="#c" x="272.6" y="199.8"/><use href="#c" x="492.9" y="205.7"/><use href="#c" x="756.3" y="275.2"/><use href="#c" x="347.5" y="125.4"/><use href="#c" x="119.3" y="348.8"/><use href="#c" x="339.3" y="123.9"/><use href="#c" x="570.6" y="91.4"/><use href="#c" x="824.6" y="237.0"/><use href="#c" x="777.6" y="284.3"/><use href="#c" x="121.7" y="350.0"/><use href="#c" x="219.6" y="291.4"/><use href="#c" x="386.9" y="153.6"/><use href="#c" x="355.8" y="129.0"/><use href="#c" x="668.2" y="108.6"/><use href="#c" x="102.4" y="327.5"/><use href="#c" x="411.9" y="181.1"/><use href="#c" x="714.1" y="218.7"/><use href="#c" x="235.4" y="260.3"/><use href="#c" x="810.4" y="260.4"/><use href="#c" x="289.1" y="167.9"/><use href="#c" x="174.0" y="352.3"/><use href="#c" x="758.9" y="276.4"/><use href="#c" x="161.1" y="360.5"/><use href="#c" x="715.7" y="223.5"/><use href="#c" x="190.7" y="337.4"/><use href="#c" x="645.1" y="64.1"/><use href="#c" x="518.0" y="179.2"/><use href="#c" x="700.0" y="186.0"/><use href="#c" x="438.9" y="204.6"/><use href="#c" x="518.3" y="180.0"/><use href="#c" x="481.4" y="212.4"/><use href="#c" x="802.2" y="272.1"/><use href="#c" x="308.6" y="138.0"/><use href="#c" x="857.8" y="185.6"/><use href="#c" x="623.0" y="45.8"/><use href="#c" x="103.7" y="328.9"/><use href="#c" x="681.8" y="140.2"/><use href="#c" x="144.2" y="364.1"/><use href="#c" x="653.9" y="78.4"/><use href="#c" x="422.1" y="191.5"/><use href="#c" x="606.8" y="48.9"/><use href="#c" x="812.1" y="258.5"/><use href="#c" x="279.0" y="186.7"/><use href="#c" x="413.4" y="182.7"/><use href="#c" x="751.3" y="268.6"/><use href="#c" x="418.3" y="186.2"/><use href="#c" x="652.0" y="75.3"/><use href="#c" x="923.3" y="251.2"/><use href="#c" x="687.8" y="155.4"/><use href="#c" x="198.0" y="327.9"/><use href="#c" x="911.8" y="208.7"/><use href="#c" x="195.8" y="330.0"/><use href="#c" x="418.7" y="186.2"/><use href="#c" x="485.8" y="211.5"/><use href="#c" x="266.4" y="212.6"/><use href="#c" x="334.2" y="123.1"/><use href="#c" x="130.3" y="357.7"/><use href="#c" x="224.4" y="283.8"/><use href="#c" x="769.8" y="283.2"/><use href="#c" x="379.1" y="146.5"/><use href="#c" x="307.1" y="140.3"/><use href="#c" x="437.5" y="205.4"/><use href="#c" x="248.2" y="228.5"/><use href="#c" x="800.4" y="272.4"/><use href="#c" x="444.1" y="209.1"/><use href="#c" x="507.0" y="193.3"/><use href="#c" x="379.7" y="146.9"/><use href="#c" x="417.9" y="186.4"/><use href="#c" x="832.1" y="238.4"/><use href="#c" x="168.8" y="356.6"/><use href="#c" x="224.7" y="282.0"/><use href="#c" x="298.7" y="152.4"/><use href="#c" x="589.9" y="63.0"/><use href="#c" x="445.9" y="209.3"/><use href="#c" x="176.7" y="351.8"/><use href="#c" x="292.1" y="162.7"/><use href="#c" x="376.4" y="145.1"/><use href="#c" x="915.6" y="223.9"/><use href="#c" x="170.9" y="355.6"/><use href="#c" x="274.6" y="196.5"/><use href="#c" x="209.9" y="309.6"/><use href="#c" x="229.7" y="273.6"/><use href="#c" x="536.3" y="151.7"/><use href="#c" x="152.1" y="363.0"/><use href="#c" x="882.8" y="155.8"/><use href="#c" x="452.3" y="211.7"/><use href="#c" x="192.6" y="334.0"/><use href="#c" x="245.0" y="236.3"/><use href="#c" x="189.1" y="337.4"/><use href="#c" x="195.3" y="331.5"/><use href="#c" x="922.8" y="250.5"/><use href="#c" x="390.8" y="159.4"/><use href="#c" x="301.1" y="148.3"/><use href="#c" x="313.4" y="133.8"/><use href="#c" x="459.4" y="215.3"/><use href="#c" x="335.3" y="122.5"/><use href="#c" x="863.5" y="173.8"/><use href="#c" x="373.6" y="142.7"/><use href="#c" x="697.7" y="180.5"/><use href="#c" x="613.9" y="46.3"/><use href="#c" x="871.9" y="160.8"/><use href="#c" x="454.0" y="213.0"/><use href="#c" x="122.8" y="350.9"/><use href="#c" x="240.3" y="248.5"/><use href="#c" x="747.1" y="263.4"/><use href="#c" x="944.8" y="399.2"/><use href="#c" x="129.8" y="357.7"/><use href="#c" x="440.8" y="206.2"/><use href="#c" x="244.6" y="238.2"/><use href="#c" x="306.2" y="142.5"/><use href="#c" x="221.0" y="289.2"/><use href="#c" x="539.9" y="146.0"/><use href="#c" x="125.0" y="354.1"/><use href="#c" x="600.9" y="53.2"/><use href="#c" x="145.3" y="362.1"/><use href="#c" x="115.1" y="343.9"/><use href="#c" x="346.0" y="124.8"/><use href="#c" x="155.1" y="361.6"/><use href="#c" x="524.4" y="170.4"/><use href="#c" x="380.6" y="148.7"/><use href="#c" x="156.5" y="362.6"/><use href="#c" x="102.4" y="327.3"/><use href="#c" x="102.4" y="328.1"/><use href="#c" x="428.1" y="196.3"/><use href="#c" x="215.5" y="299.2"/><use href="#c" x="117.5" y="347.8"/><use href="#c" x="325.4" y="126.4"/><use href="#c" x="355.1" y="128.0"/><use href="#c" x="273.4" y="200.0"/><use href="#c" x="102.4" y="327.6"/><use href="#c" x="505.1" y="194.8"/><use href="#c" x="377.1" y="143.1"/><use href="#c" x="344.0" y="124.6"/><use href="#c" x="102.4" y="328.3"/><use href="#c" x="378.8" y="145.7"/><use href="#c" x="338.0" y="123.5"/><use href="#c" x="581.1" y="75.0"/><use href="#c" x="354.0" y="128.8"/><use href="#c" x="494.3" y="205.5"/><use href="#c" x="827.4" y="230.3"/><use href="#c" x="228.2" y="275.4"/><use href="#c" x="222.2" y="287.3"/><use href="#c" x="294.7" y="158.5"/><use href="#c" x="123.0" y="352.3"/><use href="#c" x="858.7" y="183.3"/><use href="#c" x="196.5" y="329.1"/><use href="#c" x="237.7" y="254.6"/><use href="#c" x="561.5" y="106.6"/><use href="#c" x="524.8" y="171.1"/><use href="#c" x="434.8" y="201.8"/><use href="#c" x="143.4" y="363.5"/><use href="#c" x="165.7" y="358.6"/><use href="#c" x="847.3" y="207.5"/><use href="#c" x="261.7" y="222.9"/><use href="#c" x="632.8" y="51.9"/><use href="#c" x="446.2" y="210.6"/><use href="#c" x="102.4" y="328.2"/><use href="#c" x="441.6" y="206.7"/><use href="#c" x="464.6" y="215.6"/><use href="#c" x="299.9" y="152.0"/><use href="#c" x="102.4" y="328.0"/><use href="#c" x="246.5" y="233.5"/><use href="#c" x="180.3" y="347.7"/><use href="#c" x="421.9" y="191.2"/><use href="#c" x="159.3" y="361.2"/><use href="#c" x="528.4" y="164.5"/><use href="#c" x="361.8" y="131.5"/><use href="#c" x="392.2" y="159.7"/><use href="#c" x="627.7" y="48.4"/><use href="#c" x="907.3" y="194.0"/><use href="#c" x="241.7" y="245.3"/><use href="#c" x="270.0" y="206.2"/><use href="#c" x="234.0" y="263.3"/><use href="#c" x="241.3" y="246.6"/><use href="#c" x="790.2" y="280.3"/><use href="#c" x="375.2" y="144.5"/><use href="#c" x="126.9" y="354.7"/><use href="#c" x="461.5" y="216.3"/><use href="#c" x="590.8" y="61.7"/><use href="#c" x="138.1" y="362.1"/><use href="#c" x="178.5" y="349.1"/><use href="#c" x="131.1" y="359.5"/><use href="#c" x="142.1" y="363.5"/><use href="#c" x="230.6" y="271.3"/><use href="#c" x="452.5" y="212.9"/><use href="#c" x="324.8" y="126.8"/><use href="#c" x="246.9" y="232.9"/><use href="#c" x="328.5" y="124.8"/><use href="#c" x="187.1" y="341.1"/><use href="#c" x="694.4" y="170.8"/><use href="#c" x="361.9" y="132.7"/><use href="#c" x="182.9" y="344.5"/><use href="#c" x="526.4" y="169.1"/><use href="#c" x="718.8" y="229.6"/><use href="#c" x="208.9" y="310.7"/><use href="#c" x="223.4" y="285.4"/><use href="#c" x="638.9" y="57.2"/><use href="#c" x="135.4" y="360.1"/><use href="#c" x="298.8" y="153.2"/><use href="#c" x="384.4" y="152.4"/><use href="#c" x="217.2" y="295.2"/><use href="#c" x="389.2" y="155.7"/><use href="#c" x="168.7" y="356.2"/><use href="#c" x="291.8" y="164.6"/><use href="#c" x="113.2" y="342.6"/><use href="#c" x="243.7" y="241.3"/><use href="#c" x="911.8" y="208.5"/><use href="#c" x="436.2" y="202.0"/><use href="#c" x="532.0" y="159.8"/><use href="#c" x="177.7" y="351.0"/><use href="#c" x="792.1" y="279.6"/><use href="#c" x="308.0" y="138.6"/><use href="#c" x="615.1" y="46.1"/><use href="#c" x="193.1" y="334.1"/><use href="#c" x="317.9" y="130.9"/><use href="#c" x="435.3" y="202.7"/><use href="#c" x="148.2" y="364.2"/><use href="#c" x="719.5" y="231.3"/><use href="#c" x="234.3" y="261.2"/><use href="#c" x="358.4" y="130.4"/><use href="#c" x="260.0" y="226.6"/><use href="#c" x="160.6" y="361.1"/><use href="#c" x="325.1" y="126.5"/><use href="#c" x="758.5" y="276.6"/><use href="#c" x="873.1" y="158.8"/><use href="#c" x="423.2" y="192.6"/><use href="#c" x="217.8" y="294.9"/><use href="#c" x="866.1" y="170.3"/><use href="#c" x="264.8" y="216.1"/><use href="#c" x="535.0" y="154.4"/><use href="#c" x="199.9" y="325.3"/><use href="#c" x="296.3" y="157.1"/><use href="#c" x="265.8" y="213.1"/><use href="#c" x="660.2" y="91.8"/><use href="#c" x="138.4" y="361.3"/><use href="#c" x="799.1" y="272.7"/><use href="#c" x="212.0" y="305.3"/><use href="#c" x="111.8" y="340.1"/><use href="#c" x="894.3" y="163.6"/><use href="#c" x="379.6" y="146.9"/><use href="#c" x="204.7" y="318.1"/><use href="#c" x="288.4" y="169.7"/><use href="#c" x="903.2" y="182.2"/><use href="#c" x="874.8" y="159.0"/><use href="#c" x="813.7" y="256.6"/><use href="#c" x="859.4" y="181.7"/><use href="#c" x="704.2" y="195.4"/><use href="#c" x="460.0" y="215.6"/><use href="#c" x="543.5" y="139.7"/><use href="#c" x="312.3" y="135.3"/><use href="#c" x="172.1" y="354.4"/><use href="#c" x="415.9" y="185.4"/><use href="#c" x="178.1" y="351.1"/><use href="#c" x="836.4" y="229.9"/><use href="#c" x="564.3" y="101.5"/><use href="#c" x="808.1" y="265.7"/><use href="#c" x="499.8" y="201.4"/><use href="#c" x="191.8" y="335.2"/><use href="#c" x="183.6" y="344.9"/><use href="#c" x="439.0" y="204.9"/><use href="#c" x="572.5" y="87.2"/><use href="#c" x="193.6" y="333.3"/><use href="#c" x="324.2" y="126.8"/><use href="#c" x="347.8" y="125.0"/><use href="#c" x="512.7" y="186.8"/><use href="#c" x="116.9" y="346.4"/><use href="#c" x="233.5" y="265.6"/><use href="#c" x="632.4" y="50.8"/><use href="#c" x="345.4" y="125.8"/><use href="#c" x="748.5" y="265.7"/><use href="#c" x="580.4" y="75.0"/><use href="#c" x="171.9" y="354.6"/><use href="#c" x="447.8" y="210.7"/><use href="#c" x="445.3" y="208.6"/><use href="#c" x="458.9" y="215.4"/><use href="#c" x="172.6" y="353.4"/><use href="#c" x="498.5" y="200.9"/><use href="#c" x="787.4" y="282.7"/><use href="#c" x="722.0" y="235.8"/><use href="#c" x="454.5" y="213.2"/><use href="#c" x="530.7" y="161.4"/><use href="#c" x="916.1" y="224.8"/><use href="#c" x="772.8" y="284.9"/><use href="#c" x="806.3" y="266.9"/><use href="#c" x="219.4" y="291.5"/><use href="#c" x="526.7" y="168.5"/><use href="#c" x="194.3" y="332.6"/><use href="#c" x="388.8" y="156.3"/><use href="#c" x="377.5" y="145.4"/><use href="#c" x="321.3" y="127.2"/><use href="#c" x="426.9" y="194.8"/><use href="#c" x="131.7" y="358.5"/><use href="#c" x="102.4" y="327.4"/><use href="#c" x="726.8" y="228.0"/><use href="#c" x="698.7" y="182.5"/><use href="#c" x="253.6" y="239.7"/><use href="#c" x="642.8" y="60.9"/><use href="#c" x="416.7" y="185.7"/><use href="#c" x="492.3" y="206.9"/><use href="#c" x="375.7" y="143.8"/><use href="#c" x="724.1" y="241.5"/><use href="#c" x="165.3" y="358.6"/><use href="#c" x="947.8" y="417.4"/><use href="#c" x="303.9" y="144.8"/><use href="#c" x="521.0" y="175.6"/><use href="#c" x="204.3" y="317.8"/><use href="#c" x="259.9" y="226.9"/><use href="#c" x="213.2" y="303.8"/><use href="#c" x="134.2" y="359.8"/><use href="#c" x="266.2" y="213.5"/><use href="#c" x="228.6" y="274.4"/><use href="#c" x="655.8" y="81.6"/><use href="#c" x="126.6" y="355.0"/><use href="#c" x="166.7" y="358.2"/><use href="#c" x="150.7" y="363.1"/><use href="#c" x="102.4" y="327.7"/><use href="#c" x="324.6" y="126.7"/><use href="#c" x="162.5" y="360.3"/><use href="#c" x="763.1" y="279.1"/><use href="#c" x="334.8" y="122.6"/><use href="#c" x="183.4" y="345.3"/><use href="#c" x="160.0" y="361.1"/><use href="#c" x="528.9" y="162.7"/><use href="#c" x="357.2" y="129.3"/><use href="#c" x="562.9" y="105.3"/><use href="#c" x="556.6" y="115.3"/><use href="#c" x="503.7" y="195.7"/><use href="#c" x="116.6" y="346.3"/><use href="#c" x="153.3" y="362.4"/><use href="#c" x="333.0" y="124.3"/><use href="#c" x="856.0" y="189.6"/><use href="#c" x="306.0" y="143.3"/><use href="#c" x="630.1" y="50.1"/><use href="#c" x="261.6" y="222.2"/><use href="#c" x="780.0" y="284.4"/><use href="#c" x="405.7" y="175.3"/><use href="#c" x="767.4" y="282.1"/><use href="#c" x="803.9" y="269.6"/><use href="#c" x="258.4" y="228.2"/><use href="#c" x="514.7" y="183.7"/><use href="#c" x="218.0" y="295.7"/><use href="#c" x="179.4" y="347.6"/><use href="#c" x="611.2" y="46.7"/><use href="#c" x="700.2" y="186.2"/><use href="#c" x="817.1" y="250.8"/><use href="#c" x="855.1" y="190.7"/><use href="#c" x="440.0" y="205.8"/><use href="#c" x="936.5" y="336.8"/><use href="#c" x="500.3" y="199.3"/><use href="#c" x="623.2" y="46.7"/><use href="#c" x="646.5" y="67.5"/><use href="#c" x="490.1" y="209.5"/><use href="#c" x="527.2" y="166.0"/><use href="#c" x="948.3" y="421.0"/><use href="#c" x="102.4" y="328.5"/><use href="#c" x="853.7" y="193.7"/><use href="#c" x="733.3" y="240.9"/><use href="#c" x="885.4" y="155.2"/><use href="#c" x="550.9" y="125.7"/><use href="#c" x="872.3" y="161.6"/><use href="#c" x="225.7" y="280.5"/><use href="#c" x="543.4" y="139.2"/><use href="#c" x="202.5" y="320.5"/><use href="#c" x="283.1" y="178.4"/><use href="#c" x="569.6" y="92.1"/><use href="#c" x="686.4" y="153.1"/><use href="#c" x="146.3" y="363.8"/><use href="#c" x="103.2" y="328.8"/><use href="#c" x="182.5" y="345.4"/><use href="#c" x="225.7" y="280.6"/><use href="#c" x="566.6" y="97.7"/><use href="#c" x="933.3" y="316.8"/><use href="#c" x="400.8" y="169.7"/><use href="#c" x="115.9" y="346.7"/><use href="#c" x="195.5" y="331.3"/><use href="#c" x="713.2" y="217.2"/><use href="#c" x="666.6" y="103.5"/><use href="#c" x="585.0" y="68.4"/><use href="#c" x="392.0" y="159.2"/><use href="#c" x="202.8" y="321.0"/><use href="#c" x="648.0" y="68.2"/><use href="#c" x="102.4" y="328.3"/><use href="#c" x="274.8" y="194.2"/><use href="#c" x="137.8" y="362.1"/><use href="#c" x="556.2" y="116.6"/><use href="#c" x="118.6" y="348.1"/><use href="#c" x="205.9" y="315.0"/><use href="#c" x="914.5" y="219.8"/><use href="#c" x="189.4" y="338.3"/><use href="#c" x="882.5" y="155.0"/><use href="#c" x="241.1" y="247.4"/><use href="#c" x="102.4" y="328.1"/><use href="#c" x="102.4" y="328.5"/><use href="#c" x="106.0" y="332.7"/><use href="#c" x="112.3" y="340.6"/><use href="#c" x="314.0" y="133.2"/><use href="#c" x="200.7" y="322.9"/><use href="#c" x="507.3" y="194.6"/><use href="#c" x="112.1" y="340.2"/><use href="#c" x="272.2" y="201.2"/><use href="#c" x="111.3" y="340.5"/><use href="#c" x="655.1" y="80.2"/><use href="#c" x="257.2" y="231.4"/><use href="#c" x="137.2" y="361.7"/><use href="#c" x="552.2" y="123.4"/><use href="#c" x="285.1" y="175.9"/><use href="#c" x="782.7" y="284.2"/><use href="#c" x="763.6" y="279.9"/><use href="#c" x="780.7" y="284.3"/><use href="#c" x="843.2" y="216.7"/><use href="#c" x="833.7" y="235.5"/><use href="#c" x="153.5" y="363.4"/><use href="#c" x="374.1" y="142.2"/><use href="#c" x="196.4" y="329.8"/><use href="#c" x="359.0" y="130.6"/><use href="#c" x="295.8" y="157.4"/><use href="#c" x="290.5" y="165.2"/><use href="#c" x="205.1" y="317.2"/><use href="#c" x="939.8" y="360.7"/><use href="#c" x="770.7" y="283.1"/><use href="#c" x="295.5" y="157.8"/><use href="#c" x="313.8" y="133.1"/><use href="#c" x="219.1" y="292.8"/><use href="#c" x="179.0" y="348.6"/><use href="#c" x="185.4" y="343.0"/><use href="#c" x="174.7" y="351.4"/><use href="#c" x="345.3" y="125.1"/><use href="#c" x="141.6" y="362.1"/><use href="#c" x="696.9" y="178.0"/><use href="#c" x="442.2" y="207.0"/><use href="#c" x="172.0" y="353.7"/><use href="#c" x="626.4" y="47.0"/><use href="#c" x="808.4" y="263.5"/><use href="#c" x="944.0" y="390.9"/><use href="#c" x="164.1" y="359.7"/><use href="#c" x="293.0" y="161.1"/><use href="#c" x="446.1" y="209.1"/><use href="#c" x="118.5" y="349.0"/><use href="#c" x="663.4" y="97.4"/><use href="#c" x="916.5" y="226.4"/><use href="#c" x="582.2" y="72.3"/><use href="#c" x="754.1" y="271.9"/><use href="#c" x="360.0" y="130.4"/><use href="#c" x="388.0" y="155.1"/><use href="#c" x="274.5" y="196.2"/><use href="#c" x="210.4" y="308.7"/><use href="#c" x="128.4" y="357.0"/><use href="#c" x="156.9" y="362.4"/><use href="#c" x="182.1" y="346.4"/><use href="#c" x="532.8" y="158.1"/><use href="#c" x="791.4" y="280.8"/><use href="#c" x="265.5" y="216.6"/><use href="#c" x="693.6" y="169.5"/><use href="#c" x="410.0" y="178.8"/><use href="#c" x="822.1" y="240.5"/><use href="#c" x="319.8" y="129.1"/><use href="#c" x="283.3" y="178.3"/><use href="#c" x="206.7" y="314.0"/><use href="#c" x="710.4" y="209.5"/><use href="#c" x="158.7" y="360.8"/><use href="#c" x="277.0" y="190.7"/><use href="#c" x="381.5" y="149.5"/><use href="#c" x="408.3" y="177.5"/><use href="#c" x="820.1" y="245.3"/><use href="#c" x="154.3" y="363.5"/><use href="#c" x="173.7" y="352.9"/><use href="#c" x="566.8" y="95.7"/><use href="#c" x="755.7" y="273.1"/><use href="#c" x="668.0" y="107.5"/><use href="#c" x="304.3" y="144.9"/><use href="#c" x="297.2" y="154.3"/><use href="#c" x="152.1" y="363.1"/><use href="#c" x="137.0" y="361.8"/><use href="#c" x="426.0" y="194.9"/><use href="#c" x="197.9" y="328.1"/><use href="#c" x="141.9" y="363.3"/><use href="#c" x="707.6" y="204.0"/><use href="#c" x="229.6" y="272.2"/><use href="#c" x="540.5" y="144.6"/><use href="#c" x="159.0" y="361.4"/><use href="#c" x="732.3" y="238.5"/><use href="#c" x="316.3" y="131.7"/><use href="#c" x="371.7" y="140.1"/><use href="#c" x="571.7" y="88.7"/><use href="#c" x="407.7" y="176.3"/><use href="#c" x="561.9" y="105.6"/><use href="#c" x="948.2" y="421.3"/><use href="#c" x="130.2" y="357.7"/><use href="#c" x="168.4" y="357.9"/><use href="#c" x="406.4" y="174.7"/><use href="#c" x="409.4" y="179.4"/><use href="#c" x="365.5" y="134.4"/><use href="#c" x="547.5" y="131.7"/><use href="#c" x="287.0" y="172.7"/><use href="#c" x="831.4" y="240.2"/><use href="#c" x="252.8" y="239.9"/><use href="#c" x="475.7" y="215.9"/><use href="#c" x="413.9" y="182.7"/><use href="#c" x="430.5" y="199.2"/><use href="#c" x="529.4" y="163.2"/><use href="#c" x="738.2" y="249.0"/><use href="#c" x="937.7" y="344.9"/><use href="#c" x="646.1" y="63.6"/><use href="#c" x="143.7" y="362.1"/><use href="#c" x="761.7" y="279.1"/><use href="#c" x="204.8" y="318.0"/><use href="#c" x="218.3" y="293.0"/><use href="#c" x="132.9" y="358.5"/><use href="#c" x="639.2" y="57.1"/><use href="#c" x="217.0" y="296.7"/><use href="#c" x="292.9" y="162.4"/><use href="#c" x="470.4" y="215.5"/><use href="#c" x="569.8" y="92.8"/><use href="#c" x="709.5" y="207.9"/><use href="#c" x="390.7" y="157.5"/><use href="#c" x="158.4" y="360.5"/><use href="#c" x="133.7" y="359.8"/><use href="#c" x="452.7" y="211.6"/><use href="#c" x="220.9" y="289.0"/><use href="#c" x="394.4" y="162.6"/><use href="#c" x="228.0" y="275.1"/><use href="#c" x="760.4" y="278.2"/><use href="#c" x="692.0" y="166.5"/><use href="#c" x="337.6" y="122.7"/><use href="#c" x="140.8" y="362.2"/><use href="#c" x="340.2" y="123.8"/><use href="#c" x="514.3" y="184.7"/><use href="#c" x="377.8" y="146.2"/><use href="#c" x="670.4" y="112.4"/><use href="#c" x="592.2" y="59.5"/><use href="#c" x="900.9" y="175.7"/><use href="#c" x="221.7" y="287.4"/><use href="#c" x="414.3" y="183.2"/><use href="#c" x="384.7" y="152.7"/><use href="#c" x="183.1" y="344.1"/><use href="#c" x="724.9" y="242.7"/><use href="#c" x="156.7" y="362.2"/><use href="#c" x="117.0" y="346.9"/><use href="#c" x="546.5" y="134.1"/><use href="#c" x="697.9" y="179.2"/><use href="#c" x="317.6" y="131.0"/><use href="#c" x="238.3" y="253.7"/><use href="#c" x="243.3" y="242.1"/><use href="#c" x="634.3" y="53.5"/><use href="#c" x="286.6" y="173.4"/><use href="#c" x="205.7" y="316.1"/><use href="#c" x="754.3" y="272.0"/><use href="#c" x="207.8" y="311.5"/><use href="#c" x="385.1" y="153.2"/><use href="#c" x="468.1" y="215.9"/><use href="#c" x="588.3" y="64.7"/><use href="#c" x="107.7" y="336.2"/><use href="#c" x="480.6" y="214.0"/><use href="#c" x="765.6" y="281.4"/><use href="#c" x="937.7" y="348.1"/><use href="#c" x="206.4" y="314.0"/><use href="#c" x="223.1" y="284.9"/><use href="#c" x="119.8" y="349.0"/><use href="#c" x="632.3" y="51.9"/><use href="#c" x="602.2" y="52.2"/><use href="#c" x="253.1" y="242.3"/><use href="#c" x="232.5" y="265.4"/><use href="#c" x="522.6" y="173.4"/><use href="#c" x="935.2" y="326.4"/><use href="#c" x="393.0" y="161.4"/><use href="#c" x="142.4" y="362.9"/><use href="#c" x="817.5" y="249.2"/><use href="#c" x="224.4" y="282.3"/><use href="#c" x="430.0" y="197.7"/><use href="#c" x="336.0" y="123.4"/><use href="#c" x="427.7" y="195.8"/><use href="#c" x="422.5" y="191.2"/><use href="#c" x="439.3" y="204.8"/><use href="#c" x="411.2" y="179.9"/><use href="#c" x="188.3" y="339.7"/><use href="#c" x="934.1" y="319.0"/><use href="#c" x="170.5" y="355.5"/><use href="#c" x="206.2" y="315.7"/><use href="#c" x="221.4" y="288.5"/><use href="#c" x="442.4" y="207.9"/><use href="#c" x="171.9" y="353.5"/><use href="#c" x="105.1" y="331.6"/><use href="#c" x="225.8" y="280.6"/><use href="#c" x="219.1" y="293.5"/><use href="#c" x="362.6" y="134.3"/><use href="#c" x="187.7" y="340.1"/><use href="#c" x="658.8" y="87.2"/><use href="#c" x="166.8" y="358.2"/><use href="#c" x="457.1" y="215.4"/><use href="#c" x="543.2" y="139.3"/><use href="#c" x="111.2" y="339.8"/><use href="#c" x="102.4" y="327.8"/><use href="#c" x="121.0" y="350.8"/><use href="#c" x="463.5" y="215.9"/><use href="#c" x="154.2" y="362.3"/><use href="#c" x="207.1" y="312.7"/><use href="#c" x="224.6" y="281.9"/><use href="#c" x="191.0" y="337.1"/><use href="#c" x="249.4" y="247.3"/><use href="#c" x="843.0" y="217.3"/><use href="#c" x="153.0" y="363.4"/><use href="#c" x="858.0" y="185.2"/><use href="#c" x="470.5" y="216.6"/><use href="#c" x="778.9" y="284.6"/><use href="#c" x="222.1" y="287.8"/><use href="#c" x="622.8" y="46.0"/><use href="#c" x="150.8" y="362.6"/><use href="#c" x="286.0" y="175.6"/><use href="#c" x="562.7" y="104.1"/><use href="#c" x="102.4" y="328.3"/><use href="#c" x="655.8" y="81.4"/><use href="#c" x="318.2" y="129.6"/><use href="#c" x="854.4" y="192.5"/><use href="#c" x="135.6" y="361.1"/><use href="#c" x="888.7" y="157.2"/><use href="#c" x="190.1" y="337.1"/><use href="#c" x="128.6" y="357.4"/><use href="#c" x="424.9" y="193.1"/><use href="#c" x="278.0" y="189.0"/><use href="#c" x="483.1" y="211.6"/><use href="#c" x="797.8" y="276.0"/><use href="#c" x="567.5" y="96.3"/><use href="#c" x="195.0" y="332.5"/><use href="#c" x="201.1" y="323.6"/><use href="#c" x="159.2" y="361.4"/><use href="#c" x="119.5" y="348.7"/><use href="#c" x="707.0" y="203.4"/><use href="#c" x="344.4" y="124.3"/><use href="#c" x="597.9" y="54.0"/><use href="#c" x="643.7" y="62.9"/><use href="#c" x="140.0" y="362.0"/><use href="#c" x="887.4" y="155.0"/><use href="#c" x="196.8" y="329.3"/><use href="#c" x="174.8" y="352.0"/><use href="#c" x="598.6" y="54.5"/><use href="#c" x="555.7" y="116.1"/><use href="#c" x="629.3" y="48.9"/><use href="#c" x="181.4" y="347.0"/><use href="#c" x="742.6" y="258.2"/><use href="#c" x="349.3" y="125.6"/><use href="#c" x="366.1" y="135.3"/><use href="#c" x="520.7" y="174.9"/><use href="#c" x="530.6" y="161.8"/><use href="#c" x="147.5" y="363.1"/><use href="#c" x="593.1" y="58.4"/><use href="#c" x="441.8" y="206.8"/><use href="#c" x="644.7" y="63.4"/><use href="#c" x="683.5" y="144.7"/><use href="#c" x="393.9" y="160.9"/><use href="#c" x="198.8" y="326.4"/><use href="#c" x="123.7" y="352.4"/><use href="#c" x="173.6" y="354.0"/><use href="#c" x="308.2" y="140.5"/><use href="#c" x="154.8" y="362.8"/><use href="#c" x="809.1" y="262.6"/><use href="#c" x="599.2" y="53.5"/><use href="#c" x="785.2" y="282.9"/><use href="#c" x="391.0" y="158.7"/><use href="#c" x="594.1" y="59.0"/><use href="#c" x="108.3" y="336.1"/><use href="#c" x="803.5" y="270.6"/><use href="#c" x="936.8" y="340.4"/><use href="#c" x="338.4" y="123.7"/><use href="#c" x="383.0" y="150.5"/><use href="#c" x="320.3" y="128.1"/><use href="#c" x="408.8" y="177.8"/><use href="#c" x="144.4" y="363.1"/><use href="#c" x="401.3" y="169.2"/><use href="#c" x="459.8" y="214.8"/><use href="#c" x="531.3" y="159.7"/><use href="#c" x="187.2" y="339.8"/><use href="#c" x="620.1" y="46.6"/><use href="#c" x="768.0" y="282.1"/><use href="#c" x="280.1" y="186.7"/><use href="#c" x="846.7" y="208.1"/><use href="#c" x="223.9" y="285.8"/><use href="#c" x="517.1" y="181.6"/><use href="#c" x="484.1" y="211.6"/><use href="#c" x="783.6" y="283.3"/><use href="#c" x="115.7" y="346.0"/><use href="#c" x="235.8" y="260.2"/><use href="#c" x="830.7" y="241.0"/><use href="#c" x="127.7" y="355.9"/><use href="#c" x="950.3" y="430.5"/><use href="#c" x="148.4" y="363.6"/><use href="#c" x="374.3" y="142.8"/><use href="#c" x="645.9" y="65.7"/><use href="#c" x="719.2" y="231.1"/><use href="#c" x="265.2" y="214.5"/><use href="#c" x="542.0" y="141.2"/><use href="#c" x="653.1" y="76.9"/><use href="#c" x="577.6" y="79.1"/><use href="#c" x="346.6" y="125.2"/><use href="#c" x="288.6" y="168.3"/><use href="#c" x="210.3" y="308.6"/><use href="#c" x="383.4" y="150.8"/><use href="#c" x="378.4" y="145.7"/><use href="#c" x="294.4" y="159.6"/><use href="#c" x="625.0" y="47.7"/><use href="#c" x="164.3" y="358.0"/><use href="#c" x="146.5" y="364.1"/><use href="#c" x="644.2" y="64.1"/><use href="#c" x="249.3" y="247.8"/><use href="#c" x="932.1" y="303.8"/><use href="#c" x="146.7" y="363.2"/><use href="#c" x="132.6" y="359.0"/><use href="#c" x="102.4" y="328.1"/><use href="#c" x="120.7" y="349.9"/><use href="#c" x="717.3" y="225.2"/><use href="#c" x="268.0" y="209.1"/><use href="#c" x="343.8" y="124.3"/><use href="#c" x="157.4" y="361.8"/><use href="#c" x="485.7" y="210.7"/><use href="#c" x="588.0" y="65.8"/><use href="#c" x="235.2" y="259.4"/><use href="#c" x="342.3" y="123.9"/><use href="#c" x="509.2" y="191.0"/><use href="#c" x="461.2" y="216.2"/><use href="#c" x="141.8" y="363.6"/><use href="#c" x="232.9" y="265.1"/><use href="#c" x="406.3" y="175.8"/><use href="#c" x="271.7" y="203.2"/><use href="#c" x="894.9" y="164.7"/><use href="#c" x="201.0" y="323.7"/><use href="#c" x="244.8" y="237.3"/><use href="#c" x="729.7" y="233.1"/><use href="#c" x="367.7" y="136.8"/><use href="#c" x="646.2" y="66.1"/><use href="#c" x="520.1" y="176.5"/><use href="#c" x="415.4" y="183.9"/><use href="#c" x="352.4" y="127.5"/><use href="#c" x="102.8" y="328.4"/><use href="#c" x="299.7" y="151.1"/><use href="#c" x="117.2" y="345.6"/><use href="#c" x="528.0" y="165.6"/><use href="#c" x="182.1" y="346.4"/><use href="#c" x="335.7" y="122.7"/><use href="#c" x="217.5" y="296.5"/><use href="#c" x="772.2" y="284.2"/><use href="#c" x="135.3" y="360.9"/><use href="#c" x="485.5" y="211.0"/><use href="#c" x="860.3" y="178.5"/><use href="#c" x="337.0" y="123.0"/><use href="#c" x="259.1" y="228.0"/><use href="#c" x="249.8" y="247.3"/><use href="#c" x="757.7" y="276.1"/><use href="#c" x="310.1" y="136.7"/><use href="#c" x="255.9" y="234.0"/><use href="#c" x="184.7" y="343.9"/><use href="#c" x="481.0" y="212.5"/><use href="#c" x="797.6" y="275.2"/><use href="#c" x="362.2" y="132.8"/><use href="#c" x="683.1" y="143.6"/><use href="#c" x="934.3" y="320.1"/><use href="#c" x="102.4" y="327.7"/><use href="#c" x="615.4" y="45.8"/><use href="#c" x="300.1" y="151.1"/><use href="#c" x="465.8" y="216.0"/><use href="#c" x="118.8" y="347.5"/><use href="#c" x="526.4" y="167.2"/><use href="#c" x="102.4" y="327.3"/><use href="#c" x="185.9" y="341.9"/><use href="#c" x="150.9" y="363.7"/><use href="#c" x="103.8" y="329.9"/><use href="#c" x="396.6" y="165.4"/><use href="#c" x="275.5" y="194.1"/><use href="#c" x="933.8" y="314.4"/><use href="#c" x="359.2" y="130.0"/><use href="#c" x="107.0" y="335.1"/><use href="#c" x="519.5" y="178.5"/><use href="#c" x="343.0" y="125.4"/><use href="#c" x="102.4" y="327.8"/><use href="#c" x="925.8" y="262.2"/><use href="#c" x="702.2" y="191.9"/><use href="#c" x="453.2" y="212.6"/><use href="#c" x="595.1" y="57.6"/><use href="#c" x="152.7" y="363.4"/><use href="#c" x="325.3" y="126.3"/><use href="#c" x="568.2" y="94.2"/><use href="#c" x="271.3" y="201.8"/><use href="#c" x="315.1" y="131.1"/><use href="#c" x="506.1" y="194.8"/><use href="#c" x="422.7" y="192.3"/><use href="#c" x="231.7" y="268.7"/><use href="#c" x="905.2" y="188.7"/><use href="#c" x="146.2" y="363.1"/><use href="#c" x="769.1" y="282.6"/><use href="#c" x="329.6" y="124.6"/><use href="#c" x="842.2" y="217.9"/><use href="#c" x="491.8" y="206.6"/><use href="#c" x="695.5" y="173.5"/><use href="#c" x="288.9" y="169.3"/><use href="#c" x="234.9" y="261.3"/><use href="#c" x="766.6" y="282.9"/><use href="#c" x="307.4" y="140.5"/><use href="#c" x="443.6" y="208.0"/><use href="#c" x="762.7" y="279.6"/><use href="#c" x="381.5" y="148.2"/><use href="#c" x="920.1" y="240.8"/><use href="#c" x="390.2" y="158.0"/><use href="#c" x="608.8" y="47.8"/><use href="#c" x="457.3" y="214.3"/><use href="#c" x="183.2" y="345.7"/><use href="#c" x="133.5" y="359.7"/><use href="#c" x="146.0" y="363.3"/><use href="#c" x="223.9" y="283.2"/><use href="#c" x="102.4" y="328.9"/><use href="#c" x="463.2" y="215.3"/><use href="#c" x="444.5" y="208.3"/><use href="#c" x="799.8" y="274.9"/><use href="#c" x="602.5" y="52.4"/><use href="#c" x="111.4" y="340.3"/><use href="#c" x="203.8" y="316.9"/><use href="#c" x="412.8" y="181.7"/><use href="#c" x="551.2" y="125.6"/><use href="#c" x="501.6" y="198.7"/><use href="#c" x="207.4" y="313.2"/><use href="#c" x="401.6" y="170.2"/><use href="#c" x="723.4" y="240.1"/><use href="#c" x="823.6" y="238.0"/><use href="#c" x="260.1" y="225.5"/><use href="#c" x="480.0" y="213.0"/><use href="#c" x="246.1" y="235.5"/><use href="#c" x="580.2" y="75.9"/><use href="#c" x="843.5" y="216.4"/><use href="#c" x="139.2" y="362.0"/><use href="#c" x="282.0" y="182.1"/><use href="#c" x="120.5" y="350.0"/><use href="#c" x="202.9" y="320.3"/><use href="#c" x="825.2" y="234.2"/><use href="#c" x="643.3" y="62.3"/><use href="#c" x="219.9" y="292.2"/><use href="#c" x="369.1" y="137.8"/><use href="#c" x="460.8" y="216.3"/><use href="#c" x="300.4" y="149.9"/><use href="#c" x="432.6" y="199.9"/><use href="#c" x="574.8" y="83.4"/><use href="#c" x="319.0" y="129.8"/><use href="#c" x="417.1" y="186.3"/><use href="#c" x="332.1" y="123.5"/><use href="#c" x="471.2" y="216.0"/><use href="#c" x="152.2" y="362.6"/><use href="#c" x="439.8" y="204.7"/><use href="#c" x="588.9" y="64.5"/><use href="#c" x="812.3" y="258.8"/><use href="#c" x="417.5" y="186.4"/><use href="#c" x="697.3" y="178.0"/><use href="#c" x="132.9" y="359.7"/><use href="#c" x="489.6" y="209.3"/><use href="#c" x="362.7" y="133.0"/><use href="#c" x="349.9" y="126.3"/><use href="#c" x="316.1" y="132.5"/><use href="#c" x="737.7" y="250.4"/><use href="#c" x="277.6" y="189.5"/><use href="#c" x="122.9" y="352.8"/><use href="#c" x="215.9" y="299.4"/><use href="#c" x="219.7" y="291.3"/><use href="#c" x="536.1" y="154.3"/><use href="#c" x="214.3" y="302.5"/><use href="#c" x="241.6" y="246.7"/><use href="#c" x="109.6" y="338.5"/><use href="#c" x="199.6" y="324.4"/><use href="#c" x="102.4" y="327.9"/><use href="#c" x="793.8" y="277.9"/><use href="#c" x="282.7" y="180.6"/><use href="#c" x="768.7" y="282.9"/><use href="#c" x="165.8" y="358.4"/><use href="#c" x="181.6" y="345.9"/><use href="#c" x="199.8" y="325.7"/><use href="#c" x="152.4" y="362.3"/><use href="#c" x="314.2" y="133.8"/><use href="#c" x="925.3" y="261.5"/><use href="#c" x="544.0" y="139.3"/><use href="#c" x="477.9" y="213.8"/><use href="#c" x="195.2" y="331.5"/><use href="#c" x="864.9" y="172.1"/><use href="#c" x="875.2" y="158.5"/><use href="#c" x="268.6" y="207.3"/><use href="#c" x="784.1" y="282.9"/><use href="#c" x="122.2" y="352.0"/><use href="#c" x="327.6" y="123.5"/><use href="#c" x="631.2" y="50.8"/><use href="#c" x="490.6" y="207.4"/><use href="#c" x="178.7" y="348.4"/><use href="#c" x="370.3" y="138.7"/><use href="#c" x="125.9" y="354.1"/><use href="#c" x="196.6" y="329.8"/><use href="#c" x="516.9" y="181.7"/><use href="#c" x="343.5" y="124.1"/><use href="#c" x="122.5" y="351.3"/><use href="#c" x="782.1" y="284.1"/><use href="#c" x="189.7" y="337.7"/><use href="#c" x="401.2" y="169.0"/><use href="#c" x="219.2" y="292.5"/><use href="#c" x="177.4" y="349.6"/><use href="#c" x="102.4" y="327.6"/><use href="#c" x="344.2" y="124.4"/><use href="#c" x="136.7" y="361.0"/><use href="#c" x="776.8" y="284.6"/><use href="#c" x="686.0" y="150.2"/><use href="#c" x="391.2" y="158.2"/><use href="#c" x="605.4" y="49.3"/><use href="#c" x="190.1" y="336.9"/><use href="#c" x="661.2" y="92.8"/><use href="#c" x="253.8" y="239.3"/><use href="#c" x="115.3" y="345.3"/><use href="#c" x="764.8" y="280.3"/><use href="#c" x="322.1" y="128.3"/><use href="#c" x="163.7" y="359.7"/><use href="#c" x="406.7" y="175.6"/><use href="#c" x="756.5" y="273.7"/><use href="#c" x="114.9" y="344.0"/><use href="#c" x="506.8" y="193.5"/><use href="#c" x="723.7" y="239.7"/><use href="#c" x="173.4" y="352.4"/><use href="#c" x="108.3" y="336.6"/><use href="#c" x="890.5" y="159.3"/><use href="#c" x="750.4" y="267.9"/><use href="#c" x="696.4" y="176.2"/><use href="#c" x="275.8" y="193.8"/><use href="#c" x="208.0" y="311.5"/><use href="#c" x="102.4" y="327.8"/><use href="#c" x="103.8" y="330.1"/><use href="#c" x="143.3" y="364.5"/><use href="#c" x="164.1" y="358.7"/><use href="#c" x="295.4" y="157.5"/><use href="#c" x="239.9" y="249.6"/><use href="#c" x="324.1" y="126.3"/><use href="#c" x="290.8" y="166.5"/><use href="#c" x="197.0" y="329.7"/><use href="#c" x="333.9" y="123.9"/><use href="#c" x="552.8" y="121.4"/><use href="#c" x="528.5" y="165.6"/><use href="#c" x="419.5" y="188.0"/><use href="#c" x="412.3" y="180.1"/><use href="#c" x="145.8" y="363.1"/><use href="#c" x="238.2" y="254.3"/><use href="#c" x="721.3" y="235.6"/><use href="#c" x="188.7" y="339.9"/><use href="#c" x="144.7" y="361.8"/><use href="#c" x="176.2" y="350.2"/><use href="#c" x="549.0" y="130.4"/><use href="#c" x="913.7" y="217.6"/><use href="#c" x="299.4" y="151.4"/><use href="#c" x="190.9" y="335.7"/><use href="#c" x="722.7" y="238.3"/><use href="#c" x="499.1" y="200.9"/><use href="#c" x="662.2" y="95.0"/><use href="#c" x="237.0" y="255.8"/><use href="#c" x="378.6" y="146.8"/><use href="#c" x="763.8" y="279.8"/><use href="#c" x="846.3" y="209.1"/><use href="#c" x="161.8" y="360.5"/><use href="#c" x="793.0" y="278.8"/><use href="#c" x="104.9" y="331.0"/><use href="#c" x="158.1" y="362.7"/><use href="#c" x="312.9" y="134.6"/><use href="#c" x="241.5" y="245.9"/><use href="#c" x="503.4" y="196.8"/><use href="#c" x="126.4" y="354.8"/><use href="#c" x="218.1" y="295.6"/><use href="#c" x="102.4" y="327.8"/><use href="#c" x="311.3" y="138.0"/><use href="#c" x="169.7" y="356.5"/><use href="#c" x="524.0" y="171.3"/><use href="#c" x="215.4" y="299.3"/><use href="#c" x="311.6" y="136.0"/><use href="#c" x="282.1" y="182.2"/><use href="#c" x="493.9" y="205.8"/><use href="#c" x="924.4" y="254.0"/><use href="#c" x="889.2" y="157.4"/><use href="#c" x="905.4" y="188.4"/><use href="#c" x="123.8" y="352.2"/><use href="#c" x="240.0" y="248.9"/><use href="#c" x="323.7" y="127.6"/><use href="#c" x="102.4" y="328.5"/><use href="#c" x="465.3" y="215.5"/><use href="#c" x="943.0" y="385.6"/><use href="#c" x="290.9" y="165.2"/><use href="#c" x="107.1" y="336.1"/><use href="#c" x="385.5" y="152.4"/><use href="#c" x="155.5" y="362.8"/><use href="#c" x="102.4" y="328.6"/><use href="#c" x="230.9" y="269.5"/><use href="#c" x="360.7" y="132.0"/><use href="#c" x="266.8" y="212.2"/><use href="#c" x="876.1" y="157.3"/><use href="#c" x="418.4" y="187.1"/><use href="#c" x="429.8" y="197.6"/><use href="#c" x="821.7" y="241.4"/><use href="#c" x="275.9" y="194.3"/><use href="#c" x="872.1" y="161.5"/><use href="#c" x="268.8" y="207.4"/><use href="#c" x="224.1" y="282.6"/><use href="#c" x="283.8" y="176.9"/><use href="#c" x="375.4" y="143.2"/><use href="#c" x="169.5" y="356.4"/><use href="#c" x="128.0" y="356.0"/><use href="#c" x="261.1" y="225.0"/><use href="#c" x="241.8" y="244.7"/><use href="#c" x="477.7" y="214.1"/><use href="#c" x="837.5" y="228.2"/><use href="#c" x="248.1" y="229.9"/><use href="#c" x="321.6" y="127.2"/><use href="#c" x="556.0" y="116.2"/><use href="#c" x="720.5" y="233.0"/><use href="#c" x="311.5" y="136.5"/><use href="#c" x="181.9" y="346.1"/><use href="#c" x="219.5" y="292.4"/><use href="#c" x="903.6" y="182.6"/><use href="#c" x="898.0" y="171.0"/><use href="#c" x="214.1" y="302.1"/><use href="#c" x="846.3" y="210.0"/><use href="#c" x="436.7" y="203.4"/><use href="#c" x="885.0" y="154.9"/><use href="#c" x="890.0" y="159.7"/><use href="#c" x="113.8" y="343.2"/><use href="#c" x="276.3" y="193.0"/><use href="#c" x="749.5" y="266.9"/><use href="#c" x="550.5" y="126.9"/><use href="#c" x="492.6" y="205.8"/><use href="#c" x="498.0" y="202.8"/><use href="#c" x="102.4" y="327.2"/><use href="#c" x="206.5" y="314.6"/><use href="#c" x="334.4" y="123.9"/><use href="#c" x="287.4" y="172.0"/><use href="#c" x="168.2" y="357.1"/><use href="#c" x="413.3" y="183.4"/><use href="#c" x="149.7" y="363.9"/><use href="#c" x="927.2" y="271.8"/><use href="#c" x="908.2" y="198.4"/><use href="#c" x="278.2" y="189.5"/><use href="#c" x="364.6" y="135.0"/><use href="#c" x="269.8" y="206.1"/><use href="#c" x="462.1" y="215.0"/><use href="#c" x="425.1" y="194.0"/><use href="#c" x="946.2" y="409.6"/><use href="#c" x="131.4" y="357.7"/><use href="#c" x="421.7" y="190.7"/><use href="#c" x="106.8" y="334.8"/><use href="#c" x="400.2" y="167.2"/><use href="#c" x="536.3" y="152.4"/><use href="#c" x="750.5" y="268.7"/><use href="#c" x="618.9" y="45.7"/><use href="#c" x="436.3" y="202.7"/><use href="#c" x="941.5" y="372.0"/><use href="#c" x="867.0" y="168.3"/><use href="#c" x="214.6" y="300.9"/><use href="#c" x="214.8" y="300.4"/><use href="#c" x="577.5" y="78.9"/><use href="#c" x="192.0" y="335.8"/><use href="#c" x="709.0" y="206.1"/><use href="#c" x="696.2" y="175.5"/><use href="#c" x="567.5" y="94.9"/><use href="#c" x="433.3" y="200.3"/><use href="#c" x="774.3" y="284.0"/><use href="#c" x="500.2" y="200.8"/><use href="#c" x="938.5" y="350.3"/><use href="#c" x="944.8" y="398.6"/><use href="#c" x="529.9" y="163.5"/><use href="#c" x="731.4" y="237.3"/><use href="#c" x="913.4" y="214.1"/><use href="#c" x="778.4" y="284.1"/><use href="#c" x="191.6" y="335.6"/><use href="#c" x="319.3" y="128.7"/><use href="#c" x="459.1" y="215.1"/><use href="#c" x="249.4" y="248.0"/><use href="#c" x="363.7" y="134.2"/><use href="#c" x="138.7" y="362.4"/><use href="#c" x="642.7" y="62.1"/><use href="#c" x="284.3" y="176.8"/><use href="#c" x="803.0" y="270.8"/><use href="#c" x="159.4" y="360.1"/><use href="#c" x="249.8" y="247.2"/><use href="#c" x="268.3" y="209.2"/><use href="#c" x="299.0" y="150.8"/><use href="#c" x="311.7" y="136.7"/><use href="#c" x="302.9" y="147.5"/><use href="#c" x="172.4" y="355.0"/><use href="#c" x="269.9" y="205.5"/><use href="#c" x="274.9" y="194.2"/><use href="#c" x="310.8" y="136.9"/><use href="#c" x="449.0" y="211.2"/><use href="#c" x="388.9" y="156.6"/><use href="#c" x="255.7" y="235.1"/><use href="#c" x="904.0" y="184.3"/><use href="#c" x="253.9" y="239.6"/><use href="#c" x="430.7" y="198.4"/><use href="#c" x="763.9" y="280.2"/><use href="#c" x="253.4" y="241.5"/><use href="#c" x="200.9" y="324.5"/><use href="#c" x="819.5" y="244.4"/><use href="#c" x="332.7" y="124.0"/><use href="#c" x="531.5" y="160.2"/><use href="#c" x="321.0" y="128.9"/><use href="#c" x="192.1" y="335.8"/><use href="#c" x="328.1" y="124.7"/><use href="#c" x="762.5" y="279.5"/><use href="#c" x="324.7" y="125.7"/><use href="#c" x="873.2" y="159.1"/><use href="#c" x="935.5" y="330.3"/><use href="#c" x="876.4" y="156.9"/><use href="#c" x="182.7" y="345.5"/><use href="#c" x="174.8" y="351.8"/><use href="#c" x="224.8" y="281.8"/><use href="#c" x="205.4" y="315.4"/><use href="#c" x="186.4" y="341.2"/><use href="#c" x="669.0" y="109.7"/><use href="#c" x="200.2" y="323.6"/><use href="#c" x="465.5" y="215.5"/><use href="#c" x="422.5" y="191.2"/><use href="#c" x="262.1" y="221.4"/><use href="#c" x="806.1" y="266.4"/><use href="#c" x="851.7" y="197.4"/><use href="#c" x="658.5" y="87.6"/><use href="#c" x="378.1" y="145.9"/><use href="#c" x="672.1" y="117.5"/><use href="#c" x="412.1" y="180.7"/><use href="#c" x="212.7" y="306.3"/><use href="#c" x="255.5" y="235.0"/><use href="#c" x="114.7" y="344.7"/><use href="#c" x="204.2" y="317.8"/><use href="#c" x="284.6" y="175.5"/><use href="#c" x="847.7" y="205.5"/><use href="#c" x="254.9" y="235.9"/><use href="#c" x="211.7" y="305.8"/><use href="#c" x="189.9" y="338.6"/><use href="#c" x="895.6" y="165.1"/><use href="#c" x="143.8" y="363.2"/><use href="#c" x="233.2" y="265.1"/><use href="#c" x="605.6" y="49.3"/><use href="#c" x="120.8" y="351.3"/><use href="#c" x="523.1" y="173.1"/><use href="#c" x="516.6" y="180.8"/><use href="#c" x="254.0" y="238.2"/><use href="#c" x="331.7" y="124.2"/><use href="#c" x="533.3" y="159.0"/><use href="#c" x="504.5" y="196.6"/><use href="#c" x="128.1" y="356.4"/><use href="#c" x="251.3" y="244.7"/><use href="#c" x="229.1" y="272.8"/><use href="#c" x="869.3" y="165.8"/><use href="#c" x="291.7" y="163.6"/><use href="#c" x="263.7" y="217.6"/><use href="#c" x="746.0" y="262.4"/><use href="#c" x="169.9" y="354.9"/><use href="#c" x="488.9" y="207.9"/><use href="#c" x="133.1" y="359.1"/><use href="#c" x="169.3" y="355.4"/><use href="#c" x="740.5" y="253.5"/><use href="#c" x="136.1" y="361.4"/><use href="#c" x="949.4" y="426.2"/><use href="#c" x="541.6" y="143.2"/><use href="#c" x="925.0" y="258.9"/><use href="#c" x="365.1" y="135.7"/><use href="#c" x="312.1" y="135.8"/><use href="#c" x="829.6" y="242.0"/><use href="#c" x="329.8" y="124.2"/><use href="#c" x="169.8" y="354.7"/><use href="#c" x="906.3" y="190.7"/><use href="#c" x="572.9" y="86.4"/><use href="#c" x="421.6" y="191.1"/><use href="#c" x="149.1" y="362.4"/><use href="#c" x="376.8" y="143.8"/><use href="#c" x="585.3" y="68.3"/><use href="#c" x="305.5" y="143.2"/><use href="#c" x="309.4" y="138.6"/><use href="#c" x="628.7" y="49.8"/><use href="#c" x="201.4" y="322.4"/><use href="#c" x="504.7" y="195.7"/><use href="#c" x="424.0" y="192.6"/><use href="#c" x="400.5" y="167.3"/><use href="#c" x="571.4" y="89.4"/><use href="#c" x="929.8" y="289.1"/><use href="#c" x="524.7" y="170.1"/><use href="#c" x="289.8" y="167.4"/><use href="#c" x="205.3" y="316.9"/><use href="#c" x="662.3" y="94.7"/><use href="#c" x="149.0" y="363.1"/><use href="#c" x="114.2" y="343.7"/><use href="#c" x="700.6" y="186.0"/><use href="#c" x="289.3" y="167.9"/><use href="#c" x="262.7" y="220.7"/><use href="#c" x="397.8" y="166.1"/><use href="#c" x="792.3" y="279.3"/><use href="#c" x="382.1" y="150.3"/><use href="#c" x="651.5" y="73.1"/><use href="#c" x="929.0" y="284.8"/><use href="#c" x="860.6" y="180.1"/><use href="#c" x="399.8" y="168.4"/><use href="#c" x="933.9" y="320.0"/><use href="#c" x="303.9" y="144.3"/><use href="#c" x="785.5" y="283.0"/><use href="#c" x="390.1" y="157.8"/><use href="#c" x="700.8" y="188.5"/><use href="#c" x="791.8" y="280.1"/><use href="#c" x="188.6" y="339.8"/><use href="#c" x="502.8" y="197.2"/><use href="#c" x="861.7" y="177.3"/><use href="#c" x="662.7" y="94.8"/><use href="#c" x="848.9" y="204.1"/><use href="#c" x="216.1" y="298.6"/><use href="#c" x="356.3" y="129.1"/><use href="#c" x="387.9" y="154.7"/><use href="#c" x="560.0" y="110.2"/><use href="#c" x="310.2" y="138.4"/><use href="#c" x="703.8" y="195.4"/><use href="#c" x="549.8" y="128.2"/><use href="#c" x="264.0" y="217.0"/><use href="#c" x="206.1" y="315.2"/><use href="#c" x="769.5" y="282.7"/><use href="#c" x="676.3" y="126.2"/><use href="#c" x="104.7" y="330.5"/><use href="#c" x="439.2" y="205.3"/><use href="#c" x="872.5" y="159.6"/><use href="#c" x="379.4" y="147.3"/><use href="#c" x="938.1" y="348.1"/><use href="#c" x="105.0" y="331.4"/><use href="#c" x="155.7" y="361.5"/><use href="#c" x="251.6" y="243.2"/><use href="#c" x="109.9" y="337.8"/><use href="#c" x="503.3" y="196.7"/><use href="#c" x="273.9" y="197.6"/><use href="#c" x="402.9" y="171.7"/><use href="#c" x="320.7" y="128.4"/><use href="#c" x="351.6" y="126.4"/><use href="#c" x="305.2" y="144.0"/><use href="#c" x="636.6" y="56.0"/><use href="#c" x="922.1" y="244.6"/><use href="#c" x="215.7" y="299.4"/><use href="#c" x="231.2" y="268.6"/><use href="#c" x="104.0" y="329.8"/><use href="#c" x="270.1" y="205.7"/><use href="#c" x="794.1" y="279.6"/><use href="#c" x="420.1" y="188.4"/><use href="#c" x="280.4" y="184.6"/><use href="#c" x="375.6" y="142.6"/><use href="#c" x="359.8" y="130.9"/><use href="#c" x="266.4" y="213.0"/><use href="#c" x="501.0" y="199.2"/><use href="#c" x="124.1" y="353.3"/><use href="#c" x="227.7" y="276.0"/><use href="#c" x="298.2" y="153.5"/><use href="#c" x="558.9" y="111.9"/><use href="#c" x="194.5" y="332.0"/><use href="#c" x="139.8" y="362.6"/><use href="#c" x="404.1" y="173.2"/><use href="#c" x="734.6" y="243.1"/><use href="#c" x="637.7" y="55.3"/><use href="#c" x="303.8" y="144.5"/><use href="#c" x="445.4" y="209.0"/><use href="#c" x="244.9" y="237.7"/><use href="#c" x="327.1" y="126.2"/><use href="#c" x="706.1" y="198.8"/><use href="#c" x="768.8" y="284.1"/><use href="#c" x="185.3" y="342.4"/><use href="#c" x="147.1" y="363.2"/><use href="#c" x="102.4" y="328.7"/><use href="#c" x="600.5" y="52.7"/><use href="#c" x="720.1" y="231.7"/><use href="#c" x="205.4" y="316.2"/><use href="#c" x="102.4" y="328.2"/><use href="#c" x="216.9" y="297.0"/><use href="#c" x="865.2" y="172.0"/><use href="#c" x="335.1" y="122.7"/><use href="#c" x="263.6" y="219.6"/><use href="#c" x="409.2" y="178.3"/><use href="#c" x="869.0" y="165.1"/><use href="#c" x="149.6" y="363.6"/><use href="#c" x="396.1" y="163.8"/><use href="#c" x="442.8" y="206.6"/><use href="#c" x="290.1" y="167.3"/><use href="#c" x="345.0" y="125.6"/><use href="#c" x="336.7" y="123.9"/><use href="#c" x="243.6" y="240.8"/><use href="#c" x="327.2" y="125.8"/><use href="#c" x="419.1" y="189.1"/><use href="#c" x="428.5" y="197.3"/><use href="#c" x="617.4" y="46.2"/><use href="#c" x="538.9" y="148.2"/><use href="#c" x="441.3" y="206.5"/><use href="#c" x="450.7" y="212.4"/><use href="#c" x="665.5" y="101.7"/><use href="#c" x="542.1" y="141.8"/><use href="#c" x="141.4" y="362.8"/><use href="#c" x="399.2" y="167.8"/><use href="#c" x="464.8" y="215.5"/><use href="#c" x="279.1" y="187.2"/><use href="#c" x="180.8" y="347.1"/><use href="#c" x="455.1" y="214.0"/><use href="#c" x="568.0" y="95.2"/><use href="#c" x="615.5" y="45.7"/><use href="#c" x="173.9" y="353.2"/><use href="#c" x="432.8" y="200.3"/><use href="#c" x="620.9" y="46.0"/><use href="#c" x="694.1" y="170.3"/><use href="#c" x="444.4" y="210.0"/><use href="#c" x="285.4" y="174.9"/><use href="#c" x="168.9" y="356.1"/><use href="#c" x="249.2" y="247.7"/><use href="#c" x="398.2" y="166.2"/><use href="#c" x="166.4" y="357.8"/><use href="#c" x="149.6" y="363.8"/><use href="#c" x="202.0" y="320.8"/><use href="#c" x="285.5" y="175.2"/><use href="#c" x="767.7" y="282.7"/><use href="#c" x="120.9" y="350.0"/><use href="#c" x="106.3" y="332.8"/><use href="#c" x="238.6" y="252.1"/><use href="#c" x="225.0" y="281.4"/><use href="#c" x="130.0" y="357.7"/><use href="#c" x="467.1" y="216.9"/><use href="#c" x="806.6" y="265.9"/><use href="#c" x="790.7" y="281.4"/><use href="#c" x="542.8" y="140.7"/><use href="#c" x="316.4" y="131.9"/><use href="#c" x="502.6" y="197.9"/><use href="#c" x="378.6" y="146.4"/><use href="#c" x="588.2" y="64.2"/><use href="#c" x="249.1" y="248.6"/><use href="#c" x="381.7" y="149.9"/><use href="#c" x="120.6" y="350.2"/><use href="#c" x="740.3" y="253.3"/><use href="#c" x="519.1" y="177.0"/><use href="#c" x="948.9" y="423.2"/><use href="#c" x="745.2" y="260.4"/><use href="#c" x="172.9" y="353.9"/><use href="#c" x="269.0" y="206.4"/><use href="#c" x="285.7" y="175.1"/><use href="#c" x="350.7" y="125.9"/><use href="#c" x="129.4" y="357.7"/><use href="#c" x="164.4" y="358.2"/><use href="#c" x="258.6" y="229.8"/><use href="#c" x="137.4" y="361.9"/><use href="#c" x="194.8" y="331.9"/><use href="#c" x="477.3" y="213.8"/><use href="#c" x="476.3" y="214.8"/><use href="#c" x="325.7" y="126.3"/><use href="#c" x="265.6" y="214.9"/><use href="#c" x="355.2" y="129.4"/><use href="#c" x="365.9" y="135.9"/><use href="#c" x="355.5" y="128.9"/><use href="#c" x="218.1" y="293.8"/><use href="#c" x="138.7" y="361.7"/><use href="#c" x="521.1" y="176.1"/><use href="#c" x="361.2" y="132.8"/><use href="#c" x="139.0" y="362.3"/><use href="#c" x="134.8" y="360.5"/><use href="#c" x="850.0" y="200.7"/><use href="#c" x="559.7" y="108.9"/><use href="#c" x="464.1" y="216.2"/><use href="#c" x="616.2" y="45.4"/><use href="#c" x="418.9" y="187.5"/><use href="#c" x="102.4" y="327.6"/><use href="#c" x="260.2" y="225.9"/><use href="#c" x="449.1" y="211.8"/><use href="#c" x="832.7" y="237.3"/><use href="#c" x="247.8" y="229.0"/><use href="#c" x="167.7" y="357.2"/><use href="#c" x="679.0" y="133.2"/><use href="#c" x="722.4" y="237.4"/><use href="#c" x="204.0" y="318.3"/><use href="#c" x="612.5" y="46.1"/><use href="#c" x="480.8" y="213.8"/><use href="#c" x="935.1" y="326.2"/><use href="#c" x="932.3" y="306.9"/><use href="#c" x="876.8" y="155.9"/><use href="#c" x="334.6" y="123.7"/><use href="#c" x="675.4" y="124.9"/><use href="#c" x="539.8" y="146.6"/><use href="#c" x="345.7" y="125.1"/><use href="#c" x="102.4" y="327.6"/><use href="#c" x="232.6" y="264.9"/><use href="#c" x="491.4" y="206.7"/><use href="#c" x="597.4" y="54.5"/><use href="#c" x="212.2" y="305.7"/><use href="#c" x="351.0" y="127.5"/><use href="#c" x="565.8" y="99.2"/><use href="#c" x="455.6" y="213.1"/><use href="#c" x="193.5" y="334.1"/><use href="#c" x="110.7" y="339.3"/><use href="#c" x="381.1" y="148.8"/><use href="#c" x="211.2" y="306.8"/><use href="#c" x="602.8" y="50.5"/><use href="#c" x="187.0" y="340.3"/><use href="#c" x="293.7" y="160.8"/><use href="#c" x="103.6" y="331.0"/><use href="#c" x="811.8" y="258.9"/><use href="#c" x="526.1" y="169.2"/><use href="#c" x="305.7" y="143.1"/><use href="#c" x="394.2" y="162.9"/><use href="#c" x="282.7" y="179.0"/><use href="#c" x="300.2" y="150.2"/><use href="#c" x="361.1" y="131.4"/><use href="#c" x="467.6" y="215.8"/><use href="#c" x="176.5" y="350.3"/><use href="#c" x="504.4" y="195.9"/><use href="#c" x="254.3" y="238.6"/><use href="#c" x="378.3" y="146.7"/><use href="#c" x="256.3" y="233.2"/><use href="#c" x="798.1" y="274.7"/><use href="#c" x="789.3" y="281.0"/><use href="#c" x="387.4" y="155.0"/><use href="#c" x="315.6" y="131.2"/><use href="#c" x="187.5" y="340.4"/><use href="#c" x="204.3" y="317.1"/><use href="#c" x="134.6" y="361.0"/><use href="#c" x="305.6" y="143.0"/><use href="#c" x="474.7" y="215.0"/><use href="#c" x="939.4" y="357.2"/><use href="#c" x="905.0" y="188.1"/><use href="#c" x="424.4" y="193.1"/><use href="#c" x="218.4" y="293.9"/><use href="#c" x="231.8" y="267.0"/><use href="#c" x="127.4" y="356.0"/><use href="#c" x="170.7" y="354.7"/><use href="#c" x="179.8" y="348.1"/><use href="#c" x="336.9" y="123.5"/><use href="#c" x="185.7" y="341.5"/><use href="#c" x="373.4" y="141.0"/><use href="#c" x="160.1" y="361.0"/><use href="#c" x="214.1" y="301.6"/><use href="#c" x="554.8" y="119.5"/><use href="#c" x="506.0" y="193.3"/><use href="#c" x="426.6" y="195.3"/><use href="#c" x="787.9" y="282.3"/><use href="#c" x="451.4" y="213.1"/><use href="#c" x="325.7" y="125.9"/><use href="#c" x="379.3" y="147.4"/><use href="#c" x="325.6" y="125.7"/><use href="#c" x="792.7" y="280.7"/><use href="#c" x="262.9" y="220.1"/><use href="#c" x="148.6" y="363.8"/><use href="#c" x="136.3" y="361.0"/><use href="#c" x="538.5" y="148.4"/><use href="#c" x="748.3" y="264.9"/><use href="#c" x="123.5" y="352.6"/><use href="#c" x="172.2" y="354.9"/><use href="#c" x="950.4" y="430.7"/><use href="#c" x="655.1" y="81.3"/><use href="#c" x="296.5" y="156.0"/><use href="#c" x="217.0" y="296.4"/><use href="#c" x="281.9" y="181.9"/><use href="#c" x="164.3" y="359.6"/><use href="#c" x="471.2" y="216.0"/><use href="#c" x="226.6" y="277.6"/><use href="#c" x="252.5" y="242.2"/><use href="#c" x="584.5" y="68.2"/><use href="#c" x="286.4" y="174.0"/><use href="#c" x="302.6" y="147.8"/><use href="#c" x="368.1" y="138.2"/><use href="#c" x="918.7" y="234.9"/><use href="#c" x="574.3" y="84.6"/><use href="#c" x="329.4" y="125.7"/><use href="#c" x="736.1" y="246.1"/><use href="#c" x="127.0" y="356.0"/><use href="#c" x="312.7" y="135.0"/><use href="#c" x="472.1" y="215.6"/><use href="#c" x="710.6" y="209.9"/><use href="#c" x="216.6" y="296.6"/><use href="#c" x="176.3" y="350.8"/><use href="#c" x="144.3" y="364.2"/><use href="#c" x="271.1" y="204.2"/><use href="#c" x="185.4" y="342.1"/><use href="#c" x="372.4" y="141.3"/><use href="#c" x="330.2" y="124.6"/><use href="#c" x="318.7" y="130.2"/><use href="#c" x="362.0" y="133.1"/><use href="#c" x="722.2" y="237.2"/><use href="#c" x="786.1" y="282.8"/><use href="#c" x="930.1" y="292.3"/><use href="#c" x="144.1" y="363.0"/><use href="#c" x="121.4" y="351.9"/><use href="#c" x="192.5" y="335.4"/><use href="#c" x="212.5" y="304.6"/><use href="#c" x="815.1" y="253.9"/><use href="#c" x="440.2" y="206.6"/><use href="#c" x="583.5" y="71.3"/><use href="#c" x="183.9" y="344.6"/><use href="#c" x="535.4" y="153.1"/><use href="#c" x="217.3" y="296.6"/><use href="#c" x="452.6" y="213.1"/><use href="#c" x="679.5" y="133.8"/><use href="#c" x="141.3" y="363.9"/><use href="#c" x="494.8" y="204.9"/><use href="#c" x="255.5" y="236.0"/><use href="#c" x="695.3" y="173.6"/><use href="#c" x="745.5" y="261.4"/><use href="#c" x="380.2" y="147.6"/><use href="#c" x="367.8" y="138.0"/><use href="#c" x="148.8" y="363.6"/><use href="#c" x="193.9" y="331.9"/><use href="#c" x="105.5" y="332.5"/><use href="#c" x="594.9" y="57.2"/><use href="#c" x="171.5" y="355.6"/><use href="#c" x="105.6" y="333.1"/><use href="#c" x="820.6" y="244.0"/><use href="#c" x="832.2" y="237.6"/><use href="#c" x="124.3" y="354.0"/><use href="#c" x="312.9" y="135.5"/><use href="#c" x="347.9" y="125.5"/><use href="#c" x="212.6" y="304.0"/><use href="#c" x="945.7" y="405.2"/><use href="#c" x="432.0" y="199.8"/><use href="#c" x="169.4" y="356.1"/><use href="#c" x="188.2" y="339.4"/><use href="#c" x="224.1" y="282.9"/><use href="#c" x="507.7" y="192.8"/><use href="#c" x="315.6" y="132.2"/><use href="#c" x="373.3" y="142.0"/><use href="#c" x="427.1" y="195.9"/><use href="#c" x="175.3" y="351.6"/><use href="#c" x="686.7" y="150.7"/><use href="#c" x="230.7" y="270.4"/><use href="#c" x="132.2" y="358.9"/><use href="#c" x="745.0" y="260.5"/><use href="#c" x="102.4" y="328.7"/><use href="#c" x="116.4" y="345.9"/><use href="#c" x="774.8" y="284.0"/><use href="#c" x="500.5" y="200.1"/><use href="#c" x="677.8" y="130.5"/><use href="#c" x="687.4" y="154.9"/><use href="#c" x="893.6" y="162.9"/><use href="#c" x="191.9" y="335.0"/><use href="#c" x="152.7" y="363.8"/><use href="#c" x="133.3" y="359.7"/><use href="#c" x="102.4" y="327.7"/><use href="#c" x="359.1" y="130.4"/><use href="#c" x="590.2" y="62.8"/><use href="#c" x="410.5" y="179.8"/><use href="#c" x="257.4" y="231.8"/><use href="#c" x="620.8" y="46.3"/><use href="#c" x="947.2" y="412.8"/><use href="#c" x="310.0" y="137.2"/><use href="#c" x="118.2" y="347.0"/><use href="#c" x="338.3" y="123.5"/><use href="#c" x="622.6" y="47.2"/><use href="#c" x="399.7" y="167.6"/><use href="#c" x="790.3" y="281.6"/><use href="#c" x="290.1" y="167.0"/><use href="#c" x="420.5" y="189.9"/><use href="#c" x="171.4" y="354.3"/><use href="#c" x="435.8" y="201.8"/><use href="#c" x="317.0" y="131.2"/><use href="#c" x="395.3" y="162.8"/><use href="#c" x="494.5" y="205.1"/><use href="#c" x="596.5" y="54.7"/><use href="#c" x="891.1" y="159.1"/><use href="#c" x="546.7" y="132.1"/><use href="#c" x="124.9" y="355.2"/><use href="#c" x="587.3" y="65.7"/><use href="#c" x="677.1" y="129.0"/><use href="#c" x="254.7" y="236.3"/><use href="#c" x="431.2" y="198.3"/><use href="#c" x="118.1" y="347.9"/><use href="#c" x="310.4" y="137.3"/><use href="#c" x="739.4" y="252.8"/><use href="#c" x="146.4" y="364.2"/><use href="#c" x="921.3" y="244.6"/><use href="#c" x="652.1" y="74.5"/><use href="#c" x="553.7" y="120.2"/><use href="#c" x="451.6" y="211.6"/><use href="#c" x="839.9" y="222.7"/><use href="#c" x="638.2" y="55.9"/><use href="#c" x="499.5" y="200.9"/><use href="#c" x="473.2" y="215.2"/><use href="#c" x="180.0" y="347.9"/><use href="#c" x="610.4" y="47.4"/><use href="#c" x="177.3" y="350.2"/><use href="#c" x="911.4" y="207.9"/><use href="#c" x="243.1" y="241.6"/><use href="#c" x="252.4" y="241.4"/><use href="#c" x="340.3" y="123.5"/><use href="#c" x="425.8" y="194.3"/><use href="#c" x="178.1" y="349.9"/><use href="#c" x="381.1" y="148.5"/><use href="#c" x="773.2" y="283.6"/><use href="#c" x="950.0" y="429.0"/><use href="#c" x="838.9" y="226.4"/><use href="#c" x="820.2" y="245.9"/><use href="#c" x="448.1" y="211.1"/><use href="#c" x="281.6" y="182.4"/><use href="#c" x="831.0" y="241.0"/><use href="#c" x="869.7" y="164.6"/><use href="#c" x="781.5" y="284.1"/><use href="#c" x="589.8" y="63.1"/><use href="#c" x="640.3" y="58.7"/><use href="#c" x="182.7" y="345.0"/><use href="#c" x="293.8" y="160.0"/><use href="#c" x="127.1" y="354.6"/><use href="#c" x="583.3" y="70.8"/><use href="#c" x="306.3" y="141.2"/><use href="#c" x="257.6" y="231.2"/><use href="#c" x="439.5" y="206.1"/><use href="#c" x="210.9" y="307.7"/><use href="#c" x="102.4" y="328.2"/><use href="#c" x="811.0" y="260.9"/><use href="#c" x="470.1" y="215.7"/><use href="#c" x="274.1" y="198.7"/><use href="#c" x="735.7" y="244.8"/><use href="#c" x="338.1" y="123.6"/><use href="#c" x="275.6" y="192.8"/><use href="#c" x="123.4" y="352.3"/><use href="#c" x="278.5" y="187.6"/><use href="#c" x="104.0" y="330.0"/><use href="#c" x="326.9" y="126.2"/><use href="#c" x="260.3" y="225.8"/><use href="#c" x="238.8" y="253.0"/><use href="#c" x="445.0" y="209.0"/><use href="#c" x="154.6" y="363.3"/><use href="#c" x="509.6" y="191.3"/><use href="#c" x="479.2" y="214.0"/><use href="#c" x="940.5" y="365.1"/><use href="#c" x="159.2" y="361.5"/><use href="#c" x="294.0" y="160.2"/><use href="#c" x="658.6" y="87.2"/><use href="#c" x="281.2" y="183.4"/><use href="#c" x="353.1" y="127.7"/><use href="#c" x="635.5" y="53.5"/><use href="#c" x="399.0" y="167.2"/><use href="#c" x="213.4" y="302.6"/><use href="#c" x="206.7" y="314.6"/><use href="#c" x="552.8" y="123.0"/><use href="#c" x="742.4" y="256.7"/><use href="#c" x="741.3" y="254.2"/><use href="#c" x="342.1" y="124.5"/><use href="#c" x="558.6" y="111.2"/><use href="#c" x="414.9" y="183.3"/><use href="#c" x="260.6" y="225.3"/><use href="#c" x="898.7" y="170.8"/><use href="#c" x="856.9" y="186.8"/><use href="#c" x="608.1" y="48.2"/><use href="#c" x="922.7" y="249.6"/><use href="#c" x="366.9" y="136.7"/><use href="#c" x="523.7" y="171.6"/><use href="#c" x="435.6" y="203.1"/><use href="#c" x="576.2" y="82.0"/><use href="#c" x="383.7" y="151.0"/><use href="#c" x="328.7" y="124.4"/><use href="#c" x="273.0" y="199.2"/><use href="#c" x="931.9" y="302.3"/><use href="#c" x="415.7" y="184.3"/><use href="#c" x="344.3" y="123.2"/><use href="#c" x="405.1" y="173.7"/><use href="#c" x="155.8" y="362.0"/><use href="#c" x="164.8" y="359.5"/><use href="#c" x="160.2" y="361.1"/><use href="#c" x="645.7" y="64.7"/><use href="#c" x="196.3" y="329.5"/><use href="#c" x="349.5" y="126.6"/><use href="#c" x="297.5" y="154.9"/><use href="#c" x="515.3" y="183.4"/><use href="#c" x="392.7" y="160.3"/><use href="#c" x="606.7" y="49.4"/><use href="#c" x="125.2" y="354.6"/><use href="#c" x="123.5" y="352.5"/><use href="#c" x="674.3" y="121.5"/><use href="#c" x="130.6" y="357.6"/><use href="#c" x="912.6" y="211.8"/><use href="#c" x="779.1" y="284.3"/><use href="#c" x="150.1" y="363.9"/><use href="#c" x="886.9" y="156.3"/><use href="#c" x="170.1" y="355.5"/><use href="#c" x="521.5" y="174.9"/><use href="#c" x="448.3" y="210.5"/><use href="#c" x="205.5" y="316.3"/><use href="#c" x="187.5" y="340.5"/><use href="#c" x="361.6" y="133.0"/><use href="#c" x="294.2" y="159.4"/><use href="#c" x="432.1" y="200.3"/><use href="#c" x="486.8" y="210.3"/><use href="#c" x="513.2" y="184.8"/><use href="#c" x="710.4" y="210.9"/><use href="#c" x="400.9" y="168.8"/><use href="#c" x="635.8" y="54.1"/><use href="#c" x="764.3" y="279.4"/><use href="#c" x="313.9" y="134.3"/><use href="#c" x="613.1" y="46.2"/><use href="#c" x="799.5" y="274.3"/><use href="#c" x="111.1" y="341.0"/><use href="#c" x="441.9" y="206.5"/><use href="#c" x="650.8" y="73.5"/><use href="#c" x="263.4" y="220.6"/><use href="#c" x="935.4" y="329.3"/><use href="#c" x="809.2" y="261.9"/><use href="#c" x="886.5" y="156.1"/><use href="#c" x="946.9" y="415.4"/><use href="#c" x="388.4" y="157.0"/><use href="#c" x="865.8" y="170.2"/><use href="#c" x="535.1" y="153.2"/><use href="#c" x="336.6" y="123.5"/><use href="#c" x="141.4" y="363.7"/><use href="#c" x="230.8" y="269.0"/><use href="#c" x="321.8" y="127.8"/><use href="#c" x="284.9" y="176.4"/><use href="#c" x="157.5" y="361.1"/><use href="#c" x="638.4" y="56.1"/><use href="#c" x="173.0" y="353.7"/><use href="#c" x="716.4" y="224.4"/><use href="#c" x="102.5" y="328.9"/><use href="#c" x="259.2" y="228.1"/><use href="#c" x="271.6" y="201.9"/><use href="#c" x="632.0" y="51.5"/><use href="#c" x="421.3" y="190.0"/><use href="#c" x="292.4" y="162.1"/><use href="#c" x="394.5" y="162.3"/><use href="#c" x="178.0" y="348.7"/><use href="#c" x="565.4" y="100.5"/><use href="#c" x="393.2" y="161.0"/><use href="#c" x="255.1" y="236.0"/><use href="#c" x="681.7" y="138.6"/><use href="#c" x="375.9" y="143.2"/><use href="#c" x="207.1" y="313.8"/><use href="#c" x="116.9" y="347.3"/><use href="#c" x="922.4" y="247.7"/><use href="#c" x="460.9" y="216.7"/><use href="#c" x="151.8" y="362.8"/><use href="#c" x="254.5" y="237.9"/><use href="#c" x="153.2" y="363.4"/><use href="#c" x="338.1" y="122.8"/><use href="#c" x="374.9" y="142.1"/><use href="#c" x="660.5" y="91.5"/><use href="#c" x="256.8" y="233.2"/><use href="#c" x="156.4" y="361.0"/><use href="#c" x="421.1" y="189.5"/><use href="#c" x="244.4" y="239.1"/><use href="#c" x="198.7" y="326.4"/><use href="#c" x="181.1" y="345.2"/><use href="#c" x="248.1" y="229.9"/><use href="#c" x="119.5" y="348.6"/><use href="#c" x="463.9" y="215.6"/><use href="#c" x="278.8" y="187.2"/><use href="#c" x="289.6" y="167.3"/><use href="#c" x="420.0" y="189.0"/><use href="#c" x="356.5" y="129.4"/><use href="#c" x="139.8" y="362.4"/><use href="#c" x="890.7" y="159.0"/><use href="#c" x="766.1" y="281.8"/><use href="#c" x="775.6" y="284.0"/><use href="#c" x="259.3" y="227.0"/><use href="#c" x="383.7" y="151.2"/><use href="#c" x="656.6" y="83.0"/><use href="#c" x="110.5" y="340.4"/><use href="#c" x="203.0" y="321.2"/><use href="#c" x="568.6" y="94.3"/><use href="#c" x="236.0" y="259.3"/><use href="#c" x="841.7" y="220.0"/><use href="#c" x="135.1" y="360.6"/><use href="#c" x="766.4" y="281.2"/><use href="#c" x="248.8" y="227.6"/><use href="#c" x="243.5" y="240.4"/><use href="#c" x="154.2" y="363.5"/><use href="#c" x="233.9" y="262.2"/><use href="#c" x="438.6" y="204.9"/><use href="#c" x="312.7" y="135.1"/><use href="#c" x="291.3" y="163.3"/><use href="#c" x="489.3" y="209.0"/><use href="#c" x="176.8" y="351.0"/><use href="#c" x="450.8" y="212.6"/><use href="#c" x="140.3" y="361.9"/><use href="#c" x="538.1" y="148.8"/><use href="#c" x="178.4" y="349.0"/><use href="#c" x="181.9" y="346.5"/><use href="#c" x="805.8" y="267.9"/><use href="#c" x="259.8" y="225.5"/><use href="#c" x="251.9" y="242.9"/><use href="#c" x="616.8" y="45.8"/><use href="#c" x="216.8" y="296.0"/><use href="#c" x="317.2" y="130.9"/><use href="#c" x="498.1" y="202.0"/><use href="#c" x="172.7" y="353.5"/><use href="#c" x="105.7" y="332.7"/><use href="#c" x="751.7" y="268.9"/><use href="#c" x="200.2" y="324.0"/><use href="#c" x="229.2" y="272.7"/><use href="#c" x="288.1" y="170.0"/><use href="#c" x="213.8" y="303.0"/><use href="#c" x="132.5" y="359.0"/><use href="#c" x="579.1" y="77.1"/><use href="#c" x="244.3" y="237.6"/><use href="#c" x="478.3" y="213.8"/><use href="#c" x="276.4" y="192.8"/><use href="#c" x="400.1" y="168.4"/><use href="#c" x="123.3" y="353.4"/><use href="#c" x="269.1" y="207.0"/><use href="#c" x="293.6" y="161.4"/><use href="#c" x="442.0" y="207.2"/><use href="#c" x="179.8" y="347.8"/><use href="#c" x="389.9" y="156.5"/><use href="#c" x="872.9" y="159.8"/><use href="#c" x="270.7" y="204.6"/><use href="#c" x="587.6" y="66.4"/><use href="#c" x="543.7" y="139.1"/><use href="#c" x="102.4" y="328.1"/><use href="#c" x="816.7" y="251.4"/><use href="#c" x="523.8" y="171.8"/><use href="#c" x="256.0" y="235.6"/><use href="#c" x="488.6" y="209.2"/><use href="#c" x="887.8" y="156.4"/><use href="#c" x="942.1" y="379.3"/><use href="#c" x="175.9" y="351.9"/><use href="#c" x="317.3" y="129.5"/><use href="#c" x="580.0" y="75.3"/><use href="#c" x="151.3" y="363.6"/><use href="#c" x="496.6" y="203.7"/><use href="#c" x="446.3" y="209.6"/><use href="#c" x="112.7" y="341.7"/><use href="#c" x="264.3" y="217.0"/><use href="#c" x="201.2" y="322.6"/><use href="#c" x="796.4" y="277.5"/><use href="#c" x="458.7" y="215.0"/><use href="#c" x="309.5" y="137.6"/><use href="#c" x="161.5" y="360.0"/><use href="#c" x="302.3" y="146.6"/><use href="#c" x="719.9" y="232.0"/><use href="#c" x="457.3" y="213.9"/><use href="#c" x="511.7" y="187.0"/><use href="#c" x="641.4" y="59.9"/><use href="#c" x="221.3" y="288.8"/><use href="#c" x="213.9" y="302.7"/><use href="#c" x="673.2" y="120.3"/><use href="#c" x="343.9" y="124.1"/><use href="#c" x="447.3" y="210.5"/><use href="#c" x="925.2" y="261.1"/><use href="#c" x="575.6" y="81.3"/><use href="#c" x="603.2" y="50.2"/><use href="#c" x="453.2" y="213.5"/><use href="#c" x="411.8" y="181.6"/><use href="#c" x="927.8" y="273.4"/><use href="#c" x="186.2" y="341.5"/><use href="#c" x="493.3" y="205.9"/><use href="#c" x="450.5" y="212.1"/><use href="#c" x="194.1" y="332.8"/><use href="#c" x="428.2" y="196.3"/><use href="#c" x="380.1" y="147.4"/><use href="#c" x="625.9" y="47.8"/><use href="#c" x="211.4" y="307.8"/><use href="#c" x="102.4" y="328.7"/><use href="#c" x="194.6" y="331.9"/><use href="#c" x="211.4" y="306.1"/><use href="#c" x="236.6" y="257.4"/><use href="#c" x="930.7" y="296.3"/><use href="#c" x="467.6" y="215.7"/><use href="#c" x="808.7" y="263.1"/><use href="#c" x="930.9" y="299.9"/><use href="#c" x="629.0" y="49.1"/><use href="#c" x="456.3" y="214.5"/><use href="#c" x="725.1" y="244.0"/><use href="#c" x="297.8" y="153.3"/><use href="#c" x="694.1" y="171.2"/><use href="#c" x="248.7" y="228.9"/><use href="#c" x="148.1" y="363.3"/><use href="#c" x="946.0" y="409.4"/><use href="#c" x="446.6" y="210.8"/><use href="#c" x="346.8" y="124.4"/><use href="#c" x="106.8" y="334.9"/><use href="#c" x="721.2" y="235.1"/><use href="#c" x="363.4" y="133.3"/><use href="#c" x="215.0" y="301.1"/><use href="#c" x="158.9" y="361.7"/><use href="#c" x="203.6" y="318.9"/><use href="#c" x="149.4" y="363.3"/><use href="#c" x="142.0" y="363.5"/><use href="#c" x="211.5" y="305.9"/><use href="#c" x="870.6" y="162.3"/><use href="#c" x="359.3" y="130.5"/><use href="#c" x="713.1" y="216.5"/><use href="#c" x="128.8" y="356.9"/><use href="#c" x="168.1" y="357.7"/><use href="#c" x="246.7" y="232.7"/><use href="#c" x="921.7" y="243.8"/><use href="#c" x="881.7" y="155.8"/><use href="#c" x="131.8" y="358.8"/><use href="#c" x="417.7" y="187.6"/><use href="#c" x="386.0" y="153.1"/><use href="#c" x="185.2" y="342.6"/><use href="#c" x="123.0" y="352.5"/><use href="#c" x="795.5" y="277.1"/><use href="#c" x="205.2" y="318.1"/><use href="#c" x="155.2" y="363.1"/><use href="#c" x="108.2" y="336.7"/><use href="#c" x="292.2" y="163.0"/><use href="#c" x="455.8" y="213.6"/><use href="#c" x="148.5" y="362.6"/><use href="#c" x="592.8" y="60.0"/><use href="#c" x="737.4" y="249.1"/><use href="#c" x="109.4" y="337.1"/><use href="#c" x="297.0" y="155.2"/><use href="#c" x="743.1" y="257.0"/><use href="#c" x="216.4" y="298.7"/><use href="#c" x="119.0" y="348.3"/><use href="#c" x="443.2" y="207.6"/><use href="#c" x="138.0" y="362.1"/><use href="#c" x="289.2" y="168.5"/><use href="#c" x="270.3" y="203.4"/><use href="#c" x="595.5" y="57.0"/><use href="#c" x="397.6" y="165.9"/><use href="#c" x="126.1" y="356.1"/><use href="#c" x="950.0" y="428.3"/><use href="#c" x="326.5" y="124.6"/><use href="#c" x="883.7" y="154.5"/><use href="#c" x="413.2" y="182.6"/><use href="#c" x="758.9" y="276.2"/><use href="#c" x="356.6" y="129.3"/><use href="#c" x="122.5" y="352.5"/><use href="#c" x="841.0" y="222.1"/><use href="#c" x="726.0" y="226.1"/><use href="#c" x="104.3" y="330.7"/><use href="#c" x="894.5" y="163.8"/><use href="#c" x="725.4" y="243.3"/><use href="#c" x="126.3" y="355.9"/><use href="#c" x="481.7" y="213.0"/><use href="#c" x="744.8" y="260.0"/><use href="#c" x="154.7" y="361.5"/><use href="#c" x="681.3" y="138.5"/><use href="#c" x="740.9" y="255.0"/><use href="#c" x="599.1" y="53.5"/><use href="#c" x="811.2" y="260.2"/><use href="#c" x="369.9" y="138.8"/><use href="#c" x="291.3" y="164.5"/><use href="#c" x="342.0" y="123.8"/><use href="#c" x="256.5" y="234.1"/><use href="#c" x="870.4" y="164.6"/><use href="#c" x="321.5" y="127.7"/><use href="#c" x="559.0" y="111.0"/><use href="#c" x="642.0" y="60.7"/><use href="#c" x="404.6" y="172.7"/><use href="#c" x="842.7" y="217.8"/><use href="#c" x="279.4" y="185.9"/><use href="#c" x="462.4" y="214.7"/><use href="#c" x="184.2" y="343.6"/><use href="#c" x="131.2" y="357.2"/><use href="#c" x="502.8" y="197.0"/><use href="#c" x="584.1" y="70.5"/><use href="#c" x="862.2" y="176.3"/><use href="#c" x="163.2" y="359.3"/><use href="#c" x="229.8" y="272.4"/><use href="#c" x="633.6" y="51.4"/><use href="#c" x="175.4" y="351.3"/><use href="#c" x="500.8" y="199.8"/><use href="#c" x="926.5" y="266.9"/><use href="#c" x="348.4" y="125.2"/><use href="#c" x="487.9" y="209.4"/><use href="#c" x="672.4" y="118.1"/><use href="#c" x="423.5" y="192.4"/><use href="#c" x="414.7" y="183.2"/><use href="#c" x="679.3" y="134.5"/><use href="#c" x="553.9" y="121.4"/><use href="#c" x="403.1" y="170.3"/><use href="#c" x="736.9" y="247.4"/><use href="#c" x="343.6" y="123.8"/><use href="#c" x="191.1" y="336.8"/><use href="#c" x="148.6" y="363.6"/><use href="#c" x="122.4" y="352.1"/><use href="#c" x="793.3" y="279.0"/><use href="#c" x="127.5" y="355.4"/><use href="#c" x="590.5" y="61.7"/><use href="#c" x="587.1" y="66.4"/><use href="#c" x="569.9" y="91.9"/><use href="#c" x="720.8" y="233.2"/><use href="#c" x="254.1" y="238.9"/><use href="#c" x="431.9" y="199.1"/><use href="#c" x="161.9" y="360.0"/><use href="#c" x="417.2" y="185.8"/><use href="#c" x="743.3" y="257.9"/><use href="#c" x="266.5" y="212.0"/><use href="#c" x="862.9" y="175.8"/><use href="#c" x="715.2" y="221.0"/><use href="#c" x="376.9" y="145.1"/><use href="#c" x="771.8" y="283.9"/><use href="#c" x="274.0" y="197.7"/><use href="#c" x="240.2" y="249.1"/><use href="#c" x="837.3" y="228.3"/><use href="#c" x="284.2" y="177.4"/><use href="#c" x="765.8" y="280.7"/><use href="#c" x="322.7" y="126.9"/><use href="#c" x="726.3" y="245.7"/><use href="#c" x="794.7" y="278.0"/><use href="#c" x="231.3" y="268.5"/><use href="#c" x="844.3" y="214.5"/><use href="#c" x="741.8" y="255.8"/><use href="#c" x="336.4" y="122.8"/><use href="#c" x="102.4" y="328.5"/><use href="#c" x="227.6" y="276.3"/><use href="#c" x="631.2" y="50.5"/><use href="#c" x="535.6" y="153.7"/><use href="#c" x="335.0" y="123.2"/><use href="#c" x="403.4" y="172.3"/><use href="#c" x="271.1" y="203.8"/><use href="#c" x="196.2" y="330.2"/><use href="#c" x="448.2" y="210.8"/><use href="#c" x="596.9" y="56.2"/><use href="#c" x="836.7" y="230.1"/><use href="#c" x="205.9" y="315.2"/><use href="#c" x="256.9" y="232.4"/><use href="#c" x="202.0" y="321.7"/><use href="#c" x="508.3" y="192.1"/><use href="#c" x="735.4" y="243.7"/><use href="#c" x="240.6" y="248.4"/><use href="#c" x="649.7" y="70.6"/><use href="#c" x="716.0" y="222.8"/><use href="#c" x="127.8" y="356.1"/><use href="#c" x="645.3" y="64.6"/><use href="#c" x="910.4" y="205.3"/><use href="#c" x="131.5" y="358.3"/><use href="#c" x="673.8" y="120.3"/><use href="#c" x="177.1" y="351.4"/><use href="#c" x="451.4" y="212.5"/><use href="#c" x="150.0" y="364.0"/><use href="#c" x="246.3" y="233.9"/><use href="#c" x="617.6" y="46.5"/><use href="#c" x="348.6" y="126.4"/><use href="#c" x="216.2" y="298.4"/><use href="#c" x="349.7" y="126.5"/><use href="#c" x="477.4" y="214.4"/><use href="#c" x="174.5" y="351.9"/><use href="#c" x="173.8" y="353.2"/><use href="#c" x="239.5" y="251.6"/><use href="#c" x="158.9" y="361.4"/><use href="#c" x="396.8" y="164.0"/><use href="#c" x="256.5" y="233.6"/><use href="#c" x="914.9" y="220.5"/><use href="#c" x="943.9" y="393.1"/><use href="#c" x="280.8" y="184.2"/><use href="#c" x="610.3" y="47.6"/><use href="#c" x="461.9" y="215.3"/><use href="#c" x="141.9" y="363.2"/><use href="#c" x="231.5" y="268.7"/><use href="#c" x="603.6" y="50.2"/><use href="#c" x="669.5" y="110.3"/><use href="#c" x="653.4" y="77.2"/><use href="#c" x="111.8" y="340.3"/><use href="#c" x="929.8" y="290.6"/><use href="#c" x="688.2" y="155.8"/><use href="#c" x="828.0" y="228.0"/><use href="#c" x="591.9" y="59.9"/><use href="#c" x="352.1" y="126.8"/><use href="#c" x="124.2" y="353.5"/><use href="#c" x="372.5" y="140.9"/><use href="#c" x="850.1" y="201.9"/><use href="#c" x="888.2" y="157.4"/><use href="#c" x="106.6" y="333.9"/><use href="#c" x="299.6" y="150.7"/><use href="#c" x="774.2" y="284.5"/><use href="#c" x="877.5" y="155.6"/><use href="#c" x="198.6" y="327.4"/><use href="#c" x="508.0" y="191.8"/><use href="#c" x="387.1" y="156.1"/><use href="#c" x="203.0" y="320.6"/><use href="#c" x="221.8" y="287.4"/><use href="#c" x="933.4" y="314.6"/><use href="#c" x="474.0" y="215.4"/><use href="#c" x="944.5" y="397.3"/><use href="#c" x="701.4" y="187.9"/><use href="#c" x="114.2" y="343.3"/><use href="#c" x="660.0" y="89.9"/><use href="#c" x="705.2" y="198.6"/><use href="#c" x="289.0" y="169.1"/><use href="#c" x="505.7" y="194.2"/><use href="#c" x="532.5" y="158.1"/><use href="#c" x="125.5" y="355.4"/><use href="#c" x="308.1" y="139.4"/><use href="#c" x="340.1" y="124.1"/><use href="#c" x="182.2" y="346.6"/><use href="#c" x="376.3" y="144.6"/><use href="#c" x="223.7" y="283.7"/><use href="#c" x="315.2" y="132.7"/><use href="#c" x="456.0" y="214.1"/><use href="#c" x="126.0" y="355.3"/><use href="#c" x="374.7" y="142.1"/><use href="#c" x="400.0" y="167.2"/><use href="#c" x="630.6" y="50.7"/><use href="#c" x="206.6" y="315.1"/><use href="#c" x="478.8" y="214.1"/><use href="#c" x="323.5" y="127.2"/><use href="#c" x="586.6" y="66.5"/><use href="#c" x="879.0" y="155.2"/><use href="#c" x="930.6" y="294.6"/><use href="#c" x="309.6" y="138.5"/><use href="#c" x="186.0" y="342.8"/><use href="#c" x="934.7" y="323.3"/><use href="#c" x="589.6" y="63.0"/><use href="#c" x="348.9" y="126.4"/><use href="#c" x="596.4" y="55.7"/><use href="#c" x="404.8" y="174.2"/><use href="#c" x="114.4" y="344.4"/><use href="#c" x="938.0" y="348.7"/><use href="#c" x="455.4" y="213.2"/><use href="#c" x="358.6" y="130.9"/><use href="#c" x="812.7" y="257.1"/><use href="#c" x="151.9" y="362.6"/><use href="#c" x="331.0" y="124.3"/><use href="#c" x="361.4" y="132.9"/><use href="#c" x="678.7" y="131.3"/><use href="#c" x="137.0" y="361.1"/><use href="#c" x="296.7" y="156.0"/><use href="#c" x="200.3" y="324.5"/><use href="#c" x="213.5" y="302.7"/><use href="#c" x="531.0" y="160.7"/><use href="#c" x="236.2" y="257.5"/><use href="#c" x="826.8" y="230.8"/><use href="#c" x="469.6" y="216.3"/><use href="#c" x="514.9" y="184.8"/><use href="#c" x="845.1" y="213.1"/><use href="#c" x="260.5" y="225.1"/><use href="#c" x="109.2" y="338.1"/><use href="#c" x="259.7" y="227.1"/><use href="#c" x="102.9" y="329.0"/><use href="#c" x="478.0" y="214.2"/><use href="#c" x="416.3" y="185.0"/><use href="#c" x="784.7" y="283.0"/><use href="#c" x="175.8" y="349.8"/><use href="#c" x="909.6" y="200.9"/><use href="#c" x="183.7" y="343.5"/><use href="#c" x="797.2" y="276.3"/><use href="#c" x="785.7" y="283.4"/><use href="#c" x="695.0" y="172.4"/><use href="#c" x="843.4" y="215.4"/><use href="#c" x="440.7" y="206.3"/><use href="#c" x="759.7" y="275.9"/><use href="#c" x="102.4" y="328.6"/><use href="#c" x="425.5" y="194.6"/><use href="#c" x="573.5" y="84.6"/><use href="#c" x="385.9" y="153.5"/><use href="#c" x="164.2" y="359.2"/><use href="#c" x="350.2" y="126.9"/><use href="#c" x="795.0" y="277.7"/><use href="#c" x="757.0" y="275.2"/><use href="#c" x="377.1" y="144.4"/><use href="#c" x="182.3" y="346.3"/><use href="#c" x="275.8" y="194.3"/><use href="#c" x="643.2" y="61.9"/><use href="#c" x="748.8" y="266.2"/><use href="#c" x="247.9" y="231.2"/><use href="#c" x="251.7" y="243.5"/><use href="#c" x="218.5" y="293.3"/><use href="#c" x="725.9" y="244.8"/><use href="#c" x="198.5" y="325.5"/><use href="#c" x="506.5" y="193.7"/><use href="#c" x="179.0" y="348.1"/><use href="#c" x="167.9" y="357.2"/><use href="#c" x="202.1" y="322.1"/><use href="#c" x="120.1" y="349.6"/><use href="#c" x="102.4" y="327.4"/><use href="#c" x="157.1" y="362.1"/><use href="#c" x="227.4" y="276.7"/><use href="#c" x="436.9" y="203.5"/><use href="#c" x="171.3" y="354.3"/><use href="#c" x="108.4" y="336.3"/><use href="#c" x="389.8" y="156.8"/><use href="#c" x="273.0" y="198.2"/><use href="#c" x="850.4" y="201.4"/><use href="#c" x="150.7" y="363.3"/><use href="#c" x="899.2" y="172.7"/><use href="#c" x="151.5" y="362.2"/><use href="#c" x="174.6" y="353.3"/><use href="#c" x="946.5" y="409.3"/><use href="#c" x="226.4" y="278.5"/><use href="#c" x="852.3" y="197.0"/><use href="#c" x="233.2" y="265.6"/><use href="#c" x="138.6" y="362.2"/><use href="#c" x="142.3" y="362.9"/><use href="#c" x="148.0" y="362.8"/><use href="#c" x="109.3" y="337.5"/><use href="#c" x="773.8" y="284.4"/><use href="#c" x="541.4" y="143.3"/><use href="#c" x="939.0" y="355.1"/><use href="#c" x="117.2" y="346.2"/><use href="#c" x="358.4" y="130.5"/><use href="#c" x="153.8" y="361.8"/><use href="#c" x="465.6" y="215.7"/><use href="#c" x="755.2" y="273.1"/><use href="#c" x="281.1" y="183.4"/><use href="#c" x="664.3" y="100.0"/><use href="#c" x="493.1" y="207.3"/><use href="#c" x="102.4" y="328.3"/><use href="#c" x="569.0" y="93.6"/><use href="#c" x="157.0" y="362.9"/><use href="#c" x="562.7" y="104.8"/><use href="#c" x="202.7" y="320.8"/><use href="#c" x="358.9" y="130.7"/><use href="#c" x="468.4" y="216.5"/><use href="#c" x="218.8" y="293.3"/><use href="#c" x="275.2" y="195.0"/><use href="#c" x="382.4" y="149.5"/><use href="#c" x="118.5" y="347.8"/><use href="#c" x="497.1" y="203.6"/><use href="#c" x="384.9" y="152.5"/><use href="#c" x="876.6" y="158.0"/><use href="#c" x="281.0" y="184.1"/><use href="#c" x="473.8" y="215.7"/><use href="#c" x="420.9" y="189.7"/><use href="#c" x="174.3" y="353.1"/><use href="#c" x="102.4" y="328.0"/><use href="#c" x="822.7" y="239.8"/><use href="#c" x="384.2" y="151.5"/><use href="#c" x="305.0" y="143.2"/><use href="#c" x="225.4" y="281.5"/><use href="#c" x="251.1" y="243.9"/><use href="#c" x="150.9" y="363.1"/><use href="#c" x="674.2" y="121.0"/><use href="#c" x="129.0" y="357.1"/><use href="#c" x="821.0" y="243.7"/><use href="#c" x="462.1" y="215.3"/><use href="#c" x="319.9" y="129.5"/><use href="#c" x="752.3" y="269.7"/><use href="#c" x="733.8" y="241.3"/><use href="#c" x="432.3" y="200.2"/><use href="#c" x="232.1" y="266.0"/><use href="#c" x="389.5" y="156.9"/><use href="#c" x="202.6" y="320.4"/><use href="#c" x="468.9" y="215.9"/><use href="#c" x="234.4" y="262.5"/><use href="#c" x="426.9" y="195.0"/><use href="#c" x="125.8" y="354.1"/><use href="#c" x="161.2" y="358.9"/><use href="#c" x="259.9" y="226.6"/><use href="#c" x="928.5" y="280.1"/><use href="#c" x="324.4" y="126.6"/><use href="#c" x="420.6" y="190.1"/><use href="#c" x="102.4" y="327.7"/><use href="#c" x="860.1" y="181.4"/><use href="#c" x="480.3" y="212.6"/><use href="#c" x="261.2" y="224.2"/><use href="#c" x="525.9" y="168.7"/><use href="#c" x="792.5" y="280.0"/><use href="#c" x="770.9" y="283.4"/><use href="#c" x="432.9" y="199.8"/><use href="#c" x="171.7" y="353.6"/><use href="#c" x="305.8" y="144.3"/><use href="#c" x="160.0" y="361.7"/><use href="#c" x="456.8" y="214.2"/><use href="#c" x="452.9" y="214.1"/><use href="#c" x="581.7" y="72.7"/><use href="#c" x="480.2" y="214.2"/><use href="#c" x="209.2" y="310.1"/><use href="#c" x="296.5" y="156.3"/><use href="#c" x="918.2" y="233.3"/><use href="#c" x="462.7" y="215.8"/><use href="#c" x="102.4" y="328.9"/><use href="#c" x="600.7" y="51.9"/><use href="#c" x="939.2" y="355.3"/><use href="#c" x="292.9" y="161.0"/><use href="#c" x="398.1" y="165.8"/><use href="#c" x="234.2" y="263.5"/><use href="#c" x="394.8" y="162.4"/><use href="#c" x="333.7" y="124.5"/><use href="#c" x="133.6" y="358.9"/><use href="#c" x="309.7" y="137.4"/><use href="#c" x="137.8" y="361.3"/><use href="#c" x="136.4" y="361.4"/><use href="#c" x="292.3" y="162.2"/><use href="#c" x="634.9" y="53.0"/><use href="#c" x="124.4" y="353.3"/><use href="#c" x="195.8" y="331.2"/><use href="#c" x="276.0" y="193.7"/><use href="#c" x="185.8" y="341.8"/><use href="#c" x="379.0" y="146.6"/></g>
<g fill="#ff0000" fill-opacity="0.4" stroke="#ff0000" stroke-opacity="0.4" stroke-width="1.175"><use href="#c" x="697.6" y="179.9"/><use href="#c" x="834.8" y="233.6"/><use href="#c" x="521.6" y="175.0"/><use href="#c" x="653.5" y="78.3"/><use href="#c" x="746.6" y="262.9"/><use href="#c" x="785.0" y="283.4"/><use href="#c" x="649.6" y="71.6"/><use href="#c" x="364.5" y="134.6"/><use href="#c" x="482.8" y="212.8"/><use href="#c" x="493.0" y="206.1"/><use href="#c" x="449.7" y="212.0"/><use href="#c" x="729.8" y="234.3"/><use href="#c" x="632.8" y="51.0"/><use href="#c" x="692.9" y="168.8"/><use href="#c" x="532.8" y="158.3"/><use href="#c" x="601.1" y="52.1"/><use href="#c" x="578.7" y="78.1"/><use href="#c" x="483.6" y="211.9"/><use href="#c" x="653.0" y="77.3"/><use href="#c" x="506.9" y="193.4"/><use href="#c" x="525.9" y="168.7"/><use href="#c" x="505.1" y="195.5"/><use href="#c" x="781.5" y="284.1"/><use href="#c" x="899.4" y="174.0"/><use href="#c" x="682.5" y="141.9"/><use href="#c" x="431.5" y="199.5"/><use href="#c" x="854.0" y="194.3"/><use href="#c" x="592.0" y="61.1"/><use href="#c" x="623.6" y="46.4"/><use href="#c" x="378.6" y="147.2"/><use href="#c" x="742.9" y="257.5"/><use href="#c" x="470.5" y="216.4"/><use href="#c" x="815.2" y="252.8"/><use href="#c" x="540.7" y="144.7"/><use href="#c" x="944.6" y="398.8"/><use href="#c" x="528.0" y="166.3"/><use href="#c" x="594.0" y="58.2"/><use href="#c" x="661.6" y="92.7"/><use href="#c" x="601.1" y="52.5"/><use href="#c" x="782.0" y="284.5"/><use href="#c" x="950.5" y="432.0"/><use href="#c" x="685.8" y="151.8"/><use href="#c" x="477.0" y="215.0"/><use href="#c" x="619.5" y="46.2"/><use href="#c" x="913.8" y="216.3"/><use href="#c" x="805.8" y="267.3"/><use href="#c" x="609.1" y="47.7"/><use href="#c" x="621.1" y="47.0"/><use href="#c" x="932.3" y="309.0"/><use href="#c" x="657.7" y="85.3"/><use href="#c" x="657.9" y="86.5"/><use href="#c" x="909.7" y="203.0"/><use href="#c" x="807.8" y="265.1"/><use href="#c" x="526.0" y="168.4"/><use href="#c" x="707.9" y="205.5"/><use href="#c" x="828.8" y="244.3"/><use href="#c" x="418.0" y="187.3"/><use href="#c" x="718.7" y="230.6"/><use href="#c" x="624.3" y="47.1"/><use href="#c" x="658.4" y="87.0"/><use href="#c" x="744.4" y="260.4"/><use href="#c" x="506.4" y="194.7"/><use href="#c" x="520.6" y="176.5"/><use href="#c" x="812.7" y="258.0"/><use href="#c" x="677.3" y="129.3"/><use href="#c" x="770.2" y="283.7"/><use href="#c" x="842.1" y="219.9"/><use href="#c" x="349.4" y="126.9"/><use href="#c" x="571.1" y="89.0"/><use href="#c" x="837.6" y="228.1"/><use href="#c" x="612.0" y="47.2"/><use href="#c" x="585.9" y="67.8"/><use href="#c" x="506.9" y="193.3"/><use href="#c" x="865.3" y="171.9"/><use href="#c" x="552.9" y="122.6"/><use href="#c" x="778.5" y="284.4"/><use href="#c" x="653.6" y="77.4"/><use href="#c" x="547.9" y="133.9"/><use href="#c" x="797.5" y="276.0"/><use href="#c" x="407.8" y="176.8"/><use href="#c" x="931.2" y="299.7"/><use href="#c" x="945.5" y="404.2"/><use href="#c" x="432.3" y="201.2"/><use href="#c" x="603.8" y="50.0"/><use href="#c" x="878.2" y="156.7"/><use href="#c" x="578.3" y="79.0"/><use href="#c" x="559.8" y="109.9"/><use href="#c" x="922.2" y="247.8"/><use href="#c" x="811.6" y="259.4"/><use href="#c" x="603.1" y="51.2"/><use href="#c" x="564.2" y="101.8"/><use href="#c" x="812.5" y="258.3"/><use href="#c" x="933.4" y="312.5"/><use href="#c" x="733.7" y="240.8"/><use href="#c" x="930.1" y="292.3"/><use href="#c" x="515.7" y="183.1"/><use href="#c" x="905.1" y="188.3"/><use href="#c" x="607.7" y="47.6"/><use href="#c" x="377.1" y="144.7"/><use href="#c" x="567.1" y="98.5"/><use href="#c" x="504.9" y="196.1"/><use href="#c" x="591.0" y="61.1"/><use href="#c" x="644.7" y="64.0"/><use href="#c" x="583.2" y="70.8"/><use href="#c" x="682.5" y="143.1"/><use href="#c" x="450.8" y="212.5"/><use href="#c" x="632.9" y="51.7"/><use href="#c" x="800.0" y="274.3"/><use href="#c" x="816.1" y="253.5"/><use href="#c" x="547.6" y="132.1"/><use href="#c" x="946.4" y="410.4"/><use href="#c" x="727.1" y="227.8"/><use href="#c" x="800.2" y="274.0"/><use href="#c" x="866.1" y="168.8"/><use href="#c" x="749.7" y="267.5"/><use href="#c" x="758.0" y="276.1"/><use href="#c" x="600.2" y="53.0"/><use href="#c" x="898.7" y="172.9"/><use href="#c" x="533.5" y="157.7"/><use href="#c" x="928.4" y="279.6"/><use href="#c" x="448.8" y="210.3"/><use href="#c" x="620.6" y="46.4"/><use href="#c" x="875.3" y="158.0"/><use href="#c" x="513.2" y="185.4"/><use href="#c" x="943.9" y="394.4"/><use href="#c" x="553.3" y="120.9"/><use href="#c" x="396.2" y="164.1"/><use href="#c" x="560.9" y="108.8"/><use href="#c" x="834.4" y="235.4"/><use href="#c" x="908.1" y="197.5"/><use href="#c" x="526.1" y="168.8"/><use href="#c" x="713.7" y="217.8"/><use href="#c" x="870.5" y="163.6"/><use href="#c" x="946.8" y="413.5"/><use href="#c" x="763.6" y="280.0"/><use href="#c" x="823.3" y="239.6"/><use href="#c" x="928.1" y="282.4"/><use href="#c" x="503.9" y="196.7"/><use href="#c" x="572.1" y="87.6"/><use href="#c" x="660.5" y="90.2"/><use href="#c" x="456.5" y="214.0"/><use href="#c" x="716.3" y="223.3"/><use href="#c" x="435.3" y="202.0"/><use href="#c" x="764.3" y="281.1"/><use href="#c" x="583.3" y="71.5"/><use href="#c" x="678.9" y="133.6"/><use href="#c" x="910.1" y="203.9"/><use href="#c" x="363.2" y="133.3"/><use href="#c" x="331.6" y="124.5"/><use href="#c" x="667.1" y="104.5"/><use href="#c" x="686.0" y="149.9"/><use href="#c" x="731.0" y="236.4"/><use href="#c" x="950.5" y="430.5"/><use href="#c" x="737.9" y="249.0"/><use href="#c" x="713.9" y="218.1"/><use href="#c" x="499.9" y="200.5"/><use href="#c" x="860.8" y="179.5"/><use href="#c" x="946.3" y="409.5"/><use href="#c" x="472.2" y="215.6"/><use href="#c" x="472.0" y="216.0"/><use href="#c" x="913.0" y="213.9"/><use href="#c" x="518.6" y="179.2"/><use href="#c" x="730.0" y="234.5"/><use href="#c" x="503.7" y="197.0"/><use href="#c" x="915.1" y="223.5"/><use href="#c" x="442.4" y="207.6"/><use href="#c" x="699.7" y="185.6"/><use href="#c" x="453.2" y="213.4"/><use href="#c" x="907.6" y="197.4"/><use href="#c" x="498.0" y="202.0"/><use href="#c" x="924.6" y="255.9"/><use href="#c" x="553.9" y="119.4"/><use href="#c" x="535.8" y="153.5"/><use href="#c" x="935.3" y="328.7"/><use href="#c" x="804.5" y="268.6"/><use href="#c" x="777.9" y="284.6"/><use href="#c" x="562.7" y="105.9"/><use href="#c" x="597.2" y="55.8"/><use href="#c" x="650.4" y="72.7"/><use href="#c" x="766.3" y="281.5"/><use href="#c" x="521.6" y="175.2"/><use href="#c" x="514.2" y="185.2"/><use href="#c" x="479.9" y="213.6"/><use href="#c" x="858.1" y="185.1"/><use href="#c" x="567.5" y="96.0"/><use href="#c" x="575.1" y="82.9"/><use href="#c" x="802.2" y="271.6"/><use href="#c" x="631.1" y="50.7"/><use href="#c" x="717.9" y="227.7"/><use href="#c" x="879.5" y="156.2"/><use href="#c" x="561.6" y="106.6"/><use href="#c" x="857.0" y="187.1"/><use href="#c" x="527.4" y="166.5"/><use href="#c" x="471.0" y="215.1"/><use href="#c" x="874.3" y="158.4"/><use href="#c" x="741.8" y="256.7"/><use href="#c" x="487.3" y="209.8"/><use href="#c" x="432.4" y="200.0"/><use href="#c" x="157.7" y="362.6"/><use href="#c" x="323.2" y="126.7"/><use href="#c" x="461.4" y="216.2"/><use href="#c" x="911.2" y="207.3"/><use href="#c" x="648.7" y="70.9"/><use href="#c" x="719.6" y="231.4"/><use href="#c" x="774.6" y="284.2"/><use href="#c" x="907.7" y="195.3"/><use href="#c" x="441.5" y="207.0"/><use href="#c" x="376.7" y="144.8"/><use href="#c" x="455.8" y="213.8"/><use href="#c" x="588.2" y="64.9"/><use href="#c" x="912.6" y="212.2"/><use href="#c" x="698.4" y="181.4"/><use href="#c" x="733.9" y="243.0"/><use href="#c" x="590.1" y="63.3"/><use href="#c" x="757.5" y="275.1"/><use href="#c" x="637.2" y="55.7"/><use href="#c" x="856.3" y="188.1"/><use href="#c" x="634.9" y="53.2"/><use href="#c" x="434.8" y="202.9"/><use href="#c" x="800.1" y="273.9"/><use href="#c" x="521.9" y="175.2"/><use href="#c" x="752.6" y="270.3"/><use href="#c" x="594.0" y="58.9"/><use href="#c" x="686.0" y="150.4"/><use href="#c" x="653.1" y="76.2"/><use href="#c" x="926.4" y="267.5"/><use href="#c" x="842.9" y="218.7"/><use href="#c" x="645.7" y="65.8"/><use href="#c" x="909.9" y="204.4"/><use href="#c" x="795.0" y="277.8"/><use href="#c" x="590.3" y="61.7"/><use href="#c" x="604.0" y="50.3"/><use href="#c" x="701.6" y="190.1"/><use href="#c" x="608.8" y="47.9"/><use href="#c" x="488.4" y="209.4"/><use href="#c" x="697.4" y="180.1"/><use href="#c" x="786.4" y="282.7"/><use href="#c" x="598.4" y="54.5"/><use href="#c" x="713.9" y="218.0"/><use href="#c" x="941.2" y="371.2"/><use href="#c" x="531.6" y="160.3"/><use href="#c" x="613.9" y="46.6"/><use href="#c" x="526.4" y="169.0"/><use href="#c" x="336.1" y="123.5"/><use href="#c" x="574.0" y="84.8"/><use href="#c" x="726.5" y="227.9"/><use href="#c" x="713.3" y="216.5"/><use href="#c" x="627.2" y="48.6"/><use href="#c" x="533.4" y="158.0"/><use href="#c" x="777.2" y="284.0"/><use href="#c" x="854.3" y="192.5"/><use href="#c" x="866.7" y="169.3"/><use href="#c" x="502.5" y="198.0"/><use href="#c" x="652.4" y="74.5"/><use href="#c" x="316.2" y="131.8"/><use href="#c" x="556.5" y="115.6"/><use href="#c" x="450.4" y="211.9"/><use href="#c" x="618.4" y="46.4"/><use href="#c" x="806.5" y="265.8"/><use href="#c" x="514.3" y="184.1"/><use href="#c" x="530.3" y="161.9"/><use href="#c" x="950.5" y="431.6"/><use href="#c" x="644.1" y="63.6"/><use href="#c" x="509.0" y="191.4"/><use href="#c" x="830.4" y="242.0"/><use href="#c" x="690.2" y="162.4"/><use href="#c" x="673.6" y="120.6"/><use href="#c" x="664.1" y="98.0"/><use href="#c" x="705.0" y="198.5"/><use href="#c" x="687.0" y="154.2"/><use href="#c" x="513.1" y="186.8"/><use href="#c" x="615.6" y="46.4"/><use href="#c" x="652.3" y="75.7"/><use href="#c" x="808.4" y="263.8"/><use href="#c" x="910.4" y="204.0"/><use href="#c" x="950.5" y="432.4"/><use href="#c" x="459.1" y="215.4"/><use href="#c" x="409.4" y="178.6"/><use href="#c" x="925.1" y="258.1"/><use href="#c" x="533.1" y="157.9"/><use href="#c" x="576.8" y="80.1"/><use href="#c" x="899.9" y="175.5"/><use href="#c" x="577.7" y="79.1"/><use href="#c" x="367.3" y="137.1"/><use href="#c" x="652.1" y="75.6"/><use href="#c" x="654.7" y="81.2"/><use href="#c" x="754.2" y="272.8"/><use href="#c" x="520.4" y="177.0"/><use href="#c" x="949.8" y="430.6"/><use href="#c" x="612.3" y="46.9"/><use href="#c" x="483.6" y="211.0"/><use href="#c" x="904.8" y="187.6"/><use href="#c" x="474.6" y="214.5"/><use href="#c" x="809.9" y="262.3"/><use href="#c" x="937.5" y="343.6"/><use href="#c" x="399.6" y="168.8"/><use href="#c" x="396.7" y="164.9"/><use href="#c" x="648.0" y="69.9"/><use href="#c" x="789.9" y="281.5"/><use href="#c" x="508.3" y="191.6"/><use href="#c" x="849.1" y="204.8"/><use href="#c" x="352.3" y="128.0"/><use href="#c" x="911.8" y="210.4"/><use href="#c" x="584.4" y="69.5"/><use href="#c" x="457.1" y="214.6"/><use href="#c" x="786.2" y="283.4"/><use href="#c" x="433.1" y="200.1"/><use href="#c" x="608.3" y="49.0"/><use href="#c" x="379.3" y="147.3"/><use href="#c" x="698.0" y="179.0"/><use href="#c" x="295.0" y="158.0"/><use href="#c" x="747.9" y="265.2"/><use href="#c" x="782.5" y="283.3"/><use href="#c" x="653.6" y="78.3"/><use href="#c" x="336.6" y="122.9"/><use href="#c" x="529.9" y="163.1"/><use href="#c" x="449.8" y="211.7"/><use href="#c" x="623.7" y="47.1"/><use href="#c" x="785.2" y="283.8"/><use href="#c" x="656.8" y="84.1"/><use href="#c" x="495.8" y="202.9"/><use href="#c" x="944.3" y="398.9"/><use href="#c" x="342.8" y="123.7"/><use href="#c" x="902.5" y="180.3"/><use href="#c" x="607.2" y="49.1"/><use href="#c" x="545.4" y="135.8"/><use href="#c" x="464.1" y="215.5"/><use href="#c" x="548.4" y="131.0"/><use href="#c" x="524.8" y="170.2"/><use href="#c" x="542.9" y="141.5"/><use href="#c" x="877.1" y="157.0"/><use href="#c" x="933.9" y="319.0"/><use href="#c" x="650.1" y="73.4"/><use href="#c" x="528.6" y="165.4"/><use href="#c" x="468.4" y="215.1"/><use href="#c" x="837.6" y="227.0"/><use href="#c" x="603.5" y="50.7"/><use href="#c" x="539.8" y="146.4"/><use href="#c" x="357.0" y="129.1"/><use href="#c" x="678.4" y="132.5"/><use href="#c" x="872.0" y="162.3"/><use href="#c" x="333.6" y="124.1"/><use href="#c" x="651.6" y="74.6"/><use href="#c" x="564.2" y="102.6"/><use href="#c" x="636.9" y="55.2"/><use href="#c" x="494.7" y="204.1"/><use href="#c" x="460.7" y="215.5"/><use href="#c" x="619.6" y="47.2"/><use href="#c" x="628.1" y="48.9"/><use href="#c" x="936.1" y="336.6"/><use href="#c" x="684.0" y="145.2"/><use href="#c" x="712.5" y="216.5"/><use href="#c" x="374.2" y="142.6"/><use href="#c" x="533.4" y="158.1"/><use href="#c" x="751.9" y="270.2"/><use href="#c" x="618.5" y="46.4"/><use href="#c" x="608.1" y="47.8"/><use href="#c" x="823.3" y="238.5"/><use href="#c" x="720.3" y="232.4"/><use href="#c" x="414.3" y="183.9"/><use href="#c" x="691.0" y="164.6"/><use href="#c" x="524.6" y="171.6"/><use href="#c" x="940.0" y="365.3"/><use href="#c" x="935.9" y="331.2"/><use href="#c" x="670.5" y="113.3"/><use href="#c" x="561.4" y="107.6"/><use href="#c" x="809.0" y="263.1"/><use href="#c" x="950.5" y="431.5"/><use href="#c" x="900.6" y="177.1"/><use href="#c" x="922.1" y="246.5"/><use href="#c" x="762.6" y="279.8"/><use href="#c" x="336.0" y="123.7"/><use href="#c" x="612.1" y="46.6"/><use href="#c" x="708.3" y="205.5"/><use href="#c" x="358.6" y="129.6"/><use href="#c" x="594.4" y="57.6"/><use href="#c" x="705.3" y="198.1"/><use href="#c" x="903.5" y="182.9"/><use href="#c" x="945.8" y="405.7"/><use href="#c" x="929.0" y="284.3"/><use href="#c" x="837.4" y="230.4"/><use href="#c" x="599.7" y="53.6"/><use href="#c" x="573.5" y="84.3"/><use href="#c" x="845.5" y="211.0"/><use href="#c" x="699.1" y="183.8"/><use href="#c" x="567.8" y="95.7"/><use href="#c" x="612.9" y="47.1"/><use href="#c" x="774.0" y="284.7"/><use href="#c" x="501.3" y="200.3"/><use href="#c" x="532.3" y="158.2"/><use href="#c" x="549.8" y="127.2"/><use href="#c" x="365.5" y="135.2"/><use href="#c" x="521.8" y="174.3"/><use href="#c" x="681.1" y="139.4"/><use href="#c" x="696.8" y="177.8"/><use href="#c" x="503.4" y="197.4"/><use href="#c" x="620.5" y="45.8"/><use href="#c" x="576.3" y="81.5"/><use href="#c" x="487.0" y="210.2"/><use href="#c" x="664.6" y="99.7"/><use href="#c" x="752.3" y="269.8"/><use href="#c" x="950.5" y="431.3"/><use href="#c" x="324.2" y="126.6"/><use href="#c" x="908.2" y="197.6"/><use href="#c" x="609.0" y="48.3"/><use href="#c" x="903.4" y="182.5"/><use href="#c" x="557.8" y="112.5"/><use href="#c" x="552.0" y="123.9"/><use href="#c" x="919.9" y="241.4"/><use href="#c" x="940.1" y="366.0"/><use href="#c" x="611.9" y="46.7"/><use href="#c" x="903.6" y="183.6"/><use href="#c" x="649.3" y="71.9"/><use href="#c" x="801.4" y="272.6"/><use href="#c" x="525.7" y="169.6"/><use href="#c" x="758.7" y="276.9"/><use href="#c" x="949.0" y="426.6"/><use href="#c" x="688.4" y="155.8"/><use href="#c" x="469.6" y="215.4"/><use href="#c" x="872.3" y="160.7"/><use href="#c" x="439.4" y="204.7"/><use href="#c" x="575.5" y="82.8"/><use href="#c" x="639.9" y="58.6"/><use href="#c" x="569.0" y="94.3"/><use href="#c" x="937.9" y="349.2"/><use href="#c" x="519.8" y="178.2"/><use href="#c" x="500.8" y="199.5"/><use href="#c" x="476.7" y="214.6"/><use href="#c" x="746.6" y="262.6"/><use href="#c" x="325.2" y="125.8"/><use href="#c" x="517.3" y="180.8"/><use href="#c" x="750.9" y="269.1"/><use href="#c" x="421.5" y="190.3"/><use href="#c" x="473.7" y="214.9"/><use href="#c" x="549.1" y="129.5"/><use href="#c" x="624.4" y="48.5"/><use href="#c" x="329.6" y="124.4"/><use href="#c" x="850.2" y="201.0"/><use href="#c" x="501.9" y="199.5"/><use href="#c" x="783.8" y="283.8"/></g>
<g stroke="#b0b0b0" stroke-opacity="0.3" stroke-width="0.94" fill="none"><line x1="102.38" y1="25.5" x2="102.38" y2="451.5"/><line x1="271.40" y1="25.5" x2="271.40" y2="451.5"/><line x1="441.29" y1="25.5" x2="441.29" y2="451.5"/><line x1="610.99" y1="25.5" x2="610.99" y2="451.5"/><line x1="780.70" y1="25.5" x2="780.70" y2="451.5"/><line x1="950.44" y1="25.5" x2="950.44" y2="451.5"/><line x1="59.5" y1="450.34" x2="992.5" y2="450.34"/><line x1="59.5" y1="380.52" x2="992.5" y2="380.52"/><line x1="59.5" y1="311.52" x2="992.5" y2="311.52"/><line x1="59.5" y1="241.52" x2="992.5" y2="241.52"/><line x1="59.5" y1="172.52" x2="992.5" y2="172.52"/><line x1="59.5" y1="102.96" x2="992.5" y2="102.96"/><line x1="59.5" y1="33.93" x2="992.5" y2="33.93"/></g>
<rect x="59.5" y="25.5" width="933.0" height="426.0" fill="none" stroke="#000" stroke-width="0.94" stroke-linejoin="miter"/>
<g stroke="#000" stroke-width="0.94"><line x1="102.38" y1="451.5" x2="102.38" y2="455.61"/><line x1="271.40" y1="451.5" x2="271.40" y2="455.61"/><line x1="441.29" y1="451.5" x2="441.29" y2="455.61"/><line x1="610.99" y1="451.5" x2="610.99" y2="455.61"/><line x1="780.70" y1="451.5" x2="780.70" y2="455.61"/><line x1="950.44" y1="451.5" x2="950.44" y2="455.61"/><line x1="59.5" y1="450.34" x2="55.39" y2="450.34"/><line x1="59.5" y1="380.52" x2="55.39" y2="380.52"/><line x1="59.5" y1="311.52" x2="55.39" y2="311.52"/><line x1="59.5" y1="241.52" x2="55.39" y2="241.52"/><line x1="59.5" y1="172.52" x2="55.39" y2="172.52"/><line x1="59.5" y1="102.96" x2="55.39" y2="102.96"/><line x1="59.5" y1="33.93" x2="55.39" y2="33.93"/></g>
<g font-size="11.75" fill="#000"><text x="102.38" y="467.90" text-anchor="middle">0.0</text><text x="271.40" y="467.90" text-anchor="middle">0.2</text><text x="441.29" y="467.90" text-anchor="middle">0.4</text><text x="610.99" y="467.90" text-anchor="middle">0.6</text><text x="780.70" y="467.90" text-anchor="middle">0.8</text><text x="950.44" y="467.90" text-anchor="middle">1.0</text><text x="51.00" y="454.14" text-anchor="end">0.03</text><text x="51.00" y="384.32" text-anchor="end">0.04</text><text x="51.00" y="315.32" text-anchor="end">0.05</text><text x="51.00" y="245.32" text-anchor="end">0.06</text><text x="51.00" y="176.32" text-anchor="end">0.07</text><text x="51.00" y="106.76" text-anchor="end">0.08</text><text x="51.00" y="37.73" text-anchor="end">0.09</text><text x="526.00" y="484.50" text-anchor="middle">Normalized Voxel Intensity</text><text transform="translate(17.00 239.10) rotate(-90)" text-anchor="middle">SVM Probability</text></g>
<text x="526.30" y="18.60" font-size="14.10" text-anchor="middle" fill="#000">Voxel Classification (Sample of 10,000 from 983,040 voxels)</text>
<rect x="829.50" y="31.50" width="157.00" height="56.00" rx="2.35" fill="#fff" fill-opacity="0.8" stroke="#cccccc" stroke-opacity="0.8" stroke-width="0.94"/>
<circle cx="845.00" cy="42.20" r="3.525" fill="#0000ff" fill-opacity="0.1" stroke="#0000ff" stroke-opacity="0.1" stroke-width="1.175"/><text x="865.30" y="46.00" font-size="11.75" fill="#000">Non-tumor (correct)</text>
<circle cx="845.00" cy="59.70" r="3.525" fill="#008000" fill-opacity="0.1" stroke="#008000" stroke-opacity="0.1" stroke-width="1.175"/><text x="865.30" y="63.60" font-size="11.75" fill="#000">Tumor (correct)</text>
<circle cx="845.00" cy="77.20" r="3.525" fill="#ff0000" fill-opacity="0.4" stroke="#ff0000" stroke-opacity="0.4" stroke-width="1.175"/><text x="865.30" y="81.00" font-size="11.75" fill="#000">Misclassified</text>
</svg>
</body></html>
